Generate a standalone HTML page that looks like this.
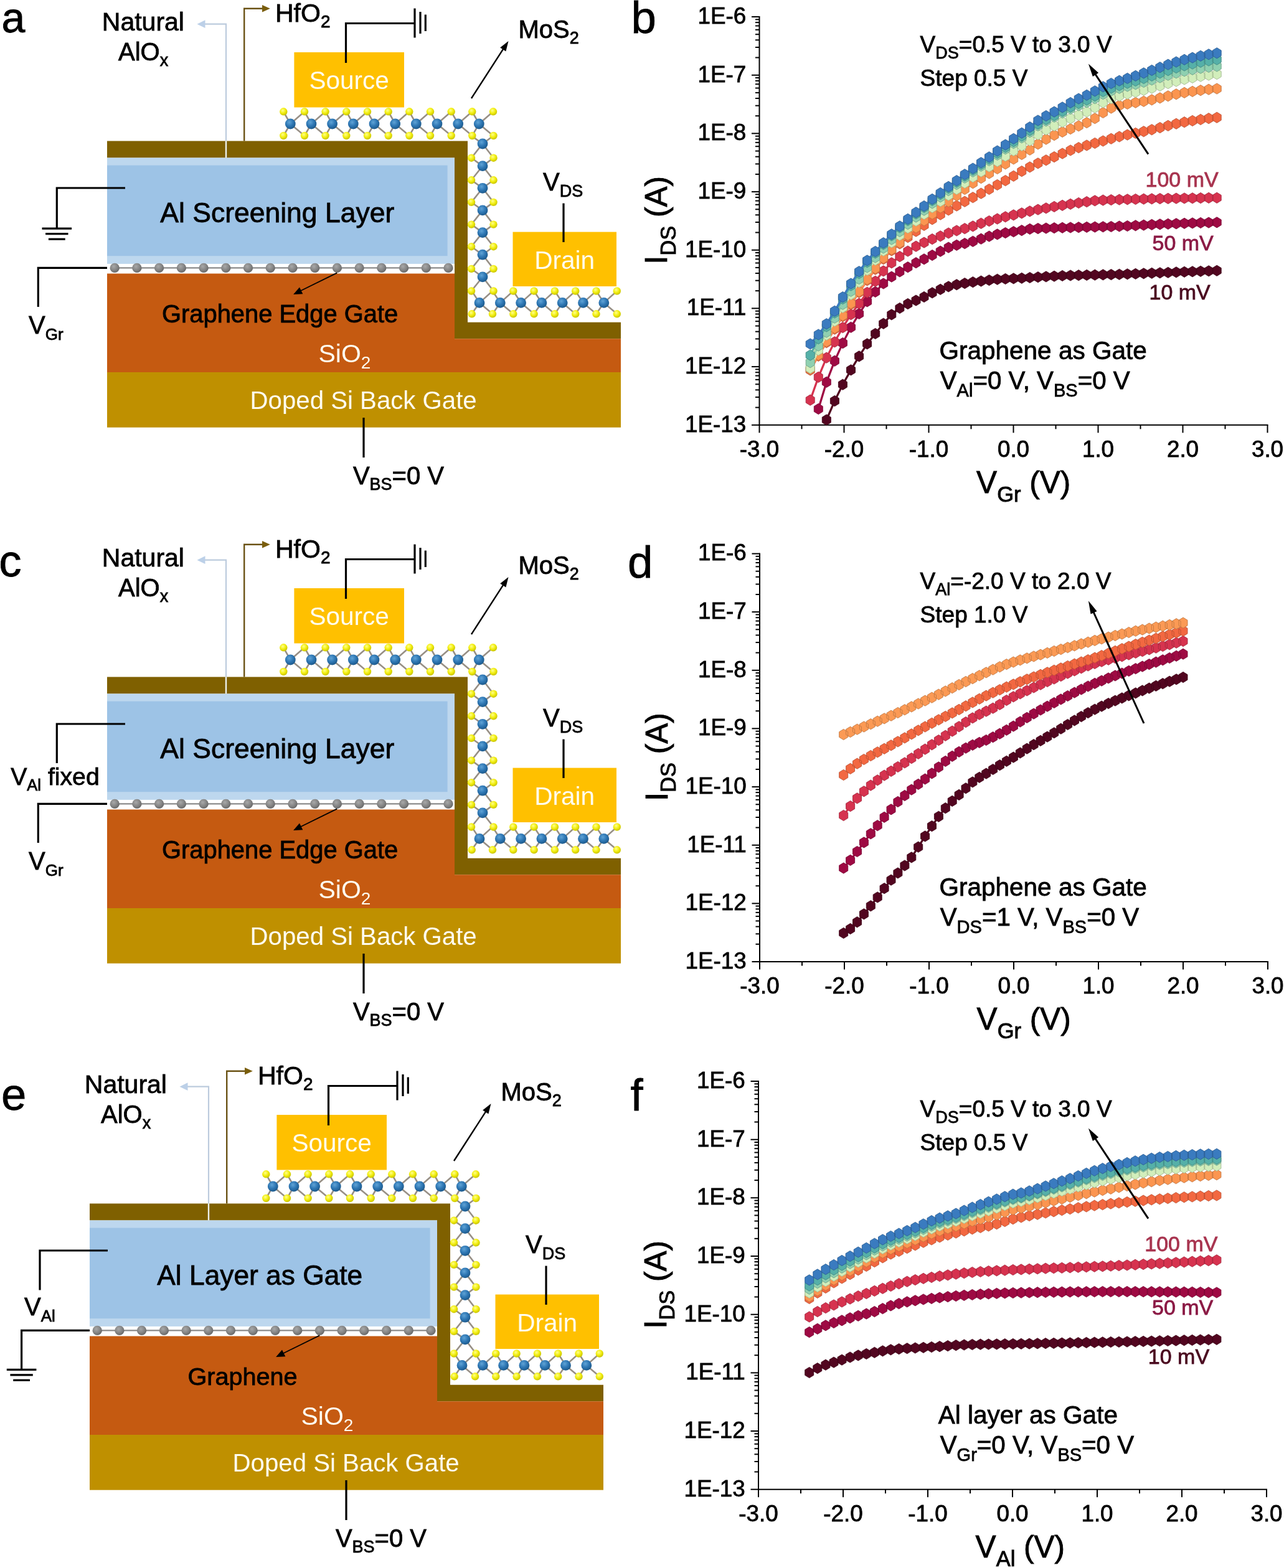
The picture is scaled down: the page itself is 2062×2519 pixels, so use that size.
<!DOCTYPE html><html><head><meta charset="utf-8"><title>Figure</title><style>html,body{margin:0;padding:0;background:#fff;width:2062px;height:2519px;overflow:hidden}svg{display:block;font-family:'Liberation Sans', Arial, sans-serif}</style></head><body><svg width="2062" height="2519" viewBox="0 0 2062 2519"><defs>
<radialGradient id="gMo" cx="0.4" cy="0.35" r="0.65"><stop offset="0" stop-color="#5fa3d6"/><stop offset="0.55" stop-color="#2e77b4"/><stop offset="1" stop-color="#1d5a8c"/></radialGradient>
<radialGradient id="gS" cx="0.4" cy="0.35" r="0.65"><stop offset="0" stop-color="#ffff8c"/><stop offset="0.55" stop-color="#f2ee10"/><stop offset="1" stop-color="#c9c400"/></radialGradient>
<radialGradient id="gC" cx="0.4" cy="0.35" r="0.65"><stop offset="0" stop-color="#a8a8a8"/><stop offset="0.6" stop-color="#858585"/><stop offset="1" stop-color="#686868"/></radialGradient>
</defs><rect width="2062" height="2519" fill="#fff"/><g transform="translate(0,0)">
<polygon points="172,226.4 751,226.4 751,517.8 997,517.8 997,544.2 730,544.2 730,253.5 172,253.5" fill="#7f6000"/>
<rect x="172" y="253.5" width="558" height="170.4" fill="#bdd7ee"/>
<rect x="172" y="265.6" width="546.6" height="145.6" fill="#9dc3e6"/>
<polygon points="172,439.6 730,439.6 730,544.2 997,544.2 997,598 172,598" fill="#c55a11"/>
<rect x="172" y="598" width="825" height="88.7" fill="#bf9000"/>
<polyline points="363,226.4 363,38.7 327,38.7" fill="none" stroke="#bccbdd" stroke-width="2.2"/>
<line x1="363" y1="226.4" x2="363" y2="253.5" stroke="#edf2ee" stroke-width="2.4"/>
<polygon points="316.5,38.7 329.5,32.3 329.5,45.1" fill="#bcd0e8"/>
<polyline points="392.2,226.4 392.2,13.8 423,13.8" fill="none" stroke="#6a5214" stroke-width="2.4"/>
<polygon points="433.8,13.8 421,8 421,19.6" fill="#7a5e0c"/>
<line x1="184" y1="430.4" x2="720" y2="430.4" stroke="#8a8a8a" stroke-width="2.2"/>
<circle cx="184.2" cy="430.4" r="7.7" fill="url(#gC)"/>
<circle cx="219.9" cy="430.4" r="7.7" fill="url(#gC)"/>
<circle cx="255.6" cy="430.4" r="7.7" fill="url(#gC)"/>
<circle cx="291.4" cy="430.4" r="7.7" fill="url(#gC)"/>
<circle cx="327.1" cy="430.4" r="7.7" fill="url(#gC)"/>
<circle cx="362.8" cy="430.4" r="7.7" fill="url(#gC)"/>
<circle cx="398.5" cy="430.4" r="7.7" fill="url(#gC)"/>
<circle cx="434.2" cy="430.4" r="7.7" fill="url(#gC)"/>
<circle cx="470.0" cy="430.4" r="7.7" fill="url(#gC)"/>
<circle cx="505.7" cy="430.4" r="7.7" fill="url(#gC)"/>
<circle cx="541.4" cy="430.4" r="7.7" fill="url(#gC)"/>
<circle cx="577.1" cy="430.4" r="7.7" fill="url(#gC)"/>
<circle cx="612.8" cy="430.4" r="7.7" fill="url(#gC)"/>
<circle cx="648.6" cy="430.4" r="7.7" fill="url(#gC)"/>
<circle cx="684.3" cy="430.4" r="7.7" fill="url(#gC)"/>
<circle cx="720.0" cy="430.4" r="7.7" fill="url(#gC)"/>
<line x1="541.3" y1="438.4" x2="481.1" y2="468.0" stroke="#000" stroke-width="1.8"/><polygon points="471.1,473.0 481.0,461.4 486.3,472.2" fill="#000"/>
<g stroke="#978f85" stroke-width="2.6">
<line x1="466.3" y1="199.0" x2="455.3" y2="179.3"/>
<line x1="466.3" y1="199.0" x2="455.3" y2="218.0"/>
<line x1="466.3" y1="199.0" x2="489.0" y2="179.3"/>
<line x1="466.3" y1="199.0" x2="489.0" y2="218.0"/>
<line x1="500.0" y1="199.0" x2="489.0" y2="179.3"/>
<line x1="500.0" y1="199.0" x2="489.0" y2="218.0"/>
<line x1="500.0" y1="199.0" x2="522.6" y2="179.3"/>
<line x1="500.0" y1="199.0" x2="522.6" y2="218.0"/>
<line x1="533.6" y1="199.0" x2="522.6" y2="179.3"/>
<line x1="533.6" y1="199.0" x2="522.6" y2="218.0"/>
<line x1="533.6" y1="199.0" x2="556.3" y2="179.3"/>
<line x1="533.6" y1="199.0" x2="556.3" y2="218.0"/>
<line x1="567.3" y1="199.0" x2="556.3" y2="179.3"/>
<line x1="567.3" y1="199.0" x2="556.3" y2="218.0"/>
<line x1="567.3" y1="199.0" x2="590.0" y2="179.3"/>
<line x1="567.3" y1="199.0" x2="590.0" y2="218.0"/>
<line x1="601.0" y1="199.0" x2="590.0" y2="179.3"/>
<line x1="601.0" y1="199.0" x2="590.0" y2="218.0"/>
<line x1="601.0" y1="199.0" x2="623.7" y2="179.3"/>
<line x1="601.0" y1="199.0" x2="623.7" y2="218.0"/>
<line x1="634.7" y1="199.0" x2="623.7" y2="179.3"/>
<line x1="634.7" y1="199.0" x2="623.7" y2="218.0"/>
<line x1="634.7" y1="199.0" x2="657.3" y2="179.3"/>
<line x1="634.7" y1="199.0" x2="657.3" y2="218.0"/>
<line x1="668.3" y1="199.0" x2="657.3" y2="179.3"/>
<line x1="668.3" y1="199.0" x2="657.3" y2="218.0"/>
<line x1="668.3" y1="199.0" x2="691.0" y2="179.3"/>
<line x1="668.3" y1="199.0" x2="691.0" y2="218.0"/>
<line x1="702.0" y1="199.0" x2="691.0" y2="179.3"/>
<line x1="702.0" y1="199.0" x2="691.0" y2="218.0"/>
<line x1="702.0" y1="199.0" x2="724.7" y2="179.3"/>
<line x1="702.0" y1="199.0" x2="724.7" y2="218.0"/>
<line x1="735.7" y1="199.0" x2="724.7" y2="179.3"/>
<line x1="735.7" y1="199.0" x2="724.7" y2="218.0"/>
<line x1="735.7" y1="199.0" x2="758.3" y2="179.3"/>
<line x1="735.7" y1="199.0" x2="758.3" y2="218.0"/>
<line x1="769.3" y1="199.0" x2="758.3" y2="179.3"/>
<line x1="769.3" y1="199.0" x2="758.3" y2="218.0"/>
<line x1="769.3" y1="199.0" x2="792.0" y2="179.3"/>
<line x1="769.3" y1="199.0" x2="792.0" y2="218.0"/>
<line x1="775.0" y1="231.0" x2="757.0" y2="218.0"/>
<line x1="775.0" y1="231.0" x2="792.5" y2="218.0"/>
<line x1="775.0" y1="231.0" x2="757.0" y2="253.7"/>
<line x1="775.0" y1="231.0" x2="792.5" y2="253.7"/>
<line x1="775.0" y1="266.6" x2="757.0" y2="253.7"/>
<line x1="775.0" y1="266.6" x2="792.5" y2="253.7"/>
<line x1="775.0" y1="266.6" x2="757.0" y2="289.3"/>
<line x1="775.0" y1="266.6" x2="792.5" y2="289.3"/>
<line x1="775.0" y1="302.3" x2="757.0" y2="289.3"/>
<line x1="775.0" y1="302.3" x2="792.5" y2="289.3"/>
<line x1="775.0" y1="302.3" x2="757.0" y2="324.9"/>
<line x1="775.0" y1="302.3" x2="792.5" y2="324.9"/>
<line x1="775.0" y1="337.9" x2="757.0" y2="324.9"/>
<line x1="775.0" y1="337.9" x2="792.5" y2="324.9"/>
<line x1="775.0" y1="337.9" x2="757.0" y2="360.6"/>
<line x1="775.0" y1="337.9" x2="792.5" y2="360.6"/>
<line x1="775.0" y1="373.6" x2="757.0" y2="360.6"/>
<line x1="775.0" y1="373.6" x2="792.5" y2="360.6"/>
<line x1="775.0" y1="373.6" x2="757.0" y2="396.2"/>
<line x1="775.0" y1="373.6" x2="792.5" y2="396.2"/>
<line x1="775.0" y1="409.2" x2="757.0" y2="396.2"/>
<line x1="775.0" y1="409.2" x2="792.5" y2="396.2"/>
<line x1="775.0" y1="409.2" x2="757.0" y2="431.9"/>
<line x1="775.0" y1="409.2" x2="792.5" y2="431.9"/>
<line x1="775.0" y1="444.9" x2="757.0" y2="431.9"/>
<line x1="775.0" y1="444.9" x2="792.5" y2="431.9"/>
<line x1="775.0" y1="444.9" x2="757.0" y2="467.5"/>
<line x1="775.0" y1="444.9" x2="792.5" y2="467.5"/>
<line x1="770.0" y1="486.4" x2="757.7" y2="467.5"/>
<line x1="770.0" y1="486.4" x2="757.7" y2="504.3"/>
<line x1="770.0" y1="486.4" x2="791.0" y2="467.5"/>
<line x1="770.0" y1="486.4" x2="791.0" y2="504.3"/>
<line x1="803.3" y1="486.4" x2="791.0" y2="467.5"/>
<line x1="803.3" y1="486.4" x2="791.0" y2="504.3"/>
<line x1="803.3" y1="486.4" x2="824.3" y2="467.5"/>
<line x1="803.3" y1="486.4" x2="824.3" y2="504.3"/>
<line x1="836.6" y1="486.4" x2="824.3" y2="467.5"/>
<line x1="836.6" y1="486.4" x2="824.3" y2="504.3"/>
<line x1="836.6" y1="486.4" x2="857.6" y2="467.5"/>
<line x1="836.6" y1="486.4" x2="857.6" y2="504.3"/>
<line x1="869.9" y1="486.4" x2="857.6" y2="467.5"/>
<line x1="869.9" y1="486.4" x2="857.6" y2="504.3"/>
<line x1="869.9" y1="486.4" x2="890.9" y2="467.5"/>
<line x1="869.9" y1="486.4" x2="890.9" y2="504.3"/>
<line x1="903.2" y1="486.4" x2="890.9" y2="467.5"/>
<line x1="903.2" y1="486.4" x2="890.9" y2="504.3"/>
<line x1="903.2" y1="486.4" x2="924.2" y2="467.5"/>
<line x1="903.2" y1="486.4" x2="924.2" y2="504.3"/>
<line x1="936.5" y1="486.4" x2="924.2" y2="467.5"/>
<line x1="936.5" y1="486.4" x2="924.2" y2="504.3"/>
<line x1="936.5" y1="486.4" x2="957.5" y2="467.5"/>
<line x1="936.5" y1="486.4" x2="957.5" y2="504.3"/>
<line x1="969.8" y1="486.4" x2="957.5" y2="467.5"/>
<line x1="969.8" y1="486.4" x2="957.5" y2="504.3"/>
<line x1="969.8" y1="486.4" x2="990.8" y2="467.5"/>
<line x1="969.8" y1="486.4" x2="990.8" y2="504.3"/>
</g>
<circle cx="455.3" cy="179.3" r="6.2" fill="url(#gS)"/>
<circle cx="489.0" cy="179.3" r="6.2" fill="url(#gS)"/>
<circle cx="522.6" cy="179.3" r="6.2" fill="url(#gS)"/>
<circle cx="556.3" cy="179.3" r="6.2" fill="url(#gS)"/>
<circle cx="590.0" cy="179.3" r="6.2" fill="url(#gS)"/>
<circle cx="623.7" cy="179.3" r="6.2" fill="url(#gS)"/>
<circle cx="657.3" cy="179.3" r="6.2" fill="url(#gS)"/>
<circle cx="691.0" cy="179.3" r="6.2" fill="url(#gS)"/>
<circle cx="724.7" cy="179.3" r="6.2" fill="url(#gS)"/>
<circle cx="758.3" cy="179.3" r="6.2" fill="url(#gS)"/>
<circle cx="792.0" cy="179.3" r="6.2" fill="url(#gS)"/>
<circle cx="455.3" cy="218.0" r="6.2" fill="url(#gS)"/>
<circle cx="489.0" cy="218.0" r="6.2" fill="url(#gS)"/>
<circle cx="522.6" cy="218.0" r="6.2" fill="url(#gS)"/>
<circle cx="556.3" cy="218.0" r="6.2" fill="url(#gS)"/>
<circle cx="590.0" cy="218.0" r="6.2" fill="url(#gS)"/>
<circle cx="623.7" cy="218.0" r="6.2" fill="url(#gS)"/>
<circle cx="657.3" cy="218.0" r="6.2" fill="url(#gS)"/>
<circle cx="691.0" cy="218.0" r="6.2" fill="url(#gS)"/>
<circle cx="724.7" cy="218.0" r="6.2" fill="url(#gS)"/>
<circle cx="758.3" cy="218.0" r="6.2" fill="url(#gS)"/>
<circle cx="792.5" cy="218.0" r="6.2" fill="url(#gS)"/>
<circle cx="757.0" cy="253.7" r="6.2" fill="url(#gS)"/>
<circle cx="792.5" cy="253.7" r="6.2" fill="url(#gS)"/>
<circle cx="757.0" cy="289.3" r="6.2" fill="url(#gS)"/>
<circle cx="792.5" cy="289.3" r="6.2" fill="url(#gS)"/>
<circle cx="757.0" cy="324.9" r="6.2" fill="url(#gS)"/>
<circle cx="792.5" cy="324.9" r="6.2" fill="url(#gS)"/>
<circle cx="757.0" cy="360.6" r="6.2" fill="url(#gS)"/>
<circle cx="792.5" cy="360.6" r="6.2" fill="url(#gS)"/>
<circle cx="757.0" cy="396.2" r="6.2" fill="url(#gS)"/>
<circle cx="792.5" cy="396.2" r="6.2" fill="url(#gS)"/>
<circle cx="757.0" cy="431.9" r="6.2" fill="url(#gS)"/>
<circle cx="792.5" cy="431.9" r="6.2" fill="url(#gS)"/>
<circle cx="757.0" cy="467.5" r="6.2" fill="url(#gS)"/>
<circle cx="792.5" cy="467.5" r="6.2" fill="url(#gS)"/>
<circle cx="757.7" cy="504.3" r="6.2" fill="url(#gS)"/>
<circle cx="791.0" cy="504.3" r="6.2" fill="url(#gS)"/>
<circle cx="824.3" cy="467.5" r="6.2" fill="url(#gS)"/>
<circle cx="824.3" cy="504.3" r="6.2" fill="url(#gS)"/>
<circle cx="857.6" cy="467.5" r="6.2" fill="url(#gS)"/>
<circle cx="857.6" cy="504.3" r="6.2" fill="url(#gS)"/>
<circle cx="890.9" cy="467.5" r="6.2" fill="url(#gS)"/>
<circle cx="890.9" cy="504.3" r="6.2" fill="url(#gS)"/>
<circle cx="924.2" cy="467.5" r="6.2" fill="url(#gS)"/>
<circle cx="924.2" cy="504.3" r="6.2" fill="url(#gS)"/>
<circle cx="957.5" cy="467.5" r="6.2" fill="url(#gS)"/>
<circle cx="957.5" cy="504.3" r="6.2" fill="url(#gS)"/>
<circle cx="990.8" cy="467.5" r="6.2" fill="url(#gS)"/>
<circle cx="990.8" cy="504.3" r="6.2" fill="url(#gS)"/>
<circle cx="466.3" cy="199.0" r="8.4" fill="url(#gMo)"/>
<circle cx="500.0" cy="199.0" r="8.4" fill="url(#gMo)"/>
<circle cx="533.6" cy="199.0" r="8.4" fill="url(#gMo)"/>
<circle cx="567.3" cy="199.0" r="8.4" fill="url(#gMo)"/>
<circle cx="601.0" cy="199.0" r="8.4" fill="url(#gMo)"/>
<circle cx="634.7" cy="199.0" r="8.4" fill="url(#gMo)"/>
<circle cx="668.3" cy="199.0" r="8.4" fill="url(#gMo)"/>
<circle cx="702.0" cy="199.0" r="8.4" fill="url(#gMo)"/>
<circle cx="735.7" cy="199.0" r="8.4" fill="url(#gMo)"/>
<circle cx="769.3" cy="199.0" r="8.4" fill="url(#gMo)"/>
<circle cx="775.0" cy="231.0" r="8.4" fill="url(#gMo)"/>
<circle cx="775.0" cy="266.6" r="8.4" fill="url(#gMo)"/>
<circle cx="775.0" cy="302.3" r="8.4" fill="url(#gMo)"/>
<circle cx="775.0" cy="337.9" r="8.4" fill="url(#gMo)"/>
<circle cx="775.0" cy="373.6" r="8.4" fill="url(#gMo)"/>
<circle cx="775.0" cy="409.2" r="8.4" fill="url(#gMo)"/>
<circle cx="775.0" cy="444.9" r="8.4" fill="url(#gMo)"/>
<circle cx="770.0" cy="486.4" r="8.4" fill="url(#gMo)"/>
<circle cx="803.3" cy="486.4" r="8.4" fill="url(#gMo)"/>
<circle cx="836.6" cy="486.4" r="8.4" fill="url(#gMo)"/>
<circle cx="869.9" cy="486.4" r="8.4" fill="url(#gMo)"/>
<circle cx="903.2" cy="486.4" r="8.4" fill="url(#gMo)"/>
<circle cx="936.5" cy="486.4" r="8.4" fill="url(#gMo)"/>
<circle cx="969.8" cy="486.4" r="8.4" fill="url(#gMo)"/>
<rect x="472.4" y="84" width="176.6" height="88.5" fill="#ffc000"/>
<rect x="823.5" y="372.6" width="166.5" height="87.4" fill="#ffc000"/>
<g stroke="#000" stroke-width="3.2" fill="none">
<polyline points="555.5,101 555.5,37.5 666,37.5"/>
<line x1="666" y1="13.5" x2="666" y2="60.5"/>
<line x1="675" y1="19" x2="675" y2="54"/>
<line x1="683.3" y1="23.5" x2="683.3" y2="50"/>
<line x1="905" y1="326.6" x2="905" y2="389"/>
<line x1="584" y1="671" x2="584" y2="735"/>
<polyline points="201,302 91.3,302 91.3,367.2"/>
<polyline points="172,430.4 61.3,430.4 61.3,493"/>
</g>
<g stroke="#000" stroke-width="3.2"><line x1="67.5" y1="367.2" x2="115.1" y2="367.2"/><line x1="73.1" y1="375.7" x2="109.5" y2="375.7"/><line x1="77.9" y1="384.2" x2="104.7" y2="384.2"/></g>
<line x1="757.0" y1="158.0" x2="809.5" y2="76.7" stroke="#000" stroke-width="2.4"/><polygon points="816.5,66.0 812.4,82.4 803.2,76.4" fill="#000"/>
<g font-family="'Liberation Sans', Arial, sans-serif">
<text x="163.8" y="49.0" font-size="41" fill="#000" stroke="#000" stroke-width="0.8" text-anchor="start">Natural</text>
<text x="190.0" y="96.5" font-size="40" fill="#000" stroke="#000" stroke-width="0.8" text-anchor="start">AlO<tspan font-size="27" dy="9">x</tspan></text>
<text x="442.0" y="34.6" font-size="41" fill="#000" stroke="#000" stroke-width="0.8" text-anchor="start">HfO<tspan font-size="28" dy="9">2</tspan></text>
<text x="832.5" y="60.5" font-size="40" fill="#000" stroke="#000" stroke-width="0.8" text-anchor="start">MoS<tspan font-size="27" dy="9">2</tspan></text>
<text x="872.0" y="306.0" font-size="40" fill="#000" stroke="#000" stroke-width="0.8" text-anchor="start">V<tspan font-size="27" dy="10">DS</tspan></text>
<text x="496.5" y="143.0" font-size="40.5" fill="#fffdf0" stroke="#fffdf0" stroke-width="0" text-anchor="start">Source</text>
<text x="858.2" y="431.8" font-size="40.6" fill="#fffdf0" stroke="#fffdf0" stroke-width="0" text-anchor="start">Drain</text>
<text x="257.3" y="357.2" font-size="44.5" fill="#000" stroke="#000" stroke-width="0.8" text-anchor="start">Al Screening Layer</text>
<text x="260.0" y="517.9" font-size="39.9" fill="#000" stroke="#000" stroke-width="0.8" text-anchor="start">Graphene Edge Gate</text>
<text x="511.5" y="582.0" font-size="41" fill="#fffdf0" stroke="#fffdf0" stroke-width="0" text-anchor="start">SiO<tspan font-size="28" dy="10">2</tspan></text>
<text x="401.6" y="656.6" font-size="40.2" fill="#fffdf0" stroke="#fffdf0" stroke-width="0" text-anchor="start">Doped Si Back Gate</text>
<text x="566.9" y="778.4" font-size="40" fill="#000" stroke="#000" stroke-width="0.8" text-anchor="start">V<tspan font-size="27" dy="9">BS</tspan><tspan dy="-9">=0 V</tspan></text>
<text x="46.0" y="536.4" font-size="40" fill="#000" stroke="#000" stroke-width="0.8" text-anchor="start">V<tspan font-size="26" dy="10">Gr</tspan></text>
</g>
</g>
<text font-family="'Liberation Sans', Arial, sans-serif" x="2.5" y="51.5" font-size="68" stroke="#000" stroke-width="0.8">a</text>
<g transform="translate(0,861)">
<polygon points="172,226.4 751,226.4 751,517.8 997,517.8 997,544.2 730,544.2 730,253.5 172,253.5" fill="#7f6000"/>
<rect x="172" y="253.5" width="558" height="170.4" fill="#bdd7ee"/>
<rect x="172" y="265.6" width="546.6" height="145.6" fill="#9dc3e6"/>
<polygon points="172,439.6 730,439.6 730,544.2 997,544.2 997,598 172,598" fill="#c55a11"/>
<rect x="172" y="598" width="825" height="88.7" fill="#bf9000"/>
<polyline points="363,226.4 363,38.7 327,38.7" fill="none" stroke="#bccbdd" stroke-width="2.2"/>
<line x1="363" y1="226.4" x2="363" y2="253.5" stroke="#edf2ee" stroke-width="2.4"/>
<polygon points="316.5,38.7 329.5,32.3 329.5,45.1" fill="#bcd0e8"/>
<polyline points="392.2,226.4 392.2,13.8 423,13.8" fill="none" stroke="#6a5214" stroke-width="2.4"/>
<polygon points="433.8,13.8 421,8 421,19.6" fill="#7a5e0c"/>
<line x1="184" y1="430.4" x2="720" y2="430.4" stroke="#8a8a8a" stroke-width="2.2"/>
<circle cx="184.2" cy="430.4" r="7.7" fill="url(#gC)"/>
<circle cx="219.9" cy="430.4" r="7.7" fill="url(#gC)"/>
<circle cx="255.6" cy="430.4" r="7.7" fill="url(#gC)"/>
<circle cx="291.4" cy="430.4" r="7.7" fill="url(#gC)"/>
<circle cx="327.1" cy="430.4" r="7.7" fill="url(#gC)"/>
<circle cx="362.8" cy="430.4" r="7.7" fill="url(#gC)"/>
<circle cx="398.5" cy="430.4" r="7.7" fill="url(#gC)"/>
<circle cx="434.2" cy="430.4" r="7.7" fill="url(#gC)"/>
<circle cx="470.0" cy="430.4" r="7.7" fill="url(#gC)"/>
<circle cx="505.7" cy="430.4" r="7.7" fill="url(#gC)"/>
<circle cx="541.4" cy="430.4" r="7.7" fill="url(#gC)"/>
<circle cx="577.1" cy="430.4" r="7.7" fill="url(#gC)"/>
<circle cx="612.8" cy="430.4" r="7.7" fill="url(#gC)"/>
<circle cx="648.6" cy="430.4" r="7.7" fill="url(#gC)"/>
<circle cx="684.3" cy="430.4" r="7.7" fill="url(#gC)"/>
<circle cx="720.0" cy="430.4" r="7.7" fill="url(#gC)"/>
<line x1="541.3" y1="438.4" x2="481.1" y2="468.0" stroke="#000" stroke-width="1.8"/><polygon points="471.1,473.0 481.0,461.4 486.3,472.2" fill="#000"/>
<g stroke="#978f85" stroke-width="2.6">
<line x1="466.3" y1="199.0" x2="455.3" y2="179.3"/>
<line x1="466.3" y1="199.0" x2="455.3" y2="218.0"/>
<line x1="466.3" y1="199.0" x2="489.0" y2="179.3"/>
<line x1="466.3" y1="199.0" x2="489.0" y2="218.0"/>
<line x1="500.0" y1="199.0" x2="489.0" y2="179.3"/>
<line x1="500.0" y1="199.0" x2="489.0" y2="218.0"/>
<line x1="500.0" y1="199.0" x2="522.6" y2="179.3"/>
<line x1="500.0" y1="199.0" x2="522.6" y2="218.0"/>
<line x1="533.6" y1="199.0" x2="522.6" y2="179.3"/>
<line x1="533.6" y1="199.0" x2="522.6" y2="218.0"/>
<line x1="533.6" y1="199.0" x2="556.3" y2="179.3"/>
<line x1="533.6" y1="199.0" x2="556.3" y2="218.0"/>
<line x1="567.3" y1="199.0" x2="556.3" y2="179.3"/>
<line x1="567.3" y1="199.0" x2="556.3" y2="218.0"/>
<line x1="567.3" y1="199.0" x2="590.0" y2="179.3"/>
<line x1="567.3" y1="199.0" x2="590.0" y2="218.0"/>
<line x1="601.0" y1="199.0" x2="590.0" y2="179.3"/>
<line x1="601.0" y1="199.0" x2="590.0" y2="218.0"/>
<line x1="601.0" y1="199.0" x2="623.7" y2="179.3"/>
<line x1="601.0" y1="199.0" x2="623.7" y2="218.0"/>
<line x1="634.7" y1="199.0" x2="623.7" y2="179.3"/>
<line x1="634.7" y1="199.0" x2="623.7" y2="218.0"/>
<line x1="634.7" y1="199.0" x2="657.3" y2="179.3"/>
<line x1="634.7" y1="199.0" x2="657.3" y2="218.0"/>
<line x1="668.3" y1="199.0" x2="657.3" y2="179.3"/>
<line x1="668.3" y1="199.0" x2="657.3" y2="218.0"/>
<line x1="668.3" y1="199.0" x2="691.0" y2="179.3"/>
<line x1="668.3" y1="199.0" x2="691.0" y2="218.0"/>
<line x1="702.0" y1="199.0" x2="691.0" y2="179.3"/>
<line x1="702.0" y1="199.0" x2="691.0" y2="218.0"/>
<line x1="702.0" y1="199.0" x2="724.7" y2="179.3"/>
<line x1="702.0" y1="199.0" x2="724.7" y2="218.0"/>
<line x1="735.7" y1="199.0" x2="724.7" y2="179.3"/>
<line x1="735.7" y1="199.0" x2="724.7" y2="218.0"/>
<line x1="735.7" y1="199.0" x2="758.3" y2="179.3"/>
<line x1="735.7" y1="199.0" x2="758.3" y2="218.0"/>
<line x1="769.3" y1="199.0" x2="758.3" y2="179.3"/>
<line x1="769.3" y1="199.0" x2="758.3" y2="218.0"/>
<line x1="769.3" y1="199.0" x2="792.0" y2="179.3"/>
<line x1="769.3" y1="199.0" x2="792.0" y2="218.0"/>
<line x1="775.0" y1="231.0" x2="757.0" y2="218.0"/>
<line x1="775.0" y1="231.0" x2="792.5" y2="218.0"/>
<line x1="775.0" y1="231.0" x2="757.0" y2="253.7"/>
<line x1="775.0" y1="231.0" x2="792.5" y2="253.7"/>
<line x1="775.0" y1="266.6" x2="757.0" y2="253.7"/>
<line x1="775.0" y1="266.6" x2="792.5" y2="253.7"/>
<line x1="775.0" y1="266.6" x2="757.0" y2="289.3"/>
<line x1="775.0" y1="266.6" x2="792.5" y2="289.3"/>
<line x1="775.0" y1="302.3" x2="757.0" y2="289.3"/>
<line x1="775.0" y1="302.3" x2="792.5" y2="289.3"/>
<line x1="775.0" y1="302.3" x2="757.0" y2="324.9"/>
<line x1="775.0" y1="302.3" x2="792.5" y2="324.9"/>
<line x1="775.0" y1="337.9" x2="757.0" y2="324.9"/>
<line x1="775.0" y1="337.9" x2="792.5" y2="324.9"/>
<line x1="775.0" y1="337.9" x2="757.0" y2="360.6"/>
<line x1="775.0" y1="337.9" x2="792.5" y2="360.6"/>
<line x1="775.0" y1="373.6" x2="757.0" y2="360.6"/>
<line x1="775.0" y1="373.6" x2="792.5" y2="360.6"/>
<line x1="775.0" y1="373.6" x2="757.0" y2="396.2"/>
<line x1="775.0" y1="373.6" x2="792.5" y2="396.2"/>
<line x1="775.0" y1="409.2" x2="757.0" y2="396.2"/>
<line x1="775.0" y1="409.2" x2="792.5" y2="396.2"/>
<line x1="775.0" y1="409.2" x2="757.0" y2="431.9"/>
<line x1="775.0" y1="409.2" x2="792.5" y2="431.9"/>
<line x1="775.0" y1="444.9" x2="757.0" y2="431.9"/>
<line x1="775.0" y1="444.9" x2="792.5" y2="431.9"/>
<line x1="775.0" y1="444.9" x2="757.0" y2="467.5"/>
<line x1="775.0" y1="444.9" x2="792.5" y2="467.5"/>
<line x1="770.0" y1="486.4" x2="757.7" y2="467.5"/>
<line x1="770.0" y1="486.4" x2="757.7" y2="504.3"/>
<line x1="770.0" y1="486.4" x2="791.0" y2="467.5"/>
<line x1="770.0" y1="486.4" x2="791.0" y2="504.3"/>
<line x1="803.3" y1="486.4" x2="791.0" y2="467.5"/>
<line x1="803.3" y1="486.4" x2="791.0" y2="504.3"/>
<line x1="803.3" y1="486.4" x2="824.3" y2="467.5"/>
<line x1="803.3" y1="486.4" x2="824.3" y2="504.3"/>
<line x1="836.6" y1="486.4" x2="824.3" y2="467.5"/>
<line x1="836.6" y1="486.4" x2="824.3" y2="504.3"/>
<line x1="836.6" y1="486.4" x2="857.6" y2="467.5"/>
<line x1="836.6" y1="486.4" x2="857.6" y2="504.3"/>
<line x1="869.9" y1="486.4" x2="857.6" y2="467.5"/>
<line x1="869.9" y1="486.4" x2="857.6" y2="504.3"/>
<line x1="869.9" y1="486.4" x2="890.9" y2="467.5"/>
<line x1="869.9" y1="486.4" x2="890.9" y2="504.3"/>
<line x1="903.2" y1="486.4" x2="890.9" y2="467.5"/>
<line x1="903.2" y1="486.4" x2="890.9" y2="504.3"/>
<line x1="903.2" y1="486.4" x2="924.2" y2="467.5"/>
<line x1="903.2" y1="486.4" x2="924.2" y2="504.3"/>
<line x1="936.5" y1="486.4" x2="924.2" y2="467.5"/>
<line x1="936.5" y1="486.4" x2="924.2" y2="504.3"/>
<line x1="936.5" y1="486.4" x2="957.5" y2="467.5"/>
<line x1="936.5" y1="486.4" x2="957.5" y2="504.3"/>
<line x1="969.8" y1="486.4" x2="957.5" y2="467.5"/>
<line x1="969.8" y1="486.4" x2="957.5" y2="504.3"/>
<line x1="969.8" y1="486.4" x2="990.8" y2="467.5"/>
<line x1="969.8" y1="486.4" x2="990.8" y2="504.3"/>
</g>
<circle cx="455.3" cy="179.3" r="6.2" fill="url(#gS)"/>
<circle cx="489.0" cy="179.3" r="6.2" fill="url(#gS)"/>
<circle cx="522.6" cy="179.3" r="6.2" fill="url(#gS)"/>
<circle cx="556.3" cy="179.3" r="6.2" fill="url(#gS)"/>
<circle cx="590.0" cy="179.3" r="6.2" fill="url(#gS)"/>
<circle cx="623.7" cy="179.3" r="6.2" fill="url(#gS)"/>
<circle cx="657.3" cy="179.3" r="6.2" fill="url(#gS)"/>
<circle cx="691.0" cy="179.3" r="6.2" fill="url(#gS)"/>
<circle cx="724.7" cy="179.3" r="6.2" fill="url(#gS)"/>
<circle cx="758.3" cy="179.3" r="6.2" fill="url(#gS)"/>
<circle cx="792.0" cy="179.3" r="6.2" fill="url(#gS)"/>
<circle cx="455.3" cy="218.0" r="6.2" fill="url(#gS)"/>
<circle cx="489.0" cy="218.0" r="6.2" fill="url(#gS)"/>
<circle cx="522.6" cy="218.0" r="6.2" fill="url(#gS)"/>
<circle cx="556.3" cy="218.0" r="6.2" fill="url(#gS)"/>
<circle cx="590.0" cy="218.0" r="6.2" fill="url(#gS)"/>
<circle cx="623.7" cy="218.0" r="6.2" fill="url(#gS)"/>
<circle cx="657.3" cy="218.0" r="6.2" fill="url(#gS)"/>
<circle cx="691.0" cy="218.0" r="6.2" fill="url(#gS)"/>
<circle cx="724.7" cy="218.0" r="6.2" fill="url(#gS)"/>
<circle cx="758.3" cy="218.0" r="6.2" fill="url(#gS)"/>
<circle cx="792.5" cy="218.0" r="6.2" fill="url(#gS)"/>
<circle cx="757.0" cy="253.7" r="6.2" fill="url(#gS)"/>
<circle cx="792.5" cy="253.7" r="6.2" fill="url(#gS)"/>
<circle cx="757.0" cy="289.3" r="6.2" fill="url(#gS)"/>
<circle cx="792.5" cy="289.3" r="6.2" fill="url(#gS)"/>
<circle cx="757.0" cy="324.9" r="6.2" fill="url(#gS)"/>
<circle cx="792.5" cy="324.9" r="6.2" fill="url(#gS)"/>
<circle cx="757.0" cy="360.6" r="6.2" fill="url(#gS)"/>
<circle cx="792.5" cy="360.6" r="6.2" fill="url(#gS)"/>
<circle cx="757.0" cy="396.2" r="6.2" fill="url(#gS)"/>
<circle cx="792.5" cy="396.2" r="6.2" fill="url(#gS)"/>
<circle cx="757.0" cy="431.9" r="6.2" fill="url(#gS)"/>
<circle cx="792.5" cy="431.9" r="6.2" fill="url(#gS)"/>
<circle cx="757.0" cy="467.5" r="6.2" fill="url(#gS)"/>
<circle cx="792.5" cy="467.5" r="6.2" fill="url(#gS)"/>
<circle cx="757.7" cy="504.3" r="6.2" fill="url(#gS)"/>
<circle cx="791.0" cy="504.3" r="6.2" fill="url(#gS)"/>
<circle cx="824.3" cy="467.5" r="6.2" fill="url(#gS)"/>
<circle cx="824.3" cy="504.3" r="6.2" fill="url(#gS)"/>
<circle cx="857.6" cy="467.5" r="6.2" fill="url(#gS)"/>
<circle cx="857.6" cy="504.3" r="6.2" fill="url(#gS)"/>
<circle cx="890.9" cy="467.5" r="6.2" fill="url(#gS)"/>
<circle cx="890.9" cy="504.3" r="6.2" fill="url(#gS)"/>
<circle cx="924.2" cy="467.5" r="6.2" fill="url(#gS)"/>
<circle cx="924.2" cy="504.3" r="6.2" fill="url(#gS)"/>
<circle cx="957.5" cy="467.5" r="6.2" fill="url(#gS)"/>
<circle cx="957.5" cy="504.3" r="6.2" fill="url(#gS)"/>
<circle cx="990.8" cy="467.5" r="6.2" fill="url(#gS)"/>
<circle cx="990.8" cy="504.3" r="6.2" fill="url(#gS)"/>
<circle cx="466.3" cy="199.0" r="8.4" fill="url(#gMo)"/>
<circle cx="500.0" cy="199.0" r="8.4" fill="url(#gMo)"/>
<circle cx="533.6" cy="199.0" r="8.4" fill="url(#gMo)"/>
<circle cx="567.3" cy="199.0" r="8.4" fill="url(#gMo)"/>
<circle cx="601.0" cy="199.0" r="8.4" fill="url(#gMo)"/>
<circle cx="634.7" cy="199.0" r="8.4" fill="url(#gMo)"/>
<circle cx="668.3" cy="199.0" r="8.4" fill="url(#gMo)"/>
<circle cx="702.0" cy="199.0" r="8.4" fill="url(#gMo)"/>
<circle cx="735.7" cy="199.0" r="8.4" fill="url(#gMo)"/>
<circle cx="769.3" cy="199.0" r="8.4" fill="url(#gMo)"/>
<circle cx="775.0" cy="231.0" r="8.4" fill="url(#gMo)"/>
<circle cx="775.0" cy="266.6" r="8.4" fill="url(#gMo)"/>
<circle cx="775.0" cy="302.3" r="8.4" fill="url(#gMo)"/>
<circle cx="775.0" cy="337.9" r="8.4" fill="url(#gMo)"/>
<circle cx="775.0" cy="373.6" r="8.4" fill="url(#gMo)"/>
<circle cx="775.0" cy="409.2" r="8.4" fill="url(#gMo)"/>
<circle cx="775.0" cy="444.9" r="8.4" fill="url(#gMo)"/>
<circle cx="770.0" cy="486.4" r="8.4" fill="url(#gMo)"/>
<circle cx="803.3" cy="486.4" r="8.4" fill="url(#gMo)"/>
<circle cx="836.6" cy="486.4" r="8.4" fill="url(#gMo)"/>
<circle cx="869.9" cy="486.4" r="8.4" fill="url(#gMo)"/>
<circle cx="903.2" cy="486.4" r="8.4" fill="url(#gMo)"/>
<circle cx="936.5" cy="486.4" r="8.4" fill="url(#gMo)"/>
<circle cx="969.8" cy="486.4" r="8.4" fill="url(#gMo)"/>
<rect x="472.4" y="84" width="176.6" height="88.5" fill="#ffc000"/>
<rect x="823.5" y="372.6" width="166.5" height="87.4" fill="#ffc000"/>
<g stroke="#000" stroke-width="3.2" fill="none">
<polyline points="555.5,101 555.5,37.5 666,37.5"/>
<line x1="666" y1="13.5" x2="666" y2="60.5"/>
<line x1="675" y1="19" x2="675" y2="54"/>
<line x1="683.3" y1="23.5" x2="683.3" y2="50"/>
<line x1="905" y1="326.6" x2="905" y2="389"/>
<line x1="584" y1="671" x2="584" y2="735"/>
<polyline points="201,302 91.3,302 91.3,365"/>
<polyline points="172,430.4 61.3,430.4 61.3,493"/>
</g>
<line x1="757.0" y1="158.0" x2="809.5" y2="76.7" stroke="#000" stroke-width="2.4"/><polygon points="816.5,66.0 812.4,82.4 803.2,76.4" fill="#000"/>
<g font-family="'Liberation Sans', Arial, sans-serif">
<text x="163.8" y="49.0" font-size="41" fill="#000" stroke="#000" stroke-width="0.8" text-anchor="start">Natural</text>
<text x="190.0" y="96.5" font-size="40" fill="#000" stroke="#000" stroke-width="0.8" text-anchor="start">AlO<tspan font-size="27" dy="9">x</tspan></text>
<text x="442.0" y="34.6" font-size="41" fill="#000" stroke="#000" stroke-width="0.8" text-anchor="start">HfO<tspan font-size="28" dy="9">2</tspan></text>
<text x="832.5" y="60.5" font-size="40" fill="#000" stroke="#000" stroke-width="0.8" text-anchor="start">MoS<tspan font-size="27" dy="9">2</tspan></text>
<text x="872.0" y="306.0" font-size="40" fill="#000" stroke="#000" stroke-width="0.8" text-anchor="start">V<tspan font-size="27" dy="10">DS</tspan></text>
<text x="496.5" y="143.0" font-size="40.5" fill="#fffdf0" stroke="#fffdf0" stroke-width="0" text-anchor="start">Source</text>
<text x="858.2" y="431.8" font-size="40.6" fill="#fffdf0" stroke="#fffdf0" stroke-width="0" text-anchor="start">Drain</text>
<text x="257.3" y="357.2" font-size="44.5" fill="#000" stroke="#000" stroke-width="0.8" text-anchor="start">Al Screening Layer</text>
<text x="260.0" y="517.9" font-size="39.9" fill="#000" stroke="#000" stroke-width="0.8" text-anchor="start">Graphene Edge Gate</text>
<text x="511.5" y="582.0" font-size="41" fill="#fffdf0" stroke="#fffdf0" stroke-width="0" text-anchor="start">SiO<tspan font-size="28" dy="10">2</tspan></text>
<text x="401.6" y="656.6" font-size="40.2" fill="#fffdf0" stroke="#fffdf0" stroke-width="0" text-anchor="start">Doped Si Back Gate</text>
<text x="566.9" y="778.4" font-size="40" fill="#000" stroke="#000" stroke-width="0.8" text-anchor="start">V<tspan font-size="27" dy="9">BS</tspan><tspan dy="-9">=0 V</tspan></text>
<text x="46.0" y="536.4" font-size="40" fill="#000" stroke="#000" stroke-width="0.8" text-anchor="start">V<tspan font-size="26" dy="10">Gr</tspan></text>
<text x="17.2" y="399.5" font-size="39.2" fill="#000" stroke="#000" stroke-width="0.8" text-anchor="start">V<tspan font-size="25.5" dy="9">Al</tspan><tspan dy="-9"> fixed</tspan></text>
</g>
</g>
<text font-family="'Liberation Sans', Arial, sans-serif" x="-1.7" y="926.2" font-size="72.5" stroke="#000" stroke-width="0.8">c</text>
<g transform="translate(-28,1707)">
<polygon points="172,226.4 751,226.4 751,517.8 997,517.8 997,544.2 730,544.2 730,253.5 172,253.5" fill="#7f6000"/>
<rect x="172" y="253.5" width="558" height="170.4" fill="#bdd7ee"/>
<rect x="172" y="265.6" width="546.6" height="145.6" fill="#9dc3e6"/>
<polygon points="172,439.6 730,439.6 730,544.2 997,544.2 997,598 172,598" fill="#c55a11"/>
<rect x="172" y="598" width="825" height="88.7" fill="#bf9000"/>
<polyline points="363,226.4 363,38.7 327,38.7" fill="none" stroke="#bccbdd" stroke-width="2.2"/>
<line x1="363" y1="226.4" x2="363" y2="253.5" stroke="#edf2ee" stroke-width="2.4"/>
<polygon points="316.5,38.7 329.5,32.3 329.5,45.1" fill="#bcd0e8"/>
<polyline points="392.2,226.4 392.2,13.8 423,13.8" fill="none" stroke="#6a5214" stroke-width="2.4"/>
<polygon points="433.8,13.8 421,8 421,19.6" fill="#7a5e0c"/>
<line x1="184" y1="430.4" x2="720" y2="430.4" stroke="#8a8a8a" stroke-width="2.2"/>
<circle cx="184.2" cy="430.4" r="7.7" fill="url(#gC)"/>
<circle cx="219.9" cy="430.4" r="7.7" fill="url(#gC)"/>
<circle cx="255.6" cy="430.4" r="7.7" fill="url(#gC)"/>
<circle cx="291.4" cy="430.4" r="7.7" fill="url(#gC)"/>
<circle cx="327.1" cy="430.4" r="7.7" fill="url(#gC)"/>
<circle cx="362.8" cy="430.4" r="7.7" fill="url(#gC)"/>
<circle cx="398.5" cy="430.4" r="7.7" fill="url(#gC)"/>
<circle cx="434.2" cy="430.4" r="7.7" fill="url(#gC)"/>
<circle cx="470.0" cy="430.4" r="7.7" fill="url(#gC)"/>
<circle cx="505.7" cy="430.4" r="7.7" fill="url(#gC)"/>
<circle cx="541.4" cy="430.4" r="7.7" fill="url(#gC)"/>
<circle cx="577.1" cy="430.4" r="7.7" fill="url(#gC)"/>
<circle cx="612.8" cy="430.4" r="7.7" fill="url(#gC)"/>
<circle cx="648.6" cy="430.4" r="7.7" fill="url(#gC)"/>
<circle cx="684.3" cy="430.4" r="7.7" fill="url(#gC)"/>
<circle cx="720.0" cy="430.4" r="7.7" fill="url(#gC)"/>
<line x1="541.3" y1="438.4" x2="481.1" y2="468.0" stroke="#000" stroke-width="1.8"/><polygon points="471.1,473.0 481.0,461.4 486.3,472.2" fill="#000"/>
<g stroke="#978f85" stroke-width="2.6">
<line x1="466.3" y1="199.0" x2="455.3" y2="179.3"/>
<line x1="466.3" y1="199.0" x2="455.3" y2="218.0"/>
<line x1="466.3" y1="199.0" x2="489.0" y2="179.3"/>
<line x1="466.3" y1="199.0" x2="489.0" y2="218.0"/>
<line x1="500.0" y1="199.0" x2="489.0" y2="179.3"/>
<line x1="500.0" y1="199.0" x2="489.0" y2="218.0"/>
<line x1="500.0" y1="199.0" x2="522.6" y2="179.3"/>
<line x1="500.0" y1="199.0" x2="522.6" y2="218.0"/>
<line x1="533.6" y1="199.0" x2="522.6" y2="179.3"/>
<line x1="533.6" y1="199.0" x2="522.6" y2="218.0"/>
<line x1="533.6" y1="199.0" x2="556.3" y2="179.3"/>
<line x1="533.6" y1="199.0" x2="556.3" y2="218.0"/>
<line x1="567.3" y1="199.0" x2="556.3" y2="179.3"/>
<line x1="567.3" y1="199.0" x2="556.3" y2="218.0"/>
<line x1="567.3" y1="199.0" x2="590.0" y2="179.3"/>
<line x1="567.3" y1="199.0" x2="590.0" y2="218.0"/>
<line x1="601.0" y1="199.0" x2="590.0" y2="179.3"/>
<line x1="601.0" y1="199.0" x2="590.0" y2="218.0"/>
<line x1="601.0" y1="199.0" x2="623.7" y2="179.3"/>
<line x1="601.0" y1="199.0" x2="623.7" y2="218.0"/>
<line x1="634.7" y1="199.0" x2="623.7" y2="179.3"/>
<line x1="634.7" y1="199.0" x2="623.7" y2="218.0"/>
<line x1="634.7" y1="199.0" x2="657.3" y2="179.3"/>
<line x1="634.7" y1="199.0" x2="657.3" y2="218.0"/>
<line x1="668.3" y1="199.0" x2="657.3" y2="179.3"/>
<line x1="668.3" y1="199.0" x2="657.3" y2="218.0"/>
<line x1="668.3" y1="199.0" x2="691.0" y2="179.3"/>
<line x1="668.3" y1="199.0" x2="691.0" y2="218.0"/>
<line x1="702.0" y1="199.0" x2="691.0" y2="179.3"/>
<line x1="702.0" y1="199.0" x2="691.0" y2="218.0"/>
<line x1="702.0" y1="199.0" x2="724.7" y2="179.3"/>
<line x1="702.0" y1="199.0" x2="724.7" y2="218.0"/>
<line x1="735.7" y1="199.0" x2="724.7" y2="179.3"/>
<line x1="735.7" y1="199.0" x2="724.7" y2="218.0"/>
<line x1="735.7" y1="199.0" x2="758.3" y2="179.3"/>
<line x1="735.7" y1="199.0" x2="758.3" y2="218.0"/>
<line x1="769.3" y1="199.0" x2="758.3" y2="179.3"/>
<line x1="769.3" y1="199.0" x2="758.3" y2="218.0"/>
<line x1="769.3" y1="199.0" x2="792.0" y2="179.3"/>
<line x1="769.3" y1="199.0" x2="792.0" y2="218.0"/>
<line x1="775.0" y1="231.0" x2="757.0" y2="218.0"/>
<line x1="775.0" y1="231.0" x2="792.5" y2="218.0"/>
<line x1="775.0" y1="231.0" x2="757.0" y2="253.7"/>
<line x1="775.0" y1="231.0" x2="792.5" y2="253.7"/>
<line x1="775.0" y1="266.6" x2="757.0" y2="253.7"/>
<line x1="775.0" y1="266.6" x2="792.5" y2="253.7"/>
<line x1="775.0" y1="266.6" x2="757.0" y2="289.3"/>
<line x1="775.0" y1="266.6" x2="792.5" y2="289.3"/>
<line x1="775.0" y1="302.3" x2="757.0" y2="289.3"/>
<line x1="775.0" y1="302.3" x2="792.5" y2="289.3"/>
<line x1="775.0" y1="302.3" x2="757.0" y2="324.9"/>
<line x1="775.0" y1="302.3" x2="792.5" y2="324.9"/>
<line x1="775.0" y1="337.9" x2="757.0" y2="324.9"/>
<line x1="775.0" y1="337.9" x2="792.5" y2="324.9"/>
<line x1="775.0" y1="337.9" x2="757.0" y2="360.6"/>
<line x1="775.0" y1="337.9" x2="792.5" y2="360.6"/>
<line x1="775.0" y1="373.6" x2="757.0" y2="360.6"/>
<line x1="775.0" y1="373.6" x2="792.5" y2="360.6"/>
<line x1="775.0" y1="373.6" x2="757.0" y2="396.2"/>
<line x1="775.0" y1="373.6" x2="792.5" y2="396.2"/>
<line x1="775.0" y1="409.2" x2="757.0" y2="396.2"/>
<line x1="775.0" y1="409.2" x2="792.5" y2="396.2"/>
<line x1="775.0" y1="409.2" x2="757.0" y2="431.9"/>
<line x1="775.0" y1="409.2" x2="792.5" y2="431.9"/>
<line x1="775.0" y1="444.9" x2="757.0" y2="431.9"/>
<line x1="775.0" y1="444.9" x2="792.5" y2="431.9"/>
<line x1="775.0" y1="444.9" x2="757.0" y2="467.5"/>
<line x1="775.0" y1="444.9" x2="792.5" y2="467.5"/>
<line x1="770.0" y1="486.4" x2="757.7" y2="467.5"/>
<line x1="770.0" y1="486.4" x2="757.7" y2="504.3"/>
<line x1="770.0" y1="486.4" x2="791.0" y2="467.5"/>
<line x1="770.0" y1="486.4" x2="791.0" y2="504.3"/>
<line x1="803.3" y1="486.4" x2="791.0" y2="467.5"/>
<line x1="803.3" y1="486.4" x2="791.0" y2="504.3"/>
<line x1="803.3" y1="486.4" x2="824.3" y2="467.5"/>
<line x1="803.3" y1="486.4" x2="824.3" y2="504.3"/>
<line x1="836.6" y1="486.4" x2="824.3" y2="467.5"/>
<line x1="836.6" y1="486.4" x2="824.3" y2="504.3"/>
<line x1="836.6" y1="486.4" x2="857.6" y2="467.5"/>
<line x1="836.6" y1="486.4" x2="857.6" y2="504.3"/>
<line x1="869.9" y1="486.4" x2="857.6" y2="467.5"/>
<line x1="869.9" y1="486.4" x2="857.6" y2="504.3"/>
<line x1="869.9" y1="486.4" x2="890.9" y2="467.5"/>
<line x1="869.9" y1="486.4" x2="890.9" y2="504.3"/>
<line x1="903.2" y1="486.4" x2="890.9" y2="467.5"/>
<line x1="903.2" y1="486.4" x2="890.9" y2="504.3"/>
<line x1="903.2" y1="486.4" x2="924.2" y2="467.5"/>
<line x1="903.2" y1="486.4" x2="924.2" y2="504.3"/>
<line x1="936.5" y1="486.4" x2="924.2" y2="467.5"/>
<line x1="936.5" y1="486.4" x2="924.2" y2="504.3"/>
<line x1="936.5" y1="486.4" x2="957.5" y2="467.5"/>
<line x1="936.5" y1="486.4" x2="957.5" y2="504.3"/>
<line x1="969.8" y1="486.4" x2="957.5" y2="467.5"/>
<line x1="969.8" y1="486.4" x2="957.5" y2="504.3"/>
<line x1="969.8" y1="486.4" x2="990.8" y2="467.5"/>
<line x1="969.8" y1="486.4" x2="990.8" y2="504.3"/>
</g>
<circle cx="455.3" cy="179.3" r="6.2" fill="url(#gS)"/>
<circle cx="489.0" cy="179.3" r="6.2" fill="url(#gS)"/>
<circle cx="522.6" cy="179.3" r="6.2" fill="url(#gS)"/>
<circle cx="556.3" cy="179.3" r="6.2" fill="url(#gS)"/>
<circle cx="590.0" cy="179.3" r="6.2" fill="url(#gS)"/>
<circle cx="623.7" cy="179.3" r="6.2" fill="url(#gS)"/>
<circle cx="657.3" cy="179.3" r="6.2" fill="url(#gS)"/>
<circle cx="691.0" cy="179.3" r="6.2" fill="url(#gS)"/>
<circle cx="724.7" cy="179.3" r="6.2" fill="url(#gS)"/>
<circle cx="758.3" cy="179.3" r="6.2" fill="url(#gS)"/>
<circle cx="792.0" cy="179.3" r="6.2" fill="url(#gS)"/>
<circle cx="455.3" cy="218.0" r="6.2" fill="url(#gS)"/>
<circle cx="489.0" cy="218.0" r="6.2" fill="url(#gS)"/>
<circle cx="522.6" cy="218.0" r="6.2" fill="url(#gS)"/>
<circle cx="556.3" cy="218.0" r="6.2" fill="url(#gS)"/>
<circle cx="590.0" cy="218.0" r="6.2" fill="url(#gS)"/>
<circle cx="623.7" cy="218.0" r="6.2" fill="url(#gS)"/>
<circle cx="657.3" cy="218.0" r="6.2" fill="url(#gS)"/>
<circle cx="691.0" cy="218.0" r="6.2" fill="url(#gS)"/>
<circle cx="724.7" cy="218.0" r="6.2" fill="url(#gS)"/>
<circle cx="758.3" cy="218.0" r="6.2" fill="url(#gS)"/>
<circle cx="792.5" cy="218.0" r="6.2" fill="url(#gS)"/>
<circle cx="757.0" cy="253.7" r="6.2" fill="url(#gS)"/>
<circle cx="792.5" cy="253.7" r="6.2" fill="url(#gS)"/>
<circle cx="757.0" cy="289.3" r="6.2" fill="url(#gS)"/>
<circle cx="792.5" cy="289.3" r="6.2" fill="url(#gS)"/>
<circle cx="757.0" cy="324.9" r="6.2" fill="url(#gS)"/>
<circle cx="792.5" cy="324.9" r="6.2" fill="url(#gS)"/>
<circle cx="757.0" cy="360.6" r="6.2" fill="url(#gS)"/>
<circle cx="792.5" cy="360.6" r="6.2" fill="url(#gS)"/>
<circle cx="757.0" cy="396.2" r="6.2" fill="url(#gS)"/>
<circle cx="792.5" cy="396.2" r="6.2" fill="url(#gS)"/>
<circle cx="757.0" cy="431.9" r="6.2" fill="url(#gS)"/>
<circle cx="792.5" cy="431.9" r="6.2" fill="url(#gS)"/>
<circle cx="757.0" cy="467.5" r="6.2" fill="url(#gS)"/>
<circle cx="792.5" cy="467.5" r="6.2" fill="url(#gS)"/>
<circle cx="757.7" cy="504.3" r="6.2" fill="url(#gS)"/>
<circle cx="791.0" cy="504.3" r="6.2" fill="url(#gS)"/>
<circle cx="824.3" cy="467.5" r="6.2" fill="url(#gS)"/>
<circle cx="824.3" cy="504.3" r="6.2" fill="url(#gS)"/>
<circle cx="857.6" cy="467.5" r="6.2" fill="url(#gS)"/>
<circle cx="857.6" cy="504.3" r="6.2" fill="url(#gS)"/>
<circle cx="890.9" cy="467.5" r="6.2" fill="url(#gS)"/>
<circle cx="890.9" cy="504.3" r="6.2" fill="url(#gS)"/>
<circle cx="924.2" cy="467.5" r="6.2" fill="url(#gS)"/>
<circle cx="924.2" cy="504.3" r="6.2" fill="url(#gS)"/>
<circle cx="957.5" cy="467.5" r="6.2" fill="url(#gS)"/>
<circle cx="957.5" cy="504.3" r="6.2" fill="url(#gS)"/>
<circle cx="990.8" cy="467.5" r="6.2" fill="url(#gS)"/>
<circle cx="990.8" cy="504.3" r="6.2" fill="url(#gS)"/>
<circle cx="466.3" cy="199.0" r="8.4" fill="url(#gMo)"/>
<circle cx="500.0" cy="199.0" r="8.4" fill="url(#gMo)"/>
<circle cx="533.6" cy="199.0" r="8.4" fill="url(#gMo)"/>
<circle cx="567.3" cy="199.0" r="8.4" fill="url(#gMo)"/>
<circle cx="601.0" cy="199.0" r="8.4" fill="url(#gMo)"/>
<circle cx="634.7" cy="199.0" r="8.4" fill="url(#gMo)"/>
<circle cx="668.3" cy="199.0" r="8.4" fill="url(#gMo)"/>
<circle cx="702.0" cy="199.0" r="8.4" fill="url(#gMo)"/>
<circle cx="735.7" cy="199.0" r="8.4" fill="url(#gMo)"/>
<circle cx="769.3" cy="199.0" r="8.4" fill="url(#gMo)"/>
<circle cx="775.0" cy="231.0" r="8.4" fill="url(#gMo)"/>
<circle cx="775.0" cy="266.6" r="8.4" fill="url(#gMo)"/>
<circle cx="775.0" cy="302.3" r="8.4" fill="url(#gMo)"/>
<circle cx="775.0" cy="337.9" r="8.4" fill="url(#gMo)"/>
<circle cx="775.0" cy="373.6" r="8.4" fill="url(#gMo)"/>
<circle cx="775.0" cy="409.2" r="8.4" fill="url(#gMo)"/>
<circle cx="775.0" cy="444.9" r="8.4" fill="url(#gMo)"/>
<circle cx="770.0" cy="486.4" r="8.4" fill="url(#gMo)"/>
<circle cx="803.3" cy="486.4" r="8.4" fill="url(#gMo)"/>
<circle cx="836.6" cy="486.4" r="8.4" fill="url(#gMo)"/>
<circle cx="869.9" cy="486.4" r="8.4" fill="url(#gMo)"/>
<circle cx="903.2" cy="486.4" r="8.4" fill="url(#gMo)"/>
<circle cx="936.5" cy="486.4" r="8.4" fill="url(#gMo)"/>
<circle cx="969.8" cy="486.4" r="8.4" fill="url(#gMo)"/>
<rect x="472.4" y="84" width="176.6" height="88.5" fill="#ffc000"/>
<rect x="823.5" y="372.6" width="166.5" height="87.4" fill="#ffc000"/>
<g stroke="#000" stroke-width="3.2" fill="none">
<polyline points="555.5,101 555.5,37.5 666,37.5"/>
<line x1="666" y1="13.5" x2="666" y2="60.5"/>
<line x1="675" y1="19" x2="675" y2="54"/>
<line x1="683.3" y1="23.5" x2="683.3" y2="50"/>
<line x1="905" y1="326.6" x2="905" y2="389"/>
<line x1="584" y1="671" x2="584" y2="735"/>
<polyline points="201,302 92,302 92,365.5"/>
<polyline points="172,430.4 62.6,430.4 62.6,493.3"/>
</g>
<g stroke="#000" stroke-width="3.2"><line x1="38.8" y1="493.3" x2="86.4" y2="493.3"/><line x1="44.4" y1="501.8" x2="80.8" y2="501.8"/><line x1="49.2" y1="510.3" x2="76.0" y2="510.3"/></g>
<line x1="757.0" y1="158.0" x2="809.5" y2="76.7" stroke="#000" stroke-width="2.4"/><polygon points="816.5,66.0 812.4,82.4 803.2,76.4" fill="#000"/>
<g font-family="'Liberation Sans', Arial, sans-serif">
<text x="163.8" y="49.0" font-size="41" fill="#000" stroke="#000" stroke-width="0.8" text-anchor="start">Natural</text>
<text x="190.0" y="96.5" font-size="40" fill="#000" stroke="#000" stroke-width="0.8" text-anchor="start">AlO<tspan font-size="27" dy="9">x</tspan></text>
<text x="442.0" y="34.6" font-size="41" fill="#000" stroke="#000" stroke-width="0.8" text-anchor="start">HfO<tspan font-size="28" dy="9">2</tspan></text>
<text x="832.5" y="60.5" font-size="40" fill="#000" stroke="#000" stroke-width="0.8" text-anchor="start">MoS<tspan font-size="27" dy="9">2</tspan></text>
<text x="872.0" y="306.0" font-size="40" fill="#000" stroke="#000" stroke-width="0.8" text-anchor="start">V<tspan font-size="27" dy="10">DS</tspan></text>
<text x="496.5" y="143.0" font-size="40.5" fill="#fffdf0" stroke="#fffdf0" stroke-width="0" text-anchor="start">Source</text>
<text x="858.2" y="431.8" font-size="40.6" fill="#fffdf0" stroke="#fffdf0" stroke-width="0" text-anchor="start">Drain</text>
<text x="280.3" y="357.3" font-size="44.3" fill="#000" stroke="#000" stroke-width="0.8" text-anchor="start">Al Layer as Gate</text>
<text x="329.5" y="517.7" font-size="39.6" fill="#000" stroke="#000" stroke-width="0.8" text-anchor="start">Graphene</text>
<text x="511.5" y="582.0" font-size="41" fill="#fffdf0" stroke="#fffdf0" stroke-width="0" text-anchor="start">SiO<tspan font-size="28" dy="10">2</tspan></text>
<text x="401.6" y="656.6" font-size="40.2" fill="#fffdf0" stroke="#fffdf0" stroke-width="0" text-anchor="start">Doped Si Back Gate</text>
<text x="566.9" y="778.4" font-size="40" fill="#000" stroke="#000" stroke-width="0.8" text-anchor="start">V<tspan font-size="27" dy="9">BS</tspan><tspan dy="-9">=0 V</tspan></text>
<text x="67.0" y="405.5" font-size="40" fill="#000" stroke="#000" stroke-width="0.8" text-anchor="start">V<tspan font-size="26" dy="10">Al</tspan></text>
</g>
</g>
<text font-family="'Liberation Sans', Arial, sans-serif" x="1.9" y="1782.9" font-size="72.5" stroke="#000" stroke-width="0.8">e</text>
<g stroke="#000" stroke-width="2" fill="none">
<line x1="1219.5" y1="26.0" x2="1219.5" y2="683.8"/>
<line x1="1218.5" y1="682.8" x2="2036.5" y2="682.8"/>
<line x1="1207.0" y1="27.0" x2="1219.5" y2="27.0"/>
<line x1="1213.0" y1="92.5" x2="1219.5" y2="92.5"/>
<line x1="1213.0" y1="76.0" x2="1219.5" y2="76.0"/>
<line x1="1213.0" y1="64.3" x2="1219.5" y2="64.3"/>
<line x1="1213.0" y1="55.2" x2="1219.5" y2="55.2"/>
<line x1="1213.0" y1="47.8" x2="1219.5" y2="47.8"/>
<line x1="1213.0" y1="41.5" x2="1219.5" y2="41.5"/>
<line x1="1213.0" y1="36.1" x2="1219.5" y2="36.1"/>
<line x1="1213.0" y1="31.3" x2="1219.5" y2="31.3"/>
<line x1="1207.0" y1="120.7" x2="1219.5" y2="120.7"/>
<line x1="1213.0" y1="186.2" x2="1219.5" y2="186.2"/>
<line x1="1213.0" y1="169.7" x2="1219.5" y2="169.7"/>
<line x1="1213.0" y1="158.0" x2="1219.5" y2="158.0"/>
<line x1="1213.0" y1="148.9" x2="1219.5" y2="148.9"/>
<line x1="1213.0" y1="141.5" x2="1219.5" y2="141.5"/>
<line x1="1213.0" y1="135.2" x2="1219.5" y2="135.2"/>
<line x1="1213.0" y1="129.8" x2="1219.5" y2="129.8"/>
<line x1="1213.0" y1="125.0" x2="1219.5" y2="125.0"/>
<line x1="1207.0" y1="214.4" x2="1219.5" y2="214.4"/>
<line x1="1213.0" y1="279.9" x2="1219.5" y2="279.9"/>
<line x1="1213.0" y1="263.4" x2="1219.5" y2="263.4"/>
<line x1="1213.0" y1="251.7" x2="1219.5" y2="251.7"/>
<line x1="1213.0" y1="242.6" x2="1219.5" y2="242.6"/>
<line x1="1213.0" y1="235.2" x2="1219.5" y2="235.2"/>
<line x1="1213.0" y1="228.9" x2="1219.5" y2="228.9"/>
<line x1="1213.0" y1="223.5" x2="1219.5" y2="223.5"/>
<line x1="1213.0" y1="218.7" x2="1219.5" y2="218.7"/>
<line x1="1207.0" y1="308.1" x2="1219.5" y2="308.1"/>
<line x1="1213.0" y1="373.5" x2="1219.5" y2="373.5"/>
<line x1="1213.0" y1="357.0" x2="1219.5" y2="357.0"/>
<line x1="1213.0" y1="345.3" x2="1219.5" y2="345.3"/>
<line x1="1213.0" y1="336.3" x2="1219.5" y2="336.3"/>
<line x1="1213.0" y1="328.8" x2="1219.5" y2="328.8"/>
<line x1="1213.0" y1="322.6" x2="1219.5" y2="322.6"/>
<line x1="1213.0" y1="317.1" x2="1219.5" y2="317.1"/>
<line x1="1213.0" y1="312.3" x2="1219.5" y2="312.3"/>
<line x1="1207.0" y1="401.7" x2="1219.5" y2="401.7"/>
<line x1="1213.0" y1="467.2" x2="1219.5" y2="467.2"/>
<line x1="1213.0" y1="450.7" x2="1219.5" y2="450.7"/>
<line x1="1213.0" y1="439.0" x2="1219.5" y2="439.0"/>
<line x1="1213.0" y1="429.9" x2="1219.5" y2="429.9"/>
<line x1="1213.0" y1="422.5" x2="1219.5" y2="422.5"/>
<line x1="1213.0" y1="416.3" x2="1219.5" y2="416.3"/>
<line x1="1213.0" y1="410.8" x2="1219.5" y2="410.8"/>
<line x1="1213.0" y1="406.0" x2="1219.5" y2="406.0"/>
<line x1="1207.0" y1="495.4" x2="1219.5" y2="495.4"/>
<line x1="1213.0" y1="560.9" x2="1219.5" y2="560.9"/>
<line x1="1213.0" y1="544.4" x2="1219.5" y2="544.4"/>
<line x1="1213.0" y1="532.7" x2="1219.5" y2="532.7"/>
<line x1="1213.0" y1="523.6" x2="1219.5" y2="523.6"/>
<line x1="1213.0" y1="516.2" x2="1219.5" y2="516.2"/>
<line x1="1213.0" y1="509.9" x2="1219.5" y2="509.9"/>
<line x1="1213.0" y1="504.5" x2="1219.5" y2="504.5"/>
<line x1="1213.0" y1="499.7" x2="1219.5" y2="499.7"/>
<line x1="1207.0" y1="589.1" x2="1219.5" y2="589.1"/>
<line x1="1213.0" y1="654.6" x2="1219.5" y2="654.6"/>
<line x1="1213.0" y1="638.1" x2="1219.5" y2="638.1"/>
<line x1="1213.0" y1="626.4" x2="1219.5" y2="626.4"/>
<line x1="1213.0" y1="617.3" x2="1219.5" y2="617.3"/>
<line x1="1213.0" y1="609.9" x2="1219.5" y2="609.9"/>
<line x1="1213.0" y1="603.6" x2="1219.5" y2="603.6"/>
<line x1="1213.0" y1="598.2" x2="1219.5" y2="598.2"/>
<line x1="1213.0" y1="593.4" x2="1219.5" y2="593.4"/>
<line x1="1207.0" y1="682.8" x2="1219.5" y2="682.8"/>
<line x1="1219.5" y1="682.8" x2="1219.5" y2="695.3"/>
<line x1="1287.5" y1="682.8" x2="1287.5" y2="689.3"/>
<line x1="1355.5" y1="682.8" x2="1355.5" y2="695.3"/>
<line x1="1423.5" y1="682.8" x2="1423.5" y2="689.3"/>
<line x1="1491.5" y1="682.8" x2="1491.5" y2="695.3"/>
<line x1="1559.5" y1="682.8" x2="1559.5" y2="689.3"/>
<line x1="1627.5" y1="682.8" x2="1627.5" y2="695.3"/>
<line x1="1695.5" y1="682.8" x2="1695.5" y2="689.3"/>
<line x1="1763.5" y1="682.8" x2="1763.5" y2="695.3"/>
<line x1="1831.5" y1="682.8" x2="1831.5" y2="689.3"/>
<line x1="1899.5" y1="682.8" x2="1899.5" y2="695.3"/>
<line x1="1967.5" y1="682.8" x2="1967.5" y2="689.3"/>
<line x1="2035.5" y1="682.8" x2="2035.5" y2="695.3"/>
</g>
<g font-family="'Liberation Sans', Arial, sans-serif" font-size="36.8" fill="#000" stroke="#000" stroke-width="0.8">
<text x="1198.3" y="37.9" text-anchor="end">1E-6</text>
<text x="1198.3" y="131.6" text-anchor="end">1E-7</text>
<text x="1198.3" y="225.3" text-anchor="end">1E-8</text>
<text x="1198.3" y="319.0" text-anchor="end">1E-9</text>
<text x="1198.3" y="412.6" text-anchor="end">1E-10</text>
<text x="1198.3" y="506.3" text-anchor="end">1E-11</text>
<text x="1198.3" y="600.0" text-anchor="end">1E-12</text>
<text x="1198.3" y="693.7" text-anchor="end">1E-13</text>
<text x="1219.5" y="734.0" text-anchor="middle">-3.0</text>
<text x="1355.5" y="734.0" text-anchor="middle">-2.0</text>
<text x="1491.5" y="734.0" text-anchor="middle">-1.0</text>
<text x="1627.5" y="734.0" text-anchor="middle">0.0</text>
<text x="1763.5" y="734.0" text-anchor="middle">1.0</text>
<text x="1899.5" y="734.0" text-anchor="middle">2.0</text>
<text x="2035.5" y="734.0" text-anchor="middle">3.0</text>
</g>
<text font-family="'Liberation Sans', Arial, sans-serif" font-size="49.5" stroke="#000" stroke-width="0.9" x="1568.1" y="792.2">V<tspan font-size="34.5" dy="13.8">Gr</tspan><tspan dy="-13.8"> (V)</tspan></text>
<text font-family="'Liberation Sans', Arial, sans-serif" font-size="49.5" stroke="#000" stroke-width="0.9" transform="translate(1071.0,424.5) rotate(-90)" x="0" y="0">I<tspan font-size="34.5" dy="13.8">DS</tspan><tspan dy="-13.8"> (A)</tspan></text>
<polyline points="1327.3,674.5 1340.4,644.1 1353.4,617.8 1366.5,594.4 1379.6,572.4 1392.6,552.4 1405.7,536.0 1418.7,519.8 1431.8,505.4 1444.9,495.0 1457.9,488.1 1471.0,482.6 1484.0,477.0 1497.1,470.4 1510.2,464.9 1523.2,460.4 1536.3,457.3 1549.3,455.1 1562.4,453.2 1575.5,451.6 1588.5,450.1 1601.6,448.8 1614.6,448.0 1627.7,447.4 1640.8,446.8 1653.8,446.0 1666.9,445.2 1679.9,444.4 1693.0,443.7 1706.1,443.0 1719.1,442.5 1732.2,442.2 1745.2,441.9 1758.3,441.7 1771.4,441.4 1784.4,441.1 1797.5,440.8 1810.5,440.3 1823.6,439.9 1836.7,439.3 1849.7,438.8 1862.8,438.3 1875.8,437.8 1888.9,437.3 1902.0,436.8 1915.0,436.3 1928.1,435.8 1941.1,435.3 1954.2,434.8" fill="none" stroke="#520620" stroke-width="3.3"/><path d="M1327.3,665.9l7.0,4.3v8.6l-7.0,4.3l-7.0,-4.3v-8.6zM1340.4,635.5l7.0,4.3v8.6l-7.0,4.3l-7.0,-4.3v-8.6zM1353.4,609.2l7.0,4.3v8.6l-7.0,4.3l-7.0,-4.3v-8.6zM1366.5,585.8l7.0,4.3v8.6l-7.0,4.3l-7.0,-4.3v-8.6zM1379.6,563.8l7.0,4.3v8.6l-7.0,4.3l-7.0,-4.3v-8.6zM1392.6,543.8l7.0,4.3v8.6l-7.0,4.3l-7.0,-4.3v-8.6zM1405.7,527.4l7.0,4.3v8.6l-7.0,4.3l-7.0,-4.3v-8.6zM1418.7,511.2l7.0,4.3v8.6l-7.0,4.3l-7.0,-4.3v-8.6zM1431.8,496.8l7.0,4.3v8.6l-7.0,4.3l-7.0,-4.3v-8.6zM1444.9,486.4l7.0,4.3v8.6l-7.0,4.3l-7.0,-4.3v-8.6zM1457.9,479.5l7.0,4.3v8.6l-7.0,4.3l-7.0,-4.3v-8.6zM1471.0,474.0l7.0,4.3v8.6l-7.0,4.3l-7.0,-4.3v-8.6zM1484.0,468.4l7.0,4.3v8.6l-7.0,4.3l-7.0,-4.3v-8.6zM1497.1,461.8l7.0,4.3v8.6l-7.0,4.3l-7.0,-4.3v-8.6zM1510.2,456.3l7.0,4.3v8.6l-7.0,4.3l-7.0,-4.3v-8.6zM1523.2,451.8l7.0,4.3v8.6l-7.0,4.3l-7.0,-4.3v-8.6zM1536.3,448.7l7.0,4.3v8.6l-7.0,4.3l-7.0,-4.3v-8.6zM1549.3,446.5l7.0,4.3v8.6l-7.0,4.3l-7.0,-4.3v-8.6zM1562.4,444.6l7.0,4.3v8.6l-7.0,4.3l-7.0,-4.3v-8.6zM1575.5,443.0l7.0,4.3v8.6l-7.0,4.3l-7.0,-4.3v-8.6zM1588.5,441.5l7.0,4.3v8.6l-7.0,4.3l-7.0,-4.3v-8.6zM1601.6,440.2l7.0,4.3v8.6l-7.0,4.3l-7.0,-4.3v-8.6zM1614.6,439.4l7.0,4.3v8.6l-7.0,4.3l-7.0,-4.3v-8.6zM1627.7,438.8l7.0,4.3v8.6l-7.0,4.3l-7.0,-4.3v-8.6zM1640.8,438.2l7.0,4.3v8.6l-7.0,4.3l-7.0,-4.3v-8.6zM1653.8,437.4l7.0,4.3v8.6l-7.0,4.3l-7.0,-4.3v-8.6zM1666.9,436.6l7.0,4.3v8.6l-7.0,4.3l-7.0,-4.3v-8.6zM1679.9,435.8l7.0,4.3v8.6l-7.0,4.3l-7.0,-4.3v-8.6zM1693.0,435.1l7.0,4.3v8.6l-7.0,4.3l-7.0,-4.3v-8.6zM1706.1,434.4l7.0,4.3v8.6l-7.0,4.3l-7.0,-4.3v-8.6zM1719.1,433.9l7.0,4.3v8.6l-7.0,4.3l-7.0,-4.3v-8.6zM1732.2,433.6l7.0,4.3v8.6l-7.0,4.3l-7.0,-4.3v-8.6zM1745.2,433.3l7.0,4.3v8.6l-7.0,4.3l-7.0,-4.3v-8.6zM1758.3,433.1l7.0,4.3v8.6l-7.0,4.3l-7.0,-4.3v-8.6zM1771.4,432.8l7.0,4.3v8.6l-7.0,4.3l-7.0,-4.3v-8.6zM1784.4,432.5l7.0,4.3v8.6l-7.0,4.3l-7.0,-4.3v-8.6zM1797.5,432.2l7.0,4.3v8.6l-7.0,4.3l-7.0,-4.3v-8.6zM1810.5,431.7l7.0,4.3v8.6l-7.0,4.3l-7.0,-4.3v-8.6zM1823.6,431.3l7.0,4.3v8.6l-7.0,4.3l-7.0,-4.3v-8.6zM1836.7,430.7l7.0,4.3v8.6l-7.0,4.3l-7.0,-4.3v-8.6zM1849.7,430.2l7.0,4.3v8.6l-7.0,4.3l-7.0,-4.3v-8.6zM1862.8,429.7l7.0,4.3v8.6l-7.0,4.3l-7.0,-4.3v-8.6zM1875.8,429.2l7.0,4.3v8.6l-7.0,4.3l-7.0,-4.3v-8.6zM1888.9,428.7l7.0,4.3v8.6l-7.0,4.3l-7.0,-4.3v-8.6zM1902.0,428.2l7.0,4.3v8.6l-7.0,4.3l-7.0,-4.3v-8.6zM1915.0,427.7l7.0,4.3v8.6l-7.0,4.3l-7.0,-4.3v-8.6zM1928.1,427.2l7.0,4.3v8.6l-7.0,4.3l-7.0,-4.3v-8.6zM1941.1,426.7l7.0,4.3v8.6l-7.0,4.3l-7.0,-4.3v-8.6zM1954.2,426.2l7.0,4.3v8.6l-7.0,4.3l-7.0,-4.3v-8.6z" fill="#520620" stroke="#3f0418" stroke-width="0.9"/>
<polyline points="1314.3,657.0 1327.3,613.9 1340.4,579.8 1353.4,551.1 1366.5,525.8 1379.6,504.0 1392.6,484.4 1405.7,468.9 1418.7,455.5 1431.8,444.6 1444.9,436.4 1457.9,429.2 1471.0,422.2 1484.0,416.3 1497.1,410.0 1510.2,403.7 1523.2,397.6 1536.3,393.8 1549.3,391.1 1562.4,387.8 1575.5,383.7 1588.5,379.6 1601.6,376.4 1614.6,374.1 1627.7,372.2 1640.8,370.1 1653.8,367.9 1666.9,367.1 1679.9,366.6 1693.0,366.2 1706.1,365.8 1719.1,365.5 1732.2,365.2 1745.2,364.9 1758.3,364.6 1771.4,364.3 1784.4,364.0 1797.5,363.5 1810.5,363.0 1823.6,362.3 1836.7,361.6 1849.7,360.9 1862.8,360.3 1875.8,359.8 1888.9,359.3 1902.0,358.8 1915.0,358.4 1928.1,358.0 1941.1,357.6 1954.2,357.3" fill="none" stroke="#9e0a43" stroke-width="3.3"/><path d="M1314.3,648.4l7.0,4.3v8.6l-7.0,4.3l-7.0,-4.3v-8.6zM1327.3,605.3l7.0,4.3v8.6l-7.0,4.3l-7.0,-4.3v-8.6zM1340.4,571.2l7.0,4.3v8.6l-7.0,4.3l-7.0,-4.3v-8.6zM1353.4,542.5l7.0,4.3v8.6l-7.0,4.3l-7.0,-4.3v-8.6zM1366.5,517.2l7.0,4.3v8.6l-7.0,4.3l-7.0,-4.3v-8.6zM1379.6,495.4l7.0,4.3v8.6l-7.0,4.3l-7.0,-4.3v-8.6zM1392.6,475.8l7.0,4.3v8.6l-7.0,4.3l-7.0,-4.3v-8.6zM1405.7,460.3l7.0,4.3v8.6l-7.0,4.3l-7.0,-4.3v-8.6zM1418.7,446.9l7.0,4.3v8.6l-7.0,4.3l-7.0,-4.3v-8.6zM1431.8,436.0l7.0,4.3v8.6l-7.0,4.3l-7.0,-4.3v-8.6zM1444.9,427.8l7.0,4.3v8.6l-7.0,4.3l-7.0,-4.3v-8.6zM1457.9,420.6l7.0,4.3v8.6l-7.0,4.3l-7.0,-4.3v-8.6zM1471.0,413.6l7.0,4.3v8.6l-7.0,4.3l-7.0,-4.3v-8.6zM1484.0,407.7l7.0,4.3v8.6l-7.0,4.3l-7.0,-4.3v-8.6zM1497.1,401.4l7.0,4.3v8.6l-7.0,4.3l-7.0,-4.3v-8.6zM1510.2,395.1l7.0,4.3v8.6l-7.0,4.3l-7.0,-4.3v-8.6zM1523.2,389.0l7.0,4.3v8.6l-7.0,4.3l-7.0,-4.3v-8.6zM1536.3,385.2l7.0,4.3v8.6l-7.0,4.3l-7.0,-4.3v-8.6zM1549.3,382.5l7.0,4.3v8.6l-7.0,4.3l-7.0,-4.3v-8.6zM1562.4,379.2l7.0,4.3v8.6l-7.0,4.3l-7.0,-4.3v-8.6zM1575.5,375.1l7.0,4.3v8.6l-7.0,4.3l-7.0,-4.3v-8.6zM1588.5,371.0l7.0,4.3v8.6l-7.0,4.3l-7.0,-4.3v-8.6zM1601.6,367.8l7.0,4.3v8.6l-7.0,4.3l-7.0,-4.3v-8.6zM1614.6,365.5l7.0,4.3v8.6l-7.0,4.3l-7.0,-4.3v-8.6zM1627.7,363.6l7.0,4.3v8.6l-7.0,4.3l-7.0,-4.3v-8.6zM1640.8,361.5l7.0,4.3v8.6l-7.0,4.3l-7.0,-4.3v-8.6zM1653.8,359.3l7.0,4.3v8.6l-7.0,4.3l-7.0,-4.3v-8.6zM1666.9,358.5l7.0,4.3v8.6l-7.0,4.3l-7.0,-4.3v-8.6zM1679.9,358.0l7.0,4.3v8.6l-7.0,4.3l-7.0,-4.3v-8.6zM1693.0,357.6l7.0,4.3v8.6l-7.0,4.3l-7.0,-4.3v-8.6zM1706.1,357.2l7.0,4.3v8.6l-7.0,4.3l-7.0,-4.3v-8.6zM1719.1,356.9l7.0,4.3v8.6l-7.0,4.3l-7.0,-4.3v-8.6zM1732.2,356.6l7.0,4.3v8.6l-7.0,4.3l-7.0,-4.3v-8.6zM1745.2,356.3l7.0,4.3v8.6l-7.0,4.3l-7.0,-4.3v-8.6zM1758.3,356.0l7.0,4.3v8.6l-7.0,4.3l-7.0,-4.3v-8.6zM1771.4,355.7l7.0,4.3v8.6l-7.0,4.3l-7.0,-4.3v-8.6zM1784.4,355.4l7.0,4.3v8.6l-7.0,4.3l-7.0,-4.3v-8.6zM1797.5,354.9l7.0,4.3v8.6l-7.0,4.3l-7.0,-4.3v-8.6zM1810.5,354.4l7.0,4.3v8.6l-7.0,4.3l-7.0,-4.3v-8.6zM1823.6,353.7l7.0,4.3v8.6l-7.0,4.3l-7.0,-4.3v-8.6zM1836.7,353.0l7.0,4.3v8.6l-7.0,4.3l-7.0,-4.3v-8.6zM1849.7,352.3l7.0,4.3v8.6l-7.0,4.3l-7.0,-4.3v-8.6zM1862.8,351.7l7.0,4.3v8.6l-7.0,4.3l-7.0,-4.3v-8.6zM1875.8,351.2l7.0,4.3v8.6l-7.0,4.3l-7.0,-4.3v-8.6zM1888.9,350.7l7.0,4.3v8.6l-7.0,4.3l-7.0,-4.3v-8.6zM1902.0,350.2l7.0,4.3v8.6l-7.0,4.3l-7.0,-4.3v-8.6zM1915.0,349.8l7.0,4.3v8.6l-7.0,4.3l-7.0,-4.3v-8.6zM1928.1,349.4l7.0,4.3v8.6l-7.0,4.3l-7.0,-4.3v-8.6zM1941.1,349.0l7.0,4.3v8.6l-7.0,4.3l-7.0,-4.3v-8.6zM1954.2,348.7l7.0,4.3v8.6l-7.0,4.3l-7.0,-4.3v-8.6z" fill="#9e0a43" stroke="#7b0734" stroke-width="0.9"/>
<polyline points="1301.2,642.7 1314.3,605.9 1327.3,574.7 1340.4,549.3 1353.4,526.1 1366.5,505.2 1379.6,487.7 1392.6,469.8 1405.7,451.9 1418.7,435.4 1431.8,422.3 1444.9,412.1 1457.9,403.5 1471.0,395.7 1484.0,389.6 1497.1,384.1 1510.2,379.3 1523.2,374.5 1536.3,370.5 1549.3,367.2 1562.4,363.4 1575.5,358.8 1588.5,355.1 1601.6,351.6 1614.6,348.3 1627.7,345.4 1640.8,342.4 1653.8,339.4 1666.9,336.7 1679.9,334.4 1693.0,332.0 1706.1,329.9 1719.1,327.9 1732.2,326.0 1745.2,324.2 1758.3,322.4 1771.4,321.6 1784.4,321.1 1797.5,320.7 1810.5,320.3 1823.6,320.0 1836.7,319.7 1849.7,319.4 1862.8,319.1 1875.8,318.9 1888.9,318.7 1902.0,318.5 1915.0,318.3 1928.1,318.1 1941.1,317.9 1954.2,317.8" fill="none" stroke="#d6334f" stroke-width="3.3"/><path d="M1301.2,634.1l7.0,4.3v8.6l-7.0,4.3l-7.0,-4.3v-8.6zM1314.3,597.3l7.0,4.3v8.6l-7.0,4.3l-7.0,-4.3v-8.6zM1327.3,566.1l7.0,4.3v8.6l-7.0,4.3l-7.0,-4.3v-8.6zM1340.4,540.7l7.0,4.3v8.6l-7.0,4.3l-7.0,-4.3v-8.6zM1353.4,517.5l7.0,4.3v8.6l-7.0,4.3l-7.0,-4.3v-8.6zM1366.5,496.6l7.0,4.3v8.6l-7.0,4.3l-7.0,-4.3v-8.6zM1379.6,479.1l7.0,4.3v8.6l-7.0,4.3l-7.0,-4.3v-8.6zM1392.6,461.2l7.0,4.3v8.6l-7.0,4.3l-7.0,-4.3v-8.6zM1405.7,443.3l7.0,4.3v8.6l-7.0,4.3l-7.0,-4.3v-8.6zM1418.7,426.8l7.0,4.3v8.6l-7.0,4.3l-7.0,-4.3v-8.6zM1431.8,413.7l7.0,4.3v8.6l-7.0,4.3l-7.0,-4.3v-8.6zM1444.9,403.5l7.0,4.3v8.6l-7.0,4.3l-7.0,-4.3v-8.6zM1457.9,394.9l7.0,4.3v8.6l-7.0,4.3l-7.0,-4.3v-8.6zM1471.0,387.1l7.0,4.3v8.6l-7.0,4.3l-7.0,-4.3v-8.6zM1484.0,381.0l7.0,4.3v8.6l-7.0,4.3l-7.0,-4.3v-8.6zM1497.1,375.5l7.0,4.3v8.6l-7.0,4.3l-7.0,-4.3v-8.6zM1510.2,370.7l7.0,4.3v8.6l-7.0,4.3l-7.0,-4.3v-8.6zM1523.2,365.9l7.0,4.3v8.6l-7.0,4.3l-7.0,-4.3v-8.6zM1536.3,361.9l7.0,4.3v8.6l-7.0,4.3l-7.0,-4.3v-8.6zM1549.3,358.6l7.0,4.3v8.6l-7.0,4.3l-7.0,-4.3v-8.6zM1562.4,354.8l7.0,4.3v8.6l-7.0,4.3l-7.0,-4.3v-8.6zM1575.5,350.2l7.0,4.3v8.6l-7.0,4.3l-7.0,-4.3v-8.6zM1588.5,346.5l7.0,4.3v8.6l-7.0,4.3l-7.0,-4.3v-8.6zM1601.6,343.0l7.0,4.3v8.6l-7.0,4.3l-7.0,-4.3v-8.6zM1614.6,339.7l7.0,4.3v8.6l-7.0,4.3l-7.0,-4.3v-8.6zM1627.7,336.8l7.0,4.3v8.6l-7.0,4.3l-7.0,-4.3v-8.6zM1640.8,333.8l7.0,4.3v8.6l-7.0,4.3l-7.0,-4.3v-8.6zM1653.8,330.8l7.0,4.3v8.6l-7.0,4.3l-7.0,-4.3v-8.6zM1666.9,328.1l7.0,4.3v8.6l-7.0,4.3l-7.0,-4.3v-8.6zM1679.9,325.8l7.0,4.3v8.6l-7.0,4.3l-7.0,-4.3v-8.6zM1693.0,323.4l7.0,4.3v8.6l-7.0,4.3l-7.0,-4.3v-8.6zM1706.1,321.3l7.0,4.3v8.6l-7.0,4.3l-7.0,-4.3v-8.6zM1719.1,319.3l7.0,4.3v8.6l-7.0,4.3l-7.0,-4.3v-8.6zM1732.2,317.4l7.0,4.3v8.6l-7.0,4.3l-7.0,-4.3v-8.6zM1745.2,315.6l7.0,4.3v8.6l-7.0,4.3l-7.0,-4.3v-8.6zM1758.3,313.8l7.0,4.3v8.6l-7.0,4.3l-7.0,-4.3v-8.6zM1771.4,313.0l7.0,4.3v8.6l-7.0,4.3l-7.0,-4.3v-8.6zM1784.4,312.5l7.0,4.3v8.6l-7.0,4.3l-7.0,-4.3v-8.6zM1797.5,312.1l7.0,4.3v8.6l-7.0,4.3l-7.0,-4.3v-8.6zM1810.5,311.7l7.0,4.3v8.6l-7.0,4.3l-7.0,-4.3v-8.6zM1823.6,311.4l7.0,4.3v8.6l-7.0,4.3l-7.0,-4.3v-8.6zM1836.7,311.1l7.0,4.3v8.6l-7.0,4.3l-7.0,-4.3v-8.6zM1849.7,310.8l7.0,4.3v8.6l-7.0,4.3l-7.0,-4.3v-8.6zM1862.8,310.5l7.0,4.3v8.6l-7.0,4.3l-7.0,-4.3v-8.6zM1875.8,310.3l7.0,4.3v8.6l-7.0,4.3l-7.0,-4.3v-8.6zM1888.9,310.1l7.0,4.3v8.6l-7.0,4.3l-7.0,-4.3v-8.6zM1902.0,309.9l7.0,4.3v8.6l-7.0,4.3l-7.0,-4.3v-8.6zM1915.0,309.7l7.0,4.3v8.6l-7.0,4.3l-7.0,-4.3v-8.6zM1928.1,309.5l7.0,4.3v8.6l-7.0,4.3l-7.0,-4.3v-8.6zM1941.1,309.3l7.0,4.3v8.6l-7.0,4.3l-7.0,-4.3v-8.6zM1954.2,309.2l7.0,4.3v8.6l-7.0,4.3l-7.0,-4.3v-8.6z" fill="#d6334f" stroke="#a6273d" stroke-width="0.9"/>
<polyline points="1301.2,594.5 1314.3,571.8 1327.3,550.2 1340.4,528.6 1353.4,508.4 1366.5,489.0 1379.6,469.8 1392.6,450.3 1405.7,432.6 1418.7,416.1 1431.8,402.4 1444.9,391.5 1457.9,381.1 1471.0,371.6 1484.0,361.9 1497.1,352.3 1510.2,344.7 1523.2,337.4 1536.3,330.6 1549.3,323.8 1562.4,317.2 1575.5,310.7 1588.5,304.0 1601.6,297.0 1614.6,290.1 1627.7,282.9 1640.8,275.1 1653.8,268.4 1666.9,262.3 1679.9,257.3 1693.0,252.1 1706.1,246.6 1719.1,241.5 1732.2,237.2 1745.2,233.5 1758.3,230.0 1771.4,226.5 1784.4,222.8 1797.5,219.5 1810.5,216.6 1823.6,213.9 1836.7,211.2 1849.7,208.3 1862.8,205.1 1875.8,201.9 1888.9,198.8 1902.0,196.2 1915.0,194.0 1928.1,192.0 1941.1,190.2 1954.2,188.8" fill="none" stroke="#f26841" stroke-width="3.3"/><path d="M1301.2,585.9l7.0,4.3v8.6l-7.0,4.3l-7.0,-4.3v-8.6zM1314.3,563.2l7.0,4.3v8.6l-7.0,4.3l-7.0,-4.3v-8.6zM1327.3,541.6l7.0,4.3v8.6l-7.0,4.3l-7.0,-4.3v-8.6zM1340.4,520.0l7.0,4.3v8.6l-7.0,4.3l-7.0,-4.3v-8.6zM1353.4,499.8l7.0,4.3v8.6l-7.0,4.3l-7.0,-4.3v-8.6zM1366.5,480.4l7.0,4.3v8.6l-7.0,4.3l-7.0,-4.3v-8.6zM1379.6,461.2l7.0,4.3v8.6l-7.0,4.3l-7.0,-4.3v-8.6zM1392.6,441.7l7.0,4.3v8.6l-7.0,4.3l-7.0,-4.3v-8.6zM1405.7,424.0l7.0,4.3v8.6l-7.0,4.3l-7.0,-4.3v-8.6zM1418.7,407.5l7.0,4.3v8.6l-7.0,4.3l-7.0,-4.3v-8.6zM1431.8,393.8l7.0,4.3v8.6l-7.0,4.3l-7.0,-4.3v-8.6zM1444.9,382.9l7.0,4.3v8.6l-7.0,4.3l-7.0,-4.3v-8.6zM1457.9,372.5l7.0,4.3v8.6l-7.0,4.3l-7.0,-4.3v-8.6zM1471.0,363.0l7.0,4.3v8.6l-7.0,4.3l-7.0,-4.3v-8.6zM1484.0,353.3l7.0,4.3v8.6l-7.0,4.3l-7.0,-4.3v-8.6zM1497.1,343.7l7.0,4.3v8.6l-7.0,4.3l-7.0,-4.3v-8.6zM1510.2,336.1l7.0,4.3v8.6l-7.0,4.3l-7.0,-4.3v-8.6zM1523.2,328.8l7.0,4.3v8.6l-7.0,4.3l-7.0,-4.3v-8.6zM1536.3,322.0l7.0,4.3v8.6l-7.0,4.3l-7.0,-4.3v-8.6zM1549.3,315.2l7.0,4.3v8.6l-7.0,4.3l-7.0,-4.3v-8.6zM1562.4,308.6l7.0,4.3v8.6l-7.0,4.3l-7.0,-4.3v-8.6zM1575.5,302.1l7.0,4.3v8.6l-7.0,4.3l-7.0,-4.3v-8.6zM1588.5,295.4l7.0,4.3v8.6l-7.0,4.3l-7.0,-4.3v-8.6zM1601.6,288.4l7.0,4.3v8.6l-7.0,4.3l-7.0,-4.3v-8.6zM1614.6,281.5l7.0,4.3v8.6l-7.0,4.3l-7.0,-4.3v-8.6zM1627.7,274.2l7.0,4.3v8.6l-7.0,4.3l-7.0,-4.3v-8.6zM1640.8,266.5l7.0,4.3v8.6l-7.0,4.3l-7.0,-4.3v-8.6zM1653.8,259.8l7.0,4.3v8.6l-7.0,4.3l-7.0,-4.3v-8.6zM1666.9,253.7l7.0,4.3v8.6l-7.0,4.3l-7.0,-4.3v-8.6zM1679.9,248.7l7.0,4.3v8.6l-7.0,4.3l-7.0,-4.3v-8.6zM1693.0,243.5l7.0,4.3v8.6l-7.0,4.3l-7.0,-4.3v-8.6zM1706.1,238.0l7.0,4.3v8.6l-7.0,4.3l-7.0,-4.3v-8.6zM1719.1,232.9l7.0,4.3v8.6l-7.0,4.3l-7.0,-4.3v-8.6zM1732.2,228.6l7.0,4.3v8.6l-7.0,4.3l-7.0,-4.3v-8.6zM1745.2,224.9l7.0,4.3v8.6l-7.0,4.3l-7.0,-4.3v-8.6zM1758.3,221.4l7.0,4.3v8.6l-7.0,4.3l-7.0,-4.3v-8.6zM1771.4,217.9l7.0,4.3v8.6l-7.0,4.3l-7.0,-4.3v-8.6zM1784.4,214.2l7.0,4.3v8.6l-7.0,4.3l-7.0,-4.3v-8.6zM1797.5,210.9l7.0,4.3v8.6l-7.0,4.3l-7.0,-4.3v-8.6zM1810.5,208.0l7.0,4.3v8.6l-7.0,4.3l-7.0,-4.3v-8.6zM1823.6,205.3l7.0,4.3v8.6l-7.0,4.3l-7.0,-4.3v-8.6zM1836.7,202.6l7.0,4.3v8.6l-7.0,4.3l-7.0,-4.3v-8.6zM1849.7,199.7l7.0,4.3v8.6l-7.0,4.3l-7.0,-4.3v-8.6zM1862.8,196.5l7.0,4.3v8.6l-7.0,4.3l-7.0,-4.3v-8.6zM1875.8,193.3l7.0,4.3v8.6l-7.0,4.3l-7.0,-4.3v-8.6zM1888.9,190.2l7.0,4.3v8.6l-7.0,4.3l-7.0,-4.3v-8.6zM1902.0,187.6l7.0,4.3v8.6l-7.0,4.3l-7.0,-4.3v-8.6zM1915.0,185.4l7.0,4.3v8.6l-7.0,4.3l-7.0,-4.3v-8.6zM1928.1,183.4l7.0,4.3v8.6l-7.0,4.3l-7.0,-4.3v-8.6zM1941.1,181.6l7.0,4.3v8.6l-7.0,4.3l-7.0,-4.3v-8.6zM1954.2,180.2l7.0,4.3v8.6l-7.0,4.3l-7.0,-4.3v-8.6z" fill="#f26841" stroke="#bc5132" stroke-width="0.9"/>
<polyline points="1301.2,593.0 1314.3,570.3 1327.3,548.7 1340.4,527.1 1353.4,506.9 1366.5,487.5 1379.6,468.3 1392.6,448.8 1405.7,431.1 1418.7,414.6 1431.8,400.9 1444.9,389.9 1457.9,377.7 1471.0,365.6 1484.0,354.3 1497.1,343.6 1510.2,333.6 1523.2,324.0 1536.3,314.3 1549.3,304.0 1562.4,294.2 1575.5,286.1 1588.5,278.5 1601.6,271.0 1614.6,263.3 1627.7,255.4 1640.8,248.0 1653.8,240.7 1666.9,231.4 1679.9,223.6 1693.0,217.1 1706.1,211.9 1719.1,207.1 1732.2,202.3 1745.2,197.1 1758.3,190.2 1771.4,181.0 1784.4,173.6 1797.5,169.5 1810.5,166.9 1823.6,164.8 1836.7,162.8 1849.7,160.4 1862.8,157.4 1875.8,154.3 1888.9,151.3 1902.0,148.9 1915.0,146.9 1928.1,145.1 1941.1,143.7 1954.2,142.5" fill="none" stroke="#fb9550" stroke-width="3.3"/><path d="M1301.2,584.4l7.0,4.3v8.6l-7.0,4.3l-7.0,-4.3v-8.6zM1314.3,561.7l7.0,4.3v8.6l-7.0,4.3l-7.0,-4.3v-8.6zM1327.3,540.1l7.0,4.3v8.6l-7.0,4.3l-7.0,-4.3v-8.6zM1340.4,518.5l7.0,4.3v8.6l-7.0,4.3l-7.0,-4.3v-8.6zM1353.4,498.3l7.0,4.3v8.6l-7.0,4.3l-7.0,-4.3v-8.6zM1366.5,478.9l7.0,4.3v8.6l-7.0,4.3l-7.0,-4.3v-8.6zM1379.6,459.7l7.0,4.3v8.6l-7.0,4.3l-7.0,-4.3v-8.6zM1392.6,440.2l7.0,4.3v8.6l-7.0,4.3l-7.0,-4.3v-8.6zM1405.7,422.5l7.0,4.3v8.6l-7.0,4.3l-7.0,-4.3v-8.6zM1418.7,406.0l7.0,4.3v8.6l-7.0,4.3l-7.0,-4.3v-8.6zM1431.8,392.3l7.0,4.3v8.6l-7.0,4.3l-7.0,-4.3v-8.6zM1444.9,381.3l7.0,4.3v8.6l-7.0,4.3l-7.0,-4.3v-8.6zM1457.9,369.1l7.0,4.3v8.6l-7.0,4.3l-7.0,-4.3v-8.6zM1471.0,357.0l7.0,4.3v8.6l-7.0,4.3l-7.0,-4.3v-8.6zM1484.0,345.7l7.0,4.3v8.6l-7.0,4.3l-7.0,-4.3v-8.6zM1497.1,335.0l7.0,4.3v8.6l-7.0,4.3l-7.0,-4.3v-8.6zM1510.2,325.0l7.0,4.3v8.6l-7.0,4.3l-7.0,-4.3v-8.6zM1523.2,315.4l7.0,4.3v8.6l-7.0,4.3l-7.0,-4.3v-8.6zM1536.3,305.7l7.0,4.3v8.6l-7.0,4.3l-7.0,-4.3v-8.6zM1549.3,295.4l7.0,4.3v8.6l-7.0,4.3l-7.0,-4.3v-8.6zM1562.4,285.6l7.0,4.3v8.6l-7.0,4.3l-7.0,-4.3v-8.6zM1575.5,277.5l7.0,4.3v8.6l-7.0,4.3l-7.0,-4.3v-8.6zM1588.5,269.9l7.0,4.3v8.6l-7.0,4.3l-7.0,-4.3v-8.6zM1601.6,262.4l7.0,4.3v8.6l-7.0,4.3l-7.0,-4.3v-8.6zM1614.6,254.7l7.0,4.3v8.6l-7.0,4.3l-7.0,-4.3v-8.6zM1627.7,246.8l7.0,4.3v8.6l-7.0,4.3l-7.0,-4.3v-8.6zM1640.8,239.4l7.0,4.3v8.6l-7.0,4.3l-7.0,-4.3v-8.6zM1653.8,232.1l7.0,4.3v8.6l-7.0,4.3l-7.0,-4.3v-8.6zM1666.9,222.8l7.0,4.3v8.6l-7.0,4.3l-7.0,-4.3v-8.6zM1679.9,215.0l7.0,4.3v8.6l-7.0,4.3l-7.0,-4.3v-8.6zM1693.0,208.5l7.0,4.3v8.6l-7.0,4.3l-7.0,-4.3v-8.6zM1706.1,203.3l7.0,4.3v8.6l-7.0,4.3l-7.0,-4.3v-8.6zM1719.1,198.5l7.0,4.3v8.6l-7.0,4.3l-7.0,-4.3v-8.6zM1732.2,193.7l7.0,4.3v8.6l-7.0,4.3l-7.0,-4.3v-8.6zM1745.2,188.5l7.0,4.3v8.6l-7.0,4.3l-7.0,-4.3v-8.6zM1758.3,181.6l7.0,4.3v8.6l-7.0,4.3l-7.0,-4.3v-8.6zM1771.4,172.4l7.0,4.3v8.6l-7.0,4.3l-7.0,-4.3v-8.6zM1784.4,165.0l7.0,4.3v8.6l-7.0,4.3l-7.0,-4.3v-8.6zM1797.5,160.9l7.0,4.3v8.6l-7.0,4.3l-7.0,-4.3v-8.6zM1810.5,158.3l7.0,4.3v8.6l-7.0,4.3l-7.0,-4.3v-8.6zM1823.6,156.2l7.0,4.3v8.6l-7.0,4.3l-7.0,-4.3v-8.6zM1836.7,154.2l7.0,4.3v8.6l-7.0,4.3l-7.0,-4.3v-8.6zM1849.7,151.8l7.0,4.3v8.6l-7.0,4.3l-7.0,-4.3v-8.6zM1862.8,148.8l7.0,4.3v8.6l-7.0,4.3l-7.0,-4.3v-8.6zM1875.8,145.7l7.0,4.3v8.6l-7.0,4.3l-7.0,-4.3v-8.6zM1888.9,142.7l7.0,4.3v8.6l-7.0,4.3l-7.0,-4.3v-8.6zM1902.0,140.3l7.0,4.3v8.6l-7.0,4.3l-7.0,-4.3v-8.6zM1915.0,138.3l7.0,4.3v8.6l-7.0,4.3l-7.0,-4.3v-8.6zM1928.1,136.5l7.0,4.3v8.6l-7.0,4.3l-7.0,-4.3v-8.6zM1941.1,135.1l7.0,4.3v8.6l-7.0,4.3l-7.0,-4.3v-8.6zM1954.2,133.9l7.0,4.3v8.6l-7.0,4.3l-7.0,-4.3v-8.6z" fill="#fb9550" stroke="#c3743e" stroke-width="0.9"/>
<polyline points="1301.2,591.4 1314.3,562.4 1327.3,538.1 1340.4,515.8 1353.4,494.0 1366.5,473.1 1379.6,453.2 1392.6,433.9 1405.7,417.7 1418.7,402.8 1431.8,389.4 1444.9,377.8 1457.9,366.2 1471.0,354.8 1484.0,344.0 1497.1,333.2 1510.2,323.4 1523.2,313.6 1536.3,304.0 1549.3,293.9 1562.4,284.3 1575.5,275.7 1588.5,267.6 1601.6,259.2 1614.6,250.6 1627.7,242.0 1640.8,234.0 1653.8,225.8 1666.9,216.0 1679.9,208.4 1693.0,202.0 1706.1,196.0 1719.1,190.3 1732.2,184.9 1745.2,179.6 1758.3,172.9 1771.4,164.6 1784.4,158.2 1797.5,154.0 1810.5,150.8 1823.6,147.9 1836.7,144.8 1849.7,141.5 1862.8,137.8 1875.8,134.0 1888.9,130.5 1902.0,127.4 1915.0,124.9 1928.1,122.6 1941.1,120.6 1954.2,119.0" fill="none" stroke="#d2eebb" stroke-width="3.3"/><path d="M1301.2,582.8l7.0,4.3v8.6l-7.0,4.3l-7.0,-4.3v-8.6zM1314.3,553.8l7.0,4.3v8.6l-7.0,4.3l-7.0,-4.3v-8.6zM1327.3,529.5l7.0,4.3v8.6l-7.0,4.3l-7.0,-4.3v-8.6zM1340.4,507.2l7.0,4.3v8.6l-7.0,4.3l-7.0,-4.3v-8.6zM1353.4,485.4l7.0,4.3v8.6l-7.0,4.3l-7.0,-4.3v-8.6zM1366.5,464.5l7.0,4.3v8.6l-7.0,4.3l-7.0,-4.3v-8.6zM1379.6,444.6l7.0,4.3v8.6l-7.0,4.3l-7.0,-4.3v-8.6zM1392.6,425.3l7.0,4.3v8.6l-7.0,4.3l-7.0,-4.3v-8.6zM1405.7,409.1l7.0,4.3v8.6l-7.0,4.3l-7.0,-4.3v-8.6zM1418.7,394.2l7.0,4.3v8.6l-7.0,4.3l-7.0,-4.3v-8.6zM1431.8,380.8l7.0,4.3v8.6l-7.0,4.3l-7.0,-4.3v-8.6zM1444.9,369.2l7.0,4.3v8.6l-7.0,4.3l-7.0,-4.3v-8.6zM1457.9,357.6l7.0,4.3v8.6l-7.0,4.3l-7.0,-4.3v-8.6zM1471.0,346.2l7.0,4.3v8.6l-7.0,4.3l-7.0,-4.3v-8.6zM1484.0,335.4l7.0,4.3v8.6l-7.0,4.3l-7.0,-4.3v-8.6zM1497.1,324.6l7.0,4.3v8.6l-7.0,4.3l-7.0,-4.3v-8.6zM1510.2,314.8l7.0,4.3v8.6l-7.0,4.3l-7.0,-4.3v-8.6zM1523.2,305.0l7.0,4.3v8.6l-7.0,4.3l-7.0,-4.3v-8.6zM1536.3,295.4l7.0,4.3v8.6l-7.0,4.3l-7.0,-4.3v-8.6zM1549.3,285.3l7.0,4.3v8.6l-7.0,4.3l-7.0,-4.3v-8.6zM1562.4,275.7l7.0,4.3v8.6l-7.0,4.3l-7.0,-4.3v-8.6zM1575.5,267.1l7.0,4.3v8.6l-7.0,4.3l-7.0,-4.3v-8.6zM1588.5,259.0l7.0,4.3v8.6l-7.0,4.3l-7.0,-4.3v-8.6zM1601.6,250.6l7.0,4.3v8.6l-7.0,4.3l-7.0,-4.3v-8.6zM1614.6,242.0l7.0,4.3v8.6l-7.0,4.3l-7.0,-4.3v-8.6zM1627.7,233.4l7.0,4.3v8.6l-7.0,4.3l-7.0,-4.3v-8.6zM1640.8,225.4l7.0,4.3v8.6l-7.0,4.3l-7.0,-4.3v-8.6zM1653.8,217.2l7.0,4.3v8.6l-7.0,4.3l-7.0,-4.3v-8.6zM1666.9,207.4l7.0,4.3v8.6l-7.0,4.3l-7.0,-4.3v-8.6zM1679.9,199.8l7.0,4.3v8.6l-7.0,4.3l-7.0,-4.3v-8.6zM1693.0,193.4l7.0,4.3v8.6l-7.0,4.3l-7.0,-4.3v-8.6zM1706.1,187.4l7.0,4.3v8.6l-7.0,4.3l-7.0,-4.3v-8.6zM1719.1,181.7l7.0,4.3v8.6l-7.0,4.3l-7.0,-4.3v-8.6zM1732.2,176.3l7.0,4.3v8.6l-7.0,4.3l-7.0,-4.3v-8.6zM1745.2,171.0l7.0,4.3v8.6l-7.0,4.3l-7.0,-4.3v-8.6zM1758.3,164.3l7.0,4.3v8.6l-7.0,4.3l-7.0,-4.3v-8.6zM1771.4,156.0l7.0,4.3v8.6l-7.0,4.3l-7.0,-4.3v-8.6zM1784.4,149.6l7.0,4.3v8.6l-7.0,4.3l-7.0,-4.3v-8.6zM1797.5,145.4l7.0,4.3v8.6l-7.0,4.3l-7.0,-4.3v-8.6zM1810.5,142.2l7.0,4.3v8.6l-7.0,4.3l-7.0,-4.3v-8.6zM1823.6,139.3l7.0,4.3v8.6l-7.0,4.3l-7.0,-4.3v-8.6zM1836.7,136.2l7.0,4.3v8.6l-7.0,4.3l-7.0,-4.3v-8.6zM1849.7,132.9l7.0,4.3v8.6l-7.0,4.3l-7.0,-4.3v-8.6zM1862.8,129.2l7.0,4.3v8.6l-7.0,4.3l-7.0,-4.3v-8.6zM1875.8,125.4l7.0,4.3v8.6l-7.0,4.3l-7.0,-4.3v-8.6zM1888.9,121.9l7.0,4.3v8.6l-7.0,4.3l-7.0,-4.3v-8.6zM1902.0,118.8l7.0,4.3v8.6l-7.0,4.3l-7.0,-4.3v-8.6zM1915.0,116.3l7.0,4.3v8.6l-7.0,4.3l-7.0,-4.3v-8.6zM1928.1,114.0l7.0,4.3v8.6l-7.0,4.3l-7.0,-4.3v-8.6zM1941.1,112.0l7.0,4.3v8.6l-7.0,4.3l-7.0,-4.3v-8.6zM1954.2,110.4l7.0,4.3v8.6l-7.0,4.3l-7.0,-4.3v-8.6z" fill="#d2eebb" stroke="#a3b991" stroke-width="0.9"/>
<polyline points="1301.2,582.2 1314.3,555.5 1327.3,533.7 1340.4,510.7 1353.4,488.8 1366.5,467.8 1379.6,448.1 1392.6,429.4 1405.7,413.5 1418.7,398.5 1431.8,384.5 1444.9,371.9 1457.9,360.0 1471.0,348.6 1484.0,337.7 1497.1,326.5 1510.2,316.3 1523.2,306.0 1536.3,296.0 1549.3,285.7 1562.4,275.8 1575.5,266.7 1588.5,258.0 1601.6,248.8 1614.6,239.3 1627.7,230.1 1640.8,221.3 1653.8,212.2 1666.9,201.9 1679.9,194.4 1693.0,187.8 1706.1,181.3 1719.1,175.0 1732.2,169.5 1745.2,164.4 1758.3,158.2 1771.4,151.1 1784.4,145.7 1797.5,141.8 1810.5,138.5 1823.6,135.3 1836.7,131.9 1849.7,128.3 1862.8,124.5 1875.8,120.7 1888.9,117.2 1902.0,114.2 1915.0,111.8 1928.1,109.6 1941.1,107.8 1954.2,106.4" fill="none" stroke="#8fd0b0" stroke-width="3.3"/><path d="M1301.2,573.6l7.0,4.3v8.6l-7.0,4.3l-7.0,-4.3v-8.6zM1314.3,546.9l7.0,4.3v8.6l-7.0,4.3l-7.0,-4.3v-8.6zM1327.3,525.1l7.0,4.3v8.6l-7.0,4.3l-7.0,-4.3v-8.6zM1340.4,502.1l7.0,4.3v8.6l-7.0,4.3l-7.0,-4.3v-8.6zM1353.4,480.2l7.0,4.3v8.6l-7.0,4.3l-7.0,-4.3v-8.6zM1366.5,459.2l7.0,4.3v8.6l-7.0,4.3l-7.0,-4.3v-8.6zM1379.6,439.5l7.0,4.3v8.6l-7.0,4.3l-7.0,-4.3v-8.6zM1392.6,420.8l7.0,4.3v8.6l-7.0,4.3l-7.0,-4.3v-8.6zM1405.7,404.9l7.0,4.3v8.6l-7.0,4.3l-7.0,-4.3v-8.6zM1418.7,389.9l7.0,4.3v8.6l-7.0,4.3l-7.0,-4.3v-8.6zM1431.8,375.9l7.0,4.3v8.6l-7.0,4.3l-7.0,-4.3v-8.6zM1444.9,363.3l7.0,4.3v8.6l-7.0,4.3l-7.0,-4.3v-8.6zM1457.9,351.4l7.0,4.3v8.6l-7.0,4.3l-7.0,-4.3v-8.6zM1471.0,340.0l7.0,4.3v8.6l-7.0,4.3l-7.0,-4.3v-8.6zM1484.0,329.1l7.0,4.3v8.6l-7.0,4.3l-7.0,-4.3v-8.6zM1497.1,317.9l7.0,4.3v8.6l-7.0,4.3l-7.0,-4.3v-8.6zM1510.2,307.7l7.0,4.3v8.6l-7.0,4.3l-7.0,-4.3v-8.6zM1523.2,297.4l7.0,4.3v8.6l-7.0,4.3l-7.0,-4.3v-8.6zM1536.3,287.4l7.0,4.3v8.6l-7.0,4.3l-7.0,-4.3v-8.6zM1549.3,277.1l7.0,4.3v8.6l-7.0,4.3l-7.0,-4.3v-8.6zM1562.4,267.2l7.0,4.3v8.6l-7.0,4.3l-7.0,-4.3v-8.6zM1575.5,258.1l7.0,4.3v8.6l-7.0,4.3l-7.0,-4.3v-8.6zM1588.5,249.4l7.0,4.3v8.6l-7.0,4.3l-7.0,-4.3v-8.6zM1601.6,240.2l7.0,4.3v8.6l-7.0,4.3l-7.0,-4.3v-8.6zM1614.6,230.7l7.0,4.3v8.6l-7.0,4.3l-7.0,-4.3v-8.6zM1627.7,221.5l7.0,4.3v8.6l-7.0,4.3l-7.0,-4.3v-8.6zM1640.8,212.7l7.0,4.3v8.6l-7.0,4.3l-7.0,-4.3v-8.6zM1653.8,203.6l7.0,4.3v8.6l-7.0,4.3l-7.0,-4.3v-8.6zM1666.9,193.3l7.0,4.3v8.6l-7.0,4.3l-7.0,-4.3v-8.6zM1679.9,185.8l7.0,4.3v8.6l-7.0,4.3l-7.0,-4.3v-8.6zM1693.0,179.2l7.0,4.3v8.6l-7.0,4.3l-7.0,-4.3v-8.6zM1706.1,172.7l7.0,4.3v8.6l-7.0,4.3l-7.0,-4.3v-8.6zM1719.1,166.4l7.0,4.3v8.6l-7.0,4.3l-7.0,-4.3v-8.6zM1732.2,160.9l7.0,4.3v8.6l-7.0,4.3l-7.0,-4.3v-8.6zM1745.2,155.8l7.0,4.3v8.6l-7.0,4.3l-7.0,-4.3v-8.6zM1758.3,149.6l7.0,4.3v8.6l-7.0,4.3l-7.0,-4.3v-8.6zM1771.4,142.5l7.0,4.3v8.6l-7.0,4.3l-7.0,-4.3v-8.6zM1784.4,137.1l7.0,4.3v8.6l-7.0,4.3l-7.0,-4.3v-8.6zM1797.5,133.2l7.0,4.3v8.6l-7.0,4.3l-7.0,-4.3v-8.6zM1810.5,129.9l7.0,4.3v8.6l-7.0,4.3l-7.0,-4.3v-8.6zM1823.6,126.7l7.0,4.3v8.6l-7.0,4.3l-7.0,-4.3v-8.6zM1836.7,123.3l7.0,4.3v8.6l-7.0,4.3l-7.0,-4.3v-8.6zM1849.7,119.7l7.0,4.3v8.6l-7.0,4.3l-7.0,-4.3v-8.6zM1862.8,115.9l7.0,4.3v8.6l-7.0,4.3l-7.0,-4.3v-8.6zM1875.8,112.1l7.0,4.3v8.6l-7.0,4.3l-7.0,-4.3v-8.6zM1888.9,108.6l7.0,4.3v8.6l-7.0,4.3l-7.0,-4.3v-8.6zM1902.0,105.6l7.0,4.3v8.6l-7.0,4.3l-7.0,-4.3v-8.6zM1915.0,103.2l7.0,4.3v8.6l-7.0,4.3l-7.0,-4.3v-8.6zM1928.1,101.0l7.0,4.3v8.6l-7.0,4.3l-7.0,-4.3v-8.6zM1941.1,99.2l7.0,4.3v8.6l-7.0,4.3l-7.0,-4.3v-8.6zM1954.2,97.8l7.0,4.3v8.6l-7.0,4.3l-7.0,-4.3v-8.6z" fill="#8fd0b0" stroke="#6fa289" stroke-width="0.9"/>
<polyline points="1301.2,570.6 1314.3,544.1 1327.3,524.5 1340.4,502.5 1353.4,480.1 1366.5,458.6 1379.6,439.2 1392.6,421.1 1405.7,406.4 1418.7,392.3 1431.8,378.3 1444.9,365.5 1457.9,354.0 1471.0,343.3 1484.0,333.0 1497.1,322.0 1510.2,312.1 1523.2,302.1 1536.3,292.5 1549.3,282.6 1562.4,272.9 1575.5,263.9 1588.5,255.2 1601.6,245.9 1614.6,236.4 1627.7,227.2 1640.8,218.4 1653.8,209.3 1666.9,199.1 1679.9,191.8 1693.0,185.4 1706.1,178.7 1719.1,172.0 1732.2,166.0 1745.2,160.5 1758.3,154.1 1771.4,147.0 1784.4,141.5 1797.5,137.3 1810.5,133.6 1823.6,129.9 1836.7,125.9 1849.7,121.8 1862.8,117.3 1875.8,113.1 1888.9,109.0 1902.0,105.5 1915.0,102.5 1928.1,99.8 1941.1,97.5 1954.2,95.6" fill="none" stroke="#55b0a8" stroke-width="3.3"/><path d="M1301.2,562.0l7.0,4.3v8.6l-7.0,4.3l-7.0,-4.3v-8.6zM1314.3,535.5l7.0,4.3v8.6l-7.0,4.3l-7.0,-4.3v-8.6zM1327.3,515.9l7.0,4.3v8.6l-7.0,4.3l-7.0,-4.3v-8.6zM1340.4,493.9l7.0,4.3v8.6l-7.0,4.3l-7.0,-4.3v-8.6zM1353.4,471.5l7.0,4.3v8.6l-7.0,4.3l-7.0,-4.3v-8.6zM1366.5,450.0l7.0,4.3v8.6l-7.0,4.3l-7.0,-4.3v-8.6zM1379.6,430.6l7.0,4.3v8.6l-7.0,4.3l-7.0,-4.3v-8.6zM1392.6,412.5l7.0,4.3v8.6l-7.0,4.3l-7.0,-4.3v-8.6zM1405.7,397.8l7.0,4.3v8.6l-7.0,4.3l-7.0,-4.3v-8.6zM1418.7,383.7l7.0,4.3v8.6l-7.0,4.3l-7.0,-4.3v-8.6zM1431.8,369.7l7.0,4.3v8.6l-7.0,4.3l-7.0,-4.3v-8.6zM1444.9,356.9l7.0,4.3v8.6l-7.0,4.3l-7.0,-4.3v-8.6zM1457.9,345.4l7.0,4.3v8.6l-7.0,4.3l-7.0,-4.3v-8.6zM1471.0,334.7l7.0,4.3v8.6l-7.0,4.3l-7.0,-4.3v-8.6zM1484.0,324.4l7.0,4.3v8.6l-7.0,4.3l-7.0,-4.3v-8.6zM1497.1,313.4l7.0,4.3v8.6l-7.0,4.3l-7.0,-4.3v-8.6zM1510.2,303.5l7.0,4.3v8.6l-7.0,4.3l-7.0,-4.3v-8.6zM1523.2,293.5l7.0,4.3v8.6l-7.0,4.3l-7.0,-4.3v-8.6zM1536.3,283.9l7.0,4.3v8.6l-7.0,4.3l-7.0,-4.3v-8.6zM1549.3,274.0l7.0,4.3v8.6l-7.0,4.3l-7.0,-4.3v-8.6zM1562.4,264.3l7.0,4.3v8.6l-7.0,4.3l-7.0,-4.3v-8.6zM1575.5,255.3l7.0,4.3v8.6l-7.0,4.3l-7.0,-4.3v-8.6zM1588.5,246.6l7.0,4.3v8.6l-7.0,4.3l-7.0,-4.3v-8.6zM1601.6,237.3l7.0,4.3v8.6l-7.0,4.3l-7.0,-4.3v-8.6zM1614.6,227.8l7.0,4.3v8.6l-7.0,4.3l-7.0,-4.3v-8.6zM1627.7,218.6l7.0,4.3v8.6l-7.0,4.3l-7.0,-4.3v-8.6zM1640.8,209.8l7.0,4.3v8.6l-7.0,4.3l-7.0,-4.3v-8.6zM1653.8,200.7l7.0,4.3v8.6l-7.0,4.3l-7.0,-4.3v-8.6zM1666.9,190.5l7.0,4.3v8.6l-7.0,4.3l-7.0,-4.3v-8.6zM1679.9,183.2l7.0,4.3v8.6l-7.0,4.3l-7.0,-4.3v-8.6zM1693.0,176.8l7.0,4.3v8.6l-7.0,4.3l-7.0,-4.3v-8.6zM1706.1,170.1l7.0,4.3v8.6l-7.0,4.3l-7.0,-4.3v-8.6zM1719.1,163.4l7.0,4.3v8.6l-7.0,4.3l-7.0,-4.3v-8.6zM1732.2,157.4l7.0,4.3v8.6l-7.0,4.3l-7.0,-4.3v-8.6zM1745.2,151.9l7.0,4.3v8.6l-7.0,4.3l-7.0,-4.3v-8.6zM1758.3,145.5l7.0,4.3v8.6l-7.0,4.3l-7.0,-4.3v-8.6zM1771.4,138.4l7.0,4.3v8.6l-7.0,4.3l-7.0,-4.3v-8.6zM1784.4,132.9l7.0,4.3v8.6l-7.0,4.3l-7.0,-4.3v-8.6zM1797.5,128.7l7.0,4.3v8.6l-7.0,4.3l-7.0,-4.3v-8.6zM1810.5,125.0l7.0,4.3v8.6l-7.0,4.3l-7.0,-4.3v-8.6zM1823.6,121.3l7.0,4.3v8.6l-7.0,4.3l-7.0,-4.3v-8.6zM1836.7,117.3l7.0,4.3v8.6l-7.0,4.3l-7.0,-4.3v-8.6zM1849.7,113.2l7.0,4.3v8.6l-7.0,4.3l-7.0,-4.3v-8.6zM1862.8,108.7l7.0,4.3v8.6l-7.0,4.3l-7.0,-4.3v-8.6zM1875.8,104.5l7.0,4.3v8.6l-7.0,4.3l-7.0,-4.3v-8.6zM1888.9,100.4l7.0,4.3v8.6l-7.0,4.3l-7.0,-4.3v-8.6zM1902.0,96.9l7.0,4.3v8.6l-7.0,4.3l-7.0,-4.3v-8.6zM1915.0,93.9l7.0,4.3v8.6l-7.0,4.3l-7.0,-4.3v-8.6zM1928.1,91.2l7.0,4.3v8.6l-7.0,4.3l-7.0,-4.3v-8.6zM1941.1,88.9l7.0,4.3v8.6l-7.0,4.3l-7.0,-4.3v-8.6zM1954.2,87.0l7.0,4.3v8.6l-7.0,4.3l-7.0,-4.3v-8.6z" fill="#55b0a8" stroke="#428983" stroke-width="0.9"/>
<polyline points="1301.2,552.5 1314.3,537.5 1327.3,520.3 1340.4,499.8 1353.4,477.2 1366.5,455.6 1379.6,436.2 1392.6,418.4 1405.7,404.0 1418.7,390.2 1431.8,376.3 1444.9,363.4 1457.9,351.9 1471.0,341.2 1484.0,331.0 1497.1,319.9 1510.2,310.0 1523.2,299.9 1536.3,290.2 1549.3,280.2 1562.4,270.6 1575.5,261.3 1588.5,252.3 1601.6,242.5 1614.6,232.6 1627.7,222.9 1640.8,213.7 1653.8,204.2 1666.9,193.5 1679.9,186.1 1693.0,179.6 1706.1,172.4 1719.1,165.0 1732.2,158.6 1745.2,152.8 1758.3,146.3 1771.4,139.3 1784.4,134.0 1797.5,129.7 1810.5,125.9 1823.6,121.8 1836.7,117.4 1849.7,112.9 1862.8,108.2 1875.8,103.7 1888.9,99.5 1902.0,95.8 1915.0,92.6 1928.1,89.8 1941.1,87.3 1954.2,85.3" fill="none" stroke="#3a7bbf" stroke-width="3.3"/><path d="M1301.2,543.9l7.0,4.3v8.6l-7.0,4.3l-7.0,-4.3v-8.6zM1314.3,528.9l7.0,4.3v8.6l-7.0,4.3l-7.0,-4.3v-8.6zM1327.3,511.7l7.0,4.3v8.6l-7.0,4.3l-7.0,-4.3v-8.6zM1340.4,491.2l7.0,4.3v8.6l-7.0,4.3l-7.0,-4.3v-8.6zM1353.4,468.6l7.0,4.3v8.6l-7.0,4.3l-7.0,-4.3v-8.6zM1366.5,447.0l7.0,4.3v8.6l-7.0,4.3l-7.0,-4.3v-8.6zM1379.6,427.6l7.0,4.3v8.6l-7.0,4.3l-7.0,-4.3v-8.6zM1392.6,409.8l7.0,4.3v8.6l-7.0,4.3l-7.0,-4.3v-8.6zM1405.7,395.4l7.0,4.3v8.6l-7.0,4.3l-7.0,-4.3v-8.6zM1418.7,381.6l7.0,4.3v8.6l-7.0,4.3l-7.0,-4.3v-8.6zM1431.8,367.7l7.0,4.3v8.6l-7.0,4.3l-7.0,-4.3v-8.6zM1444.9,354.8l7.0,4.3v8.6l-7.0,4.3l-7.0,-4.3v-8.6zM1457.9,343.3l7.0,4.3v8.6l-7.0,4.3l-7.0,-4.3v-8.6zM1471.0,332.6l7.0,4.3v8.6l-7.0,4.3l-7.0,-4.3v-8.6zM1484.0,322.4l7.0,4.3v8.6l-7.0,4.3l-7.0,-4.3v-8.6zM1497.1,311.3l7.0,4.3v8.6l-7.0,4.3l-7.0,-4.3v-8.6zM1510.2,301.4l7.0,4.3v8.6l-7.0,4.3l-7.0,-4.3v-8.6zM1523.2,291.3l7.0,4.3v8.6l-7.0,4.3l-7.0,-4.3v-8.6zM1536.3,281.6l7.0,4.3v8.6l-7.0,4.3l-7.0,-4.3v-8.6zM1549.3,271.6l7.0,4.3v8.6l-7.0,4.3l-7.0,-4.3v-8.6zM1562.4,262.0l7.0,4.3v8.6l-7.0,4.3l-7.0,-4.3v-8.6zM1575.5,252.7l7.0,4.3v8.6l-7.0,4.3l-7.0,-4.3v-8.6zM1588.5,243.7l7.0,4.3v8.6l-7.0,4.3l-7.0,-4.3v-8.6zM1601.6,233.9l7.0,4.3v8.6l-7.0,4.3l-7.0,-4.3v-8.6zM1614.6,224.0l7.0,4.3v8.6l-7.0,4.3l-7.0,-4.3v-8.6zM1627.7,214.3l7.0,4.3v8.6l-7.0,4.3l-7.0,-4.3v-8.6zM1640.8,205.1l7.0,4.3v8.6l-7.0,4.3l-7.0,-4.3v-8.6zM1653.8,195.6l7.0,4.3v8.6l-7.0,4.3l-7.0,-4.3v-8.6zM1666.9,184.9l7.0,4.3v8.6l-7.0,4.3l-7.0,-4.3v-8.6zM1679.9,177.5l7.0,4.3v8.6l-7.0,4.3l-7.0,-4.3v-8.6zM1693.0,171.0l7.0,4.3v8.6l-7.0,4.3l-7.0,-4.3v-8.6zM1706.1,163.8l7.0,4.3v8.6l-7.0,4.3l-7.0,-4.3v-8.6zM1719.1,156.4l7.0,4.3v8.6l-7.0,4.3l-7.0,-4.3v-8.6zM1732.2,150.0l7.0,4.3v8.6l-7.0,4.3l-7.0,-4.3v-8.6zM1745.2,144.2l7.0,4.3v8.6l-7.0,4.3l-7.0,-4.3v-8.6zM1758.3,137.7l7.0,4.3v8.6l-7.0,4.3l-7.0,-4.3v-8.6zM1771.4,130.7l7.0,4.3v8.6l-7.0,4.3l-7.0,-4.3v-8.6zM1784.4,125.4l7.0,4.3v8.6l-7.0,4.3l-7.0,-4.3v-8.6zM1797.5,121.1l7.0,4.3v8.6l-7.0,4.3l-7.0,-4.3v-8.6zM1810.5,117.3l7.0,4.3v8.6l-7.0,4.3l-7.0,-4.3v-8.6zM1823.6,113.2l7.0,4.3v8.6l-7.0,4.3l-7.0,-4.3v-8.6zM1836.7,108.8l7.0,4.3v8.6l-7.0,4.3l-7.0,-4.3v-8.6zM1849.7,104.3l7.0,4.3v8.6l-7.0,4.3l-7.0,-4.3v-8.6zM1862.8,99.6l7.0,4.3v8.6l-7.0,4.3l-7.0,-4.3v-8.6zM1875.8,95.1l7.0,4.3v8.6l-7.0,4.3l-7.0,-4.3v-8.6zM1888.9,90.9l7.0,4.3v8.6l-7.0,4.3l-7.0,-4.3v-8.6zM1902.0,87.2l7.0,4.3v8.6l-7.0,4.3l-7.0,-4.3v-8.6zM1915.0,84.0l7.0,4.3v8.6l-7.0,4.3l-7.0,-4.3v-8.6zM1928.1,81.2l7.0,4.3v8.6l-7.0,4.3l-7.0,-4.3v-8.6zM1941.1,78.7l7.0,4.3v8.6l-7.0,4.3l-7.0,-4.3v-8.6zM1954.2,76.7l7.0,4.3v8.6l-7.0,4.3l-7.0,-4.3v-8.6z" fill="#3a7bbf" stroke="#2d5f94" stroke-width="0.9"/>
<g stroke="#000" stroke-width="2" fill="none">
<line x1="1220.0" y1="888.5" x2="1220.0" y2="1546.0"/>
<line x1="1219.0" y1="1545.0" x2="2037.0" y2="1545.0"/>
<line x1="1207.5" y1="889.5" x2="1220.0" y2="889.5"/>
<line x1="1213.5" y1="955.0" x2="1220.0" y2="955.0"/>
<line x1="1213.5" y1="938.5" x2="1220.0" y2="938.5"/>
<line x1="1213.5" y1="926.8" x2="1220.0" y2="926.8"/>
<line x1="1213.5" y1="917.7" x2="1220.0" y2="917.7"/>
<line x1="1213.5" y1="910.3" x2="1220.0" y2="910.3"/>
<line x1="1213.5" y1="904.0" x2="1220.0" y2="904.0"/>
<line x1="1213.5" y1="898.6" x2="1220.0" y2="898.6"/>
<line x1="1213.5" y1="893.8" x2="1220.0" y2="893.8"/>
<line x1="1207.5" y1="983.1" x2="1220.0" y2="983.1"/>
<line x1="1213.5" y1="1048.6" x2="1220.0" y2="1048.6"/>
<line x1="1213.5" y1="1032.1" x2="1220.0" y2="1032.1"/>
<line x1="1213.5" y1="1020.4" x2="1220.0" y2="1020.4"/>
<line x1="1213.5" y1="1011.3" x2="1220.0" y2="1011.3"/>
<line x1="1213.5" y1="1003.9" x2="1220.0" y2="1003.9"/>
<line x1="1213.5" y1="997.6" x2="1220.0" y2="997.6"/>
<line x1="1213.5" y1="992.2" x2="1220.0" y2="992.2"/>
<line x1="1213.5" y1="987.4" x2="1220.0" y2="987.4"/>
<line x1="1207.5" y1="1076.8" x2="1220.0" y2="1076.8"/>
<line x1="1213.5" y1="1142.2" x2="1220.0" y2="1142.2"/>
<line x1="1213.5" y1="1125.7" x2="1220.0" y2="1125.7"/>
<line x1="1213.5" y1="1114.0" x2="1220.0" y2="1114.0"/>
<line x1="1213.5" y1="1105.0" x2="1220.0" y2="1105.0"/>
<line x1="1213.5" y1="1097.6" x2="1220.0" y2="1097.6"/>
<line x1="1213.5" y1="1091.3" x2="1220.0" y2="1091.3"/>
<line x1="1213.5" y1="1085.9" x2="1220.0" y2="1085.9"/>
<line x1="1213.5" y1="1081.1" x2="1220.0" y2="1081.1"/>
<line x1="1207.5" y1="1170.4" x2="1220.0" y2="1170.4"/>
<line x1="1213.5" y1="1235.9" x2="1220.0" y2="1235.9"/>
<line x1="1213.5" y1="1219.4" x2="1220.0" y2="1219.4"/>
<line x1="1213.5" y1="1207.7" x2="1220.0" y2="1207.7"/>
<line x1="1213.5" y1="1198.6" x2="1220.0" y2="1198.6"/>
<line x1="1213.5" y1="1191.2" x2="1220.0" y2="1191.2"/>
<line x1="1213.5" y1="1184.9" x2="1220.0" y2="1184.9"/>
<line x1="1213.5" y1="1179.5" x2="1220.0" y2="1179.5"/>
<line x1="1213.5" y1="1174.7" x2="1220.0" y2="1174.7"/>
<line x1="1207.5" y1="1264.1" x2="1220.0" y2="1264.1"/>
<line x1="1213.5" y1="1329.5" x2="1220.0" y2="1329.5"/>
<line x1="1213.5" y1="1313.0" x2="1220.0" y2="1313.0"/>
<line x1="1213.5" y1="1301.3" x2="1220.0" y2="1301.3"/>
<line x1="1213.5" y1="1292.3" x2="1220.0" y2="1292.3"/>
<line x1="1213.5" y1="1284.8" x2="1220.0" y2="1284.8"/>
<line x1="1213.5" y1="1278.6" x2="1220.0" y2="1278.6"/>
<line x1="1213.5" y1="1273.1" x2="1220.0" y2="1273.1"/>
<line x1="1213.5" y1="1268.4" x2="1220.0" y2="1268.4"/>
<line x1="1207.5" y1="1357.7" x2="1220.0" y2="1357.7"/>
<line x1="1213.5" y1="1423.2" x2="1220.0" y2="1423.2"/>
<line x1="1213.5" y1="1406.7" x2="1220.0" y2="1406.7"/>
<line x1="1213.5" y1="1395.0" x2="1220.0" y2="1395.0"/>
<line x1="1213.5" y1="1385.9" x2="1220.0" y2="1385.9"/>
<line x1="1213.5" y1="1378.5" x2="1220.0" y2="1378.5"/>
<line x1="1213.5" y1="1372.2" x2="1220.0" y2="1372.2"/>
<line x1="1213.5" y1="1366.8" x2="1220.0" y2="1366.8"/>
<line x1="1213.5" y1="1362.0" x2="1220.0" y2="1362.0"/>
<line x1="1207.5" y1="1451.4" x2="1220.0" y2="1451.4"/>
<line x1="1213.5" y1="1516.8" x2="1220.0" y2="1516.8"/>
<line x1="1213.5" y1="1500.3" x2="1220.0" y2="1500.3"/>
<line x1="1213.5" y1="1488.6" x2="1220.0" y2="1488.6"/>
<line x1="1213.5" y1="1479.5" x2="1220.0" y2="1479.5"/>
<line x1="1213.5" y1="1472.1" x2="1220.0" y2="1472.1"/>
<line x1="1213.5" y1="1465.9" x2="1220.0" y2="1465.9"/>
<line x1="1213.5" y1="1460.4" x2="1220.0" y2="1460.4"/>
<line x1="1213.5" y1="1455.6" x2="1220.0" y2="1455.6"/>
<line x1="1207.5" y1="1545.0" x2="1220.0" y2="1545.0"/>
<line x1="1220.0" y1="1545.0" x2="1220.0" y2="1557.5"/>
<line x1="1288.0" y1="1545.0" x2="1288.0" y2="1551.5"/>
<line x1="1356.0" y1="1545.0" x2="1356.0" y2="1557.5"/>
<line x1="1424.0" y1="1545.0" x2="1424.0" y2="1551.5"/>
<line x1="1492.0" y1="1545.0" x2="1492.0" y2="1557.5"/>
<line x1="1560.0" y1="1545.0" x2="1560.0" y2="1551.5"/>
<line x1="1628.0" y1="1545.0" x2="1628.0" y2="1557.5"/>
<line x1="1696.0" y1="1545.0" x2="1696.0" y2="1551.5"/>
<line x1="1764.0" y1="1545.0" x2="1764.0" y2="1557.5"/>
<line x1="1832.0" y1="1545.0" x2="1832.0" y2="1551.5"/>
<line x1="1900.0" y1="1545.0" x2="1900.0" y2="1557.5"/>
<line x1="1968.0" y1="1545.0" x2="1968.0" y2="1551.5"/>
<line x1="2036.0" y1="1545.0" x2="2036.0" y2="1557.5"/>
</g>
<g font-family="'Liberation Sans', Arial, sans-serif" font-size="36.8" fill="#000" stroke="#000" stroke-width="0.8">
<text x="1198.8" y="900.4" text-anchor="end">1E-6</text>
<text x="1198.8" y="994.0" text-anchor="end">1E-7</text>
<text x="1198.8" y="1087.7" text-anchor="end">1E-8</text>
<text x="1198.8" y="1181.3" text-anchor="end">1E-9</text>
<text x="1198.8" y="1275.0" text-anchor="end">1E-10</text>
<text x="1198.8" y="1368.6" text-anchor="end">1E-11</text>
<text x="1198.8" y="1462.3" text-anchor="end">1E-12</text>
<text x="1198.8" y="1555.9" text-anchor="end">1E-13</text>
<text x="1220.0" y="1596.2" text-anchor="middle">-3.0</text>
<text x="1356.0" y="1596.2" text-anchor="middle">-2.0</text>
<text x="1492.0" y="1596.2" text-anchor="middle">-1.0</text>
<text x="1628.0" y="1596.2" text-anchor="middle">0.0</text>
<text x="1764.0" y="1596.2" text-anchor="middle">1.0</text>
<text x="1900.0" y="1596.2" text-anchor="middle">2.0</text>
<text x="2036.0" y="1596.2" text-anchor="middle">3.0</text>
</g>
<text font-family="'Liberation Sans', Arial, sans-serif" font-size="49.5" stroke="#000" stroke-width="0.9" x="1568.6" y="1654.4">V<tspan font-size="34.5" dy="13.8">Gr</tspan><tspan dy="-13.8"> (V)</tspan></text>
<text font-family="'Liberation Sans', Arial, sans-serif" font-size="49.5" stroke="#000" stroke-width="0.9" transform="translate(1071.5,1286.7) rotate(-90)" x="0" y="0">I<tspan font-size="34.5" dy="13.8">DS</tspan><tspan dy="-13.8"> (A)</tspan></text>
<polyline points="1354.7,1499.0 1365.6,1492.1 1376.5,1481.3 1387.4,1468.4 1398.3,1455.3 1409.2,1441.5 1420.1,1427.2 1431.0,1413.7 1441.9,1402.5 1452.9,1390.5 1463.8,1377.4 1474.7,1360.7 1485.6,1343.4 1496.5,1327.1 1507.4,1311.8 1518.3,1298.2 1529.2,1286.9 1540.1,1276.9 1551.0,1266.3 1561.9,1256.4 1572.8,1248.9 1583.7,1242.7 1594.6,1236.0 1605.5,1229.1 1616.4,1222.8 1627.4,1216.6 1638.3,1209.5 1649.2,1202.7 1660.1,1196.2 1671.0,1189.9 1681.9,1183.6 1692.8,1177.3 1703.7,1170.7 1714.6,1164.0 1725.5,1157.4 1736.4,1151.1 1747.3,1145.1 1758.2,1139.6 1769.1,1134.6 1780.0,1130.0 1790.9,1125.6 1801.8,1121.4 1812.8,1117.3 1823.7,1113.4 1834.6,1109.4 1845.5,1105.6 1856.4,1101.8 1867.3,1098.2 1878.2,1094.7 1889.1,1091.3 1900.0,1088.0" fill="none" stroke="#520620" stroke-width="3.3"/><path d="M1354.7,1490.4l7.0,4.3v8.6l-7.0,4.3l-7.0,-4.3v-8.6zM1365.6,1483.5l7.0,4.3v8.6l-7.0,4.3l-7.0,-4.3v-8.6zM1376.5,1472.7l7.0,4.3v8.6l-7.0,4.3l-7.0,-4.3v-8.6zM1387.4,1459.8l7.0,4.3v8.6l-7.0,4.3l-7.0,-4.3v-8.6zM1398.3,1446.7l7.0,4.3v8.6l-7.0,4.3l-7.0,-4.3v-8.6zM1409.2,1432.9l7.0,4.3v8.6l-7.0,4.3l-7.0,-4.3v-8.6zM1420.1,1418.6l7.0,4.3v8.6l-7.0,4.3l-7.0,-4.3v-8.6zM1431.0,1405.1l7.0,4.3v8.6l-7.0,4.3l-7.0,-4.3v-8.6zM1441.9,1393.9l7.0,4.3v8.6l-7.0,4.3l-7.0,-4.3v-8.6zM1452.9,1381.9l7.0,4.3v8.6l-7.0,4.3l-7.0,-4.3v-8.6zM1463.8,1368.8l7.0,4.3v8.6l-7.0,4.3l-7.0,-4.3v-8.6zM1474.7,1352.1l7.0,4.3v8.6l-7.0,4.3l-7.0,-4.3v-8.6zM1485.6,1334.8l7.0,4.3v8.6l-7.0,4.3l-7.0,-4.3v-8.6zM1496.5,1318.5l7.0,4.3v8.6l-7.0,4.3l-7.0,-4.3v-8.6zM1507.4,1303.2l7.0,4.3v8.6l-7.0,4.3l-7.0,-4.3v-8.6zM1518.3,1289.6l7.0,4.3v8.6l-7.0,4.3l-7.0,-4.3v-8.6zM1529.2,1278.3l7.0,4.3v8.6l-7.0,4.3l-7.0,-4.3v-8.6zM1540.1,1268.3l7.0,4.3v8.6l-7.0,4.3l-7.0,-4.3v-8.6zM1551.0,1257.7l7.0,4.3v8.6l-7.0,4.3l-7.0,-4.3v-8.6zM1561.9,1247.8l7.0,4.3v8.6l-7.0,4.3l-7.0,-4.3v-8.6zM1572.8,1240.3l7.0,4.3v8.6l-7.0,4.3l-7.0,-4.3v-8.6zM1583.7,1234.1l7.0,4.3v8.6l-7.0,4.3l-7.0,-4.3v-8.6zM1594.6,1227.4l7.0,4.3v8.6l-7.0,4.3l-7.0,-4.3v-8.6zM1605.5,1220.5l7.0,4.3v8.6l-7.0,4.3l-7.0,-4.3v-8.6zM1616.4,1214.2l7.0,4.3v8.6l-7.0,4.3l-7.0,-4.3v-8.6zM1627.4,1208.0l7.0,4.3v8.6l-7.0,4.3l-7.0,-4.3v-8.6zM1638.3,1200.9l7.0,4.3v8.6l-7.0,4.3l-7.0,-4.3v-8.6zM1649.2,1194.1l7.0,4.3v8.6l-7.0,4.3l-7.0,-4.3v-8.6zM1660.1,1187.6l7.0,4.3v8.6l-7.0,4.3l-7.0,-4.3v-8.6zM1671.0,1181.3l7.0,4.3v8.6l-7.0,4.3l-7.0,-4.3v-8.6zM1681.9,1175.0l7.0,4.3v8.6l-7.0,4.3l-7.0,-4.3v-8.6zM1692.8,1168.7l7.0,4.3v8.6l-7.0,4.3l-7.0,-4.3v-8.6zM1703.7,1162.1l7.0,4.3v8.6l-7.0,4.3l-7.0,-4.3v-8.6zM1714.6,1155.4l7.0,4.3v8.6l-7.0,4.3l-7.0,-4.3v-8.6zM1725.5,1148.8l7.0,4.3v8.6l-7.0,4.3l-7.0,-4.3v-8.6zM1736.4,1142.5l7.0,4.3v8.6l-7.0,4.3l-7.0,-4.3v-8.6zM1747.3,1136.5l7.0,4.3v8.6l-7.0,4.3l-7.0,-4.3v-8.6zM1758.2,1131.0l7.0,4.3v8.6l-7.0,4.3l-7.0,-4.3v-8.6zM1769.1,1126.0l7.0,4.3v8.6l-7.0,4.3l-7.0,-4.3v-8.6zM1780.0,1121.4l7.0,4.3v8.6l-7.0,4.3l-7.0,-4.3v-8.6zM1790.9,1117.0l7.0,4.3v8.6l-7.0,4.3l-7.0,-4.3v-8.6zM1801.8,1112.8l7.0,4.3v8.6l-7.0,4.3l-7.0,-4.3v-8.6zM1812.8,1108.7l7.0,4.3v8.6l-7.0,4.3l-7.0,-4.3v-8.6zM1823.7,1104.8l7.0,4.3v8.6l-7.0,4.3l-7.0,-4.3v-8.6zM1834.6,1100.8l7.0,4.3v8.6l-7.0,4.3l-7.0,-4.3v-8.6zM1845.5,1097.0l7.0,4.3v8.6l-7.0,4.3l-7.0,-4.3v-8.6zM1856.4,1093.2l7.0,4.3v8.6l-7.0,4.3l-7.0,-4.3v-8.6zM1867.3,1089.6l7.0,4.3v8.6l-7.0,4.3l-7.0,-4.3v-8.6zM1878.2,1086.1l7.0,4.3v8.6l-7.0,4.3l-7.0,-4.3v-8.6zM1889.1,1082.7l7.0,4.3v8.6l-7.0,4.3l-7.0,-4.3v-8.6zM1900.0,1079.4l7.0,4.3v8.6l-7.0,4.3l-7.0,-4.3v-8.6z" fill="#520620" stroke="#3f0418" stroke-width="0.9"/>
<polyline points="1354.7,1394.6 1365.6,1381.9 1376.5,1368.0 1387.4,1353.4 1398.3,1339.3 1409.2,1326.2 1420.1,1312.8 1431.0,1300.3 1441.9,1288.0 1452.9,1278.0 1463.8,1268.6 1474.7,1259.9 1485.6,1251.5 1496.5,1242.4 1507.4,1232.4 1518.3,1222.9 1529.2,1214.8 1540.1,1207.8 1551.0,1201.7 1561.9,1196.8 1572.8,1192.9 1583.7,1189.0 1594.6,1184.2 1605.5,1178.7 1616.4,1172.8 1627.4,1166.6 1638.3,1159.5 1649.2,1152.9 1660.1,1146.6 1671.0,1140.5 1681.9,1134.7 1692.8,1129.0 1703.7,1123.4 1714.6,1118.0 1725.5,1112.6 1736.4,1107.5 1747.3,1102.5 1758.2,1097.9 1769.1,1093.6 1780.0,1089.4 1790.9,1085.4 1801.8,1081.6 1812.8,1077.9 1823.7,1074.2 1834.6,1070.6 1845.5,1067.1 1856.4,1063.7 1867.3,1060.3 1878.2,1057.0 1889.1,1053.8 1900.0,1050.7" fill="none" stroke="#9e0a43" stroke-width="3.3"/><path d="M1354.7,1386.0l7.0,4.3v8.6l-7.0,4.3l-7.0,-4.3v-8.6zM1365.6,1373.3l7.0,4.3v8.6l-7.0,4.3l-7.0,-4.3v-8.6zM1376.5,1359.4l7.0,4.3v8.6l-7.0,4.3l-7.0,-4.3v-8.6zM1387.4,1344.8l7.0,4.3v8.6l-7.0,4.3l-7.0,-4.3v-8.6zM1398.3,1330.7l7.0,4.3v8.6l-7.0,4.3l-7.0,-4.3v-8.6zM1409.2,1317.6l7.0,4.3v8.6l-7.0,4.3l-7.0,-4.3v-8.6zM1420.1,1304.2l7.0,4.3v8.6l-7.0,4.3l-7.0,-4.3v-8.6zM1431.0,1291.7l7.0,4.3v8.6l-7.0,4.3l-7.0,-4.3v-8.6zM1441.9,1279.4l7.0,4.3v8.6l-7.0,4.3l-7.0,-4.3v-8.6zM1452.9,1269.4l7.0,4.3v8.6l-7.0,4.3l-7.0,-4.3v-8.6zM1463.8,1260.0l7.0,4.3v8.6l-7.0,4.3l-7.0,-4.3v-8.6zM1474.7,1251.3l7.0,4.3v8.6l-7.0,4.3l-7.0,-4.3v-8.6zM1485.6,1242.9l7.0,4.3v8.6l-7.0,4.3l-7.0,-4.3v-8.6zM1496.5,1233.8l7.0,4.3v8.6l-7.0,4.3l-7.0,-4.3v-8.6zM1507.4,1223.8l7.0,4.3v8.6l-7.0,4.3l-7.0,-4.3v-8.6zM1518.3,1214.3l7.0,4.3v8.6l-7.0,4.3l-7.0,-4.3v-8.6zM1529.2,1206.2l7.0,4.3v8.6l-7.0,4.3l-7.0,-4.3v-8.6zM1540.1,1199.2l7.0,4.3v8.6l-7.0,4.3l-7.0,-4.3v-8.6zM1551.0,1193.1l7.0,4.3v8.6l-7.0,4.3l-7.0,-4.3v-8.6zM1561.9,1188.2l7.0,4.3v8.6l-7.0,4.3l-7.0,-4.3v-8.6zM1572.8,1184.3l7.0,4.3v8.6l-7.0,4.3l-7.0,-4.3v-8.6zM1583.7,1180.4l7.0,4.3v8.6l-7.0,4.3l-7.0,-4.3v-8.6zM1594.6,1175.6l7.0,4.3v8.6l-7.0,4.3l-7.0,-4.3v-8.6zM1605.5,1170.1l7.0,4.3v8.6l-7.0,4.3l-7.0,-4.3v-8.6zM1616.4,1164.2l7.0,4.3v8.6l-7.0,4.3l-7.0,-4.3v-8.6zM1627.4,1158.0l7.0,4.3v8.6l-7.0,4.3l-7.0,-4.3v-8.6zM1638.3,1150.9l7.0,4.3v8.6l-7.0,4.3l-7.0,-4.3v-8.6zM1649.2,1144.3l7.0,4.3v8.6l-7.0,4.3l-7.0,-4.3v-8.6zM1660.1,1138.0l7.0,4.3v8.6l-7.0,4.3l-7.0,-4.3v-8.6zM1671.0,1131.9l7.0,4.3v8.6l-7.0,4.3l-7.0,-4.3v-8.6zM1681.9,1126.1l7.0,4.3v8.6l-7.0,4.3l-7.0,-4.3v-8.6zM1692.8,1120.4l7.0,4.3v8.6l-7.0,4.3l-7.0,-4.3v-8.6zM1703.7,1114.8l7.0,4.3v8.6l-7.0,4.3l-7.0,-4.3v-8.6zM1714.6,1109.4l7.0,4.3v8.6l-7.0,4.3l-7.0,-4.3v-8.6zM1725.5,1104.0l7.0,4.3v8.6l-7.0,4.3l-7.0,-4.3v-8.6zM1736.4,1098.9l7.0,4.3v8.6l-7.0,4.3l-7.0,-4.3v-8.6zM1747.3,1093.9l7.0,4.3v8.6l-7.0,4.3l-7.0,-4.3v-8.6zM1758.2,1089.3l7.0,4.3v8.6l-7.0,4.3l-7.0,-4.3v-8.6zM1769.1,1085.0l7.0,4.3v8.6l-7.0,4.3l-7.0,-4.3v-8.6zM1780.0,1080.8l7.0,4.3v8.6l-7.0,4.3l-7.0,-4.3v-8.6zM1790.9,1076.8l7.0,4.3v8.6l-7.0,4.3l-7.0,-4.3v-8.6zM1801.8,1073.0l7.0,4.3v8.6l-7.0,4.3l-7.0,-4.3v-8.6zM1812.8,1069.3l7.0,4.3v8.6l-7.0,4.3l-7.0,-4.3v-8.6zM1823.7,1065.6l7.0,4.3v8.6l-7.0,4.3l-7.0,-4.3v-8.6zM1834.6,1062.0l7.0,4.3v8.6l-7.0,4.3l-7.0,-4.3v-8.6zM1845.5,1058.5l7.0,4.3v8.6l-7.0,4.3l-7.0,-4.3v-8.6zM1856.4,1055.1l7.0,4.3v8.6l-7.0,4.3l-7.0,-4.3v-8.6zM1867.3,1051.7l7.0,4.3v8.6l-7.0,4.3l-7.0,-4.3v-8.6zM1878.2,1048.4l7.0,4.3v8.6l-7.0,4.3l-7.0,-4.3v-8.6zM1889.1,1045.2l7.0,4.3v8.6l-7.0,4.3l-7.0,-4.3v-8.6zM1900.0,1042.1l7.0,4.3v8.6l-7.0,4.3l-7.0,-4.3v-8.6z" fill="#9e0a43" stroke="#7b0734" stroke-width="0.9"/>
<polyline points="1354.7,1310.0 1365.6,1295.1 1376.5,1282.4 1387.4,1271.3 1398.3,1261.6 1409.2,1253.3 1420.1,1245.6 1431.0,1238.9 1441.9,1232.0 1452.9,1225.4 1463.8,1218.1 1474.7,1210.8 1485.6,1203.6 1496.5,1196.3 1507.4,1189.1 1518.3,1181.8 1529.2,1174.6 1540.1,1167.3 1551.0,1160.1 1561.9,1153.4 1572.8,1147.7 1583.7,1142.6 1594.6,1137.7 1605.5,1131.8 1616.4,1125.0 1627.4,1119.3 1638.3,1114.3 1649.2,1109.4 1660.1,1104.5 1671.0,1099.7 1681.9,1095.0 1692.8,1090.5 1703.7,1086.0 1714.6,1081.6 1725.5,1077.4 1736.4,1073.3 1747.3,1069.5 1758.2,1065.9 1769.1,1062.7 1780.0,1059.8 1790.9,1057.0 1801.8,1054.3 1812.8,1051.6 1823.7,1048.9 1834.6,1046.2 1845.5,1043.4 1856.4,1040.7 1867.3,1038.0 1878.2,1035.3 1889.1,1032.7 1900.0,1030.0" fill="none" stroke="#d6334f" stroke-width="3.3"/><path d="M1354.7,1301.4l7.0,4.3v8.6l-7.0,4.3l-7.0,-4.3v-8.6zM1365.6,1286.5l7.0,4.3v8.6l-7.0,4.3l-7.0,-4.3v-8.6zM1376.5,1273.8l7.0,4.3v8.6l-7.0,4.3l-7.0,-4.3v-8.6zM1387.4,1262.7l7.0,4.3v8.6l-7.0,4.3l-7.0,-4.3v-8.6zM1398.3,1253.0l7.0,4.3v8.6l-7.0,4.3l-7.0,-4.3v-8.6zM1409.2,1244.7l7.0,4.3v8.6l-7.0,4.3l-7.0,-4.3v-8.6zM1420.1,1237.0l7.0,4.3v8.6l-7.0,4.3l-7.0,-4.3v-8.6zM1431.0,1230.3l7.0,4.3v8.6l-7.0,4.3l-7.0,-4.3v-8.6zM1441.9,1223.4l7.0,4.3v8.6l-7.0,4.3l-7.0,-4.3v-8.6zM1452.9,1216.8l7.0,4.3v8.6l-7.0,4.3l-7.0,-4.3v-8.6zM1463.8,1209.5l7.0,4.3v8.6l-7.0,4.3l-7.0,-4.3v-8.6zM1474.7,1202.2l7.0,4.3v8.6l-7.0,4.3l-7.0,-4.3v-8.6zM1485.6,1195.0l7.0,4.3v8.6l-7.0,4.3l-7.0,-4.3v-8.6zM1496.5,1187.7l7.0,4.3v8.6l-7.0,4.3l-7.0,-4.3v-8.6zM1507.4,1180.5l7.0,4.3v8.6l-7.0,4.3l-7.0,-4.3v-8.6zM1518.3,1173.2l7.0,4.3v8.6l-7.0,4.3l-7.0,-4.3v-8.6zM1529.2,1166.0l7.0,4.3v8.6l-7.0,4.3l-7.0,-4.3v-8.6zM1540.1,1158.7l7.0,4.3v8.6l-7.0,4.3l-7.0,-4.3v-8.6zM1551.0,1151.5l7.0,4.3v8.6l-7.0,4.3l-7.0,-4.3v-8.6zM1561.9,1144.8l7.0,4.3v8.6l-7.0,4.3l-7.0,-4.3v-8.6zM1572.8,1139.1l7.0,4.3v8.6l-7.0,4.3l-7.0,-4.3v-8.6zM1583.7,1134.0l7.0,4.3v8.6l-7.0,4.3l-7.0,-4.3v-8.6zM1594.6,1129.1l7.0,4.3v8.6l-7.0,4.3l-7.0,-4.3v-8.6zM1605.5,1123.2l7.0,4.3v8.6l-7.0,4.3l-7.0,-4.3v-8.6zM1616.4,1116.4l7.0,4.3v8.6l-7.0,4.3l-7.0,-4.3v-8.6zM1627.4,1110.7l7.0,4.3v8.6l-7.0,4.3l-7.0,-4.3v-8.6zM1638.3,1105.7l7.0,4.3v8.6l-7.0,4.3l-7.0,-4.3v-8.6zM1649.2,1100.8l7.0,4.3v8.6l-7.0,4.3l-7.0,-4.3v-8.6zM1660.1,1095.9l7.0,4.3v8.6l-7.0,4.3l-7.0,-4.3v-8.6zM1671.0,1091.1l7.0,4.3v8.6l-7.0,4.3l-7.0,-4.3v-8.6zM1681.9,1086.4l7.0,4.3v8.6l-7.0,4.3l-7.0,-4.3v-8.6zM1692.8,1081.9l7.0,4.3v8.6l-7.0,4.3l-7.0,-4.3v-8.6zM1703.7,1077.4l7.0,4.3v8.6l-7.0,4.3l-7.0,-4.3v-8.6zM1714.6,1073.0l7.0,4.3v8.6l-7.0,4.3l-7.0,-4.3v-8.6zM1725.5,1068.8l7.0,4.3v8.6l-7.0,4.3l-7.0,-4.3v-8.6zM1736.4,1064.7l7.0,4.3v8.6l-7.0,4.3l-7.0,-4.3v-8.6zM1747.3,1060.9l7.0,4.3v8.6l-7.0,4.3l-7.0,-4.3v-8.6zM1758.2,1057.3l7.0,4.3v8.6l-7.0,4.3l-7.0,-4.3v-8.6zM1769.1,1054.1l7.0,4.3v8.6l-7.0,4.3l-7.0,-4.3v-8.6zM1780.0,1051.2l7.0,4.3v8.6l-7.0,4.3l-7.0,-4.3v-8.6zM1790.9,1048.4l7.0,4.3v8.6l-7.0,4.3l-7.0,-4.3v-8.6zM1801.8,1045.7l7.0,4.3v8.6l-7.0,4.3l-7.0,-4.3v-8.6zM1812.8,1043.0l7.0,4.3v8.6l-7.0,4.3l-7.0,-4.3v-8.6zM1823.7,1040.3l7.0,4.3v8.6l-7.0,4.3l-7.0,-4.3v-8.6zM1834.6,1037.6l7.0,4.3v8.6l-7.0,4.3l-7.0,-4.3v-8.6zM1845.5,1034.8l7.0,4.3v8.6l-7.0,4.3l-7.0,-4.3v-8.6zM1856.4,1032.1l7.0,4.3v8.6l-7.0,4.3l-7.0,-4.3v-8.6zM1867.3,1029.4l7.0,4.3v8.6l-7.0,4.3l-7.0,-4.3v-8.6zM1878.2,1026.7l7.0,4.3v8.6l-7.0,4.3l-7.0,-4.3v-8.6zM1889.1,1024.1l7.0,4.3v8.6l-7.0,4.3l-7.0,-4.3v-8.6zM1900.0,1021.4l7.0,4.3v8.6l-7.0,4.3l-7.0,-4.3v-8.6z" fill="#d6334f" stroke="#a6273d" stroke-width="0.9"/>
<polyline points="1354.7,1245.0 1365.6,1234.9 1376.5,1226.7 1387.4,1220.0 1398.3,1214.0 1409.2,1208.3 1420.1,1202.8 1431.0,1197.3 1441.9,1191.4 1452.9,1185.4 1463.8,1179.3 1474.7,1173.3 1485.6,1167.5 1496.5,1161.8 1507.4,1156.3 1518.3,1150.9 1529.2,1145.4 1540.1,1139.9 1551.0,1134.2 1561.9,1128.4 1572.8,1122.8 1583.7,1117.6 1594.6,1112.7 1605.5,1108.1 1616.4,1103.7 1627.4,1099.4 1638.3,1095.3 1649.2,1091.3 1660.1,1087.5 1671.0,1083.9 1681.9,1080.3 1692.8,1076.8 1703.7,1073.4 1714.6,1070.0 1725.5,1066.7 1736.4,1063.5 1747.3,1060.1 1758.2,1056.7 1769.1,1053.2 1780.0,1049.6 1790.9,1045.9 1801.8,1042.2 1812.8,1038.6 1823.7,1035.1 1834.6,1031.8 1845.5,1028.6 1856.4,1025.5 1867.3,1022.4 1878.2,1019.4 1889.1,1016.4 1900.0,1013.6" fill="none" stroke="#f26841" stroke-width="3.3"/><path d="M1354.7,1236.4l7.0,4.3v8.6l-7.0,4.3l-7.0,-4.3v-8.6zM1365.6,1226.3l7.0,4.3v8.6l-7.0,4.3l-7.0,-4.3v-8.6zM1376.5,1218.1l7.0,4.3v8.6l-7.0,4.3l-7.0,-4.3v-8.6zM1387.4,1211.4l7.0,4.3v8.6l-7.0,4.3l-7.0,-4.3v-8.6zM1398.3,1205.4l7.0,4.3v8.6l-7.0,4.3l-7.0,-4.3v-8.6zM1409.2,1199.7l7.0,4.3v8.6l-7.0,4.3l-7.0,-4.3v-8.6zM1420.1,1194.2l7.0,4.3v8.6l-7.0,4.3l-7.0,-4.3v-8.6zM1431.0,1188.7l7.0,4.3v8.6l-7.0,4.3l-7.0,-4.3v-8.6zM1441.9,1182.8l7.0,4.3v8.6l-7.0,4.3l-7.0,-4.3v-8.6zM1452.9,1176.8l7.0,4.3v8.6l-7.0,4.3l-7.0,-4.3v-8.6zM1463.8,1170.7l7.0,4.3v8.6l-7.0,4.3l-7.0,-4.3v-8.6zM1474.7,1164.7l7.0,4.3v8.6l-7.0,4.3l-7.0,-4.3v-8.6zM1485.6,1158.9l7.0,4.3v8.6l-7.0,4.3l-7.0,-4.3v-8.6zM1496.5,1153.2l7.0,4.3v8.6l-7.0,4.3l-7.0,-4.3v-8.6zM1507.4,1147.7l7.0,4.3v8.6l-7.0,4.3l-7.0,-4.3v-8.6zM1518.3,1142.3l7.0,4.3v8.6l-7.0,4.3l-7.0,-4.3v-8.6zM1529.2,1136.8l7.0,4.3v8.6l-7.0,4.3l-7.0,-4.3v-8.6zM1540.1,1131.3l7.0,4.3v8.6l-7.0,4.3l-7.0,-4.3v-8.6zM1551.0,1125.6l7.0,4.3v8.6l-7.0,4.3l-7.0,-4.3v-8.6zM1561.9,1119.8l7.0,4.3v8.6l-7.0,4.3l-7.0,-4.3v-8.6zM1572.8,1114.2l7.0,4.3v8.6l-7.0,4.3l-7.0,-4.3v-8.6zM1583.7,1109.0l7.0,4.3v8.6l-7.0,4.3l-7.0,-4.3v-8.6zM1594.6,1104.1l7.0,4.3v8.6l-7.0,4.3l-7.0,-4.3v-8.6zM1605.5,1099.5l7.0,4.3v8.6l-7.0,4.3l-7.0,-4.3v-8.6zM1616.4,1095.1l7.0,4.3v8.6l-7.0,4.3l-7.0,-4.3v-8.6zM1627.4,1090.8l7.0,4.3v8.6l-7.0,4.3l-7.0,-4.3v-8.6zM1638.3,1086.7l7.0,4.3v8.6l-7.0,4.3l-7.0,-4.3v-8.6zM1649.2,1082.7l7.0,4.3v8.6l-7.0,4.3l-7.0,-4.3v-8.6zM1660.1,1078.9l7.0,4.3v8.6l-7.0,4.3l-7.0,-4.3v-8.6zM1671.0,1075.3l7.0,4.3v8.6l-7.0,4.3l-7.0,-4.3v-8.6zM1681.9,1071.7l7.0,4.3v8.6l-7.0,4.3l-7.0,-4.3v-8.6zM1692.8,1068.2l7.0,4.3v8.6l-7.0,4.3l-7.0,-4.3v-8.6zM1703.7,1064.8l7.0,4.3v8.6l-7.0,4.3l-7.0,-4.3v-8.6zM1714.6,1061.4l7.0,4.3v8.6l-7.0,4.3l-7.0,-4.3v-8.6zM1725.5,1058.1l7.0,4.3v8.6l-7.0,4.3l-7.0,-4.3v-8.6zM1736.4,1054.9l7.0,4.3v8.6l-7.0,4.3l-7.0,-4.3v-8.6zM1747.3,1051.5l7.0,4.3v8.6l-7.0,4.3l-7.0,-4.3v-8.6zM1758.2,1048.1l7.0,4.3v8.6l-7.0,4.3l-7.0,-4.3v-8.6zM1769.1,1044.6l7.0,4.3v8.6l-7.0,4.3l-7.0,-4.3v-8.6zM1780.0,1041.0l7.0,4.3v8.6l-7.0,4.3l-7.0,-4.3v-8.6zM1790.9,1037.3l7.0,4.3v8.6l-7.0,4.3l-7.0,-4.3v-8.6zM1801.8,1033.6l7.0,4.3v8.6l-7.0,4.3l-7.0,-4.3v-8.6zM1812.8,1030.0l7.0,4.3v8.6l-7.0,4.3l-7.0,-4.3v-8.6zM1823.7,1026.5l7.0,4.3v8.6l-7.0,4.3l-7.0,-4.3v-8.6zM1834.6,1023.2l7.0,4.3v8.6l-7.0,4.3l-7.0,-4.3v-8.6zM1845.5,1020.0l7.0,4.3v8.6l-7.0,4.3l-7.0,-4.3v-8.6zM1856.4,1016.9l7.0,4.3v8.6l-7.0,4.3l-7.0,-4.3v-8.6zM1867.3,1013.8l7.0,4.3v8.6l-7.0,4.3l-7.0,-4.3v-8.6zM1878.2,1010.8l7.0,4.3v8.6l-7.0,4.3l-7.0,-4.3v-8.6zM1889.1,1007.8l7.0,4.3v8.6l-7.0,4.3l-7.0,-4.3v-8.6zM1900.0,1005.0l7.0,4.3v8.6l-7.0,4.3l-7.0,-4.3v-8.6z" fill="#f26841" stroke="#bc5132" stroke-width="0.9"/>
<polyline points="1354.7,1180.0 1365.6,1175.9 1376.5,1171.7 1387.4,1167.5 1398.3,1163.2 1409.2,1158.7 1420.1,1154.3 1431.0,1149.7 1441.9,1145.0 1452.9,1140.2 1463.8,1135.4 1474.7,1130.5 1485.6,1125.6 1496.5,1120.7 1507.4,1115.6 1518.3,1110.4 1529.2,1105.2 1540.1,1100.0 1551.0,1095.0 1561.9,1090.1 1572.8,1085.3 1583.7,1080.4 1594.6,1075.7 1605.5,1071.3 1616.4,1067.2 1627.4,1063.6 1638.3,1060.4 1649.2,1057.4 1660.1,1054.5 1671.0,1051.7 1681.9,1048.9 1692.8,1046.0 1703.7,1043.1 1714.6,1040.2 1725.5,1037.3 1736.4,1034.4 1747.3,1031.7 1758.2,1028.9 1769.1,1026.3 1780.0,1023.6 1790.9,1021.0 1801.8,1018.5 1812.8,1016.0 1823.7,1013.7 1834.6,1011.6 1845.5,1009.5 1856.4,1007.6 1867.3,1005.7 1878.2,1003.9 1889.1,1002.2 1900.0,1000.6" fill="none" stroke="#fb9a55" stroke-width="3.3"/><path d="M1354.7,1171.4l7.0,4.3v8.6l-7.0,4.3l-7.0,-4.3v-8.6zM1365.6,1167.3l7.0,4.3v8.6l-7.0,4.3l-7.0,-4.3v-8.6zM1376.5,1163.1l7.0,4.3v8.6l-7.0,4.3l-7.0,-4.3v-8.6zM1387.4,1158.9l7.0,4.3v8.6l-7.0,4.3l-7.0,-4.3v-8.6zM1398.3,1154.6l7.0,4.3v8.6l-7.0,4.3l-7.0,-4.3v-8.6zM1409.2,1150.1l7.0,4.3v8.6l-7.0,4.3l-7.0,-4.3v-8.6zM1420.1,1145.7l7.0,4.3v8.6l-7.0,4.3l-7.0,-4.3v-8.6zM1431.0,1141.1l7.0,4.3v8.6l-7.0,4.3l-7.0,-4.3v-8.6zM1441.9,1136.4l7.0,4.3v8.6l-7.0,4.3l-7.0,-4.3v-8.6zM1452.9,1131.6l7.0,4.3v8.6l-7.0,4.3l-7.0,-4.3v-8.6zM1463.8,1126.8l7.0,4.3v8.6l-7.0,4.3l-7.0,-4.3v-8.6zM1474.7,1121.9l7.0,4.3v8.6l-7.0,4.3l-7.0,-4.3v-8.6zM1485.6,1117.0l7.0,4.3v8.6l-7.0,4.3l-7.0,-4.3v-8.6zM1496.5,1112.1l7.0,4.3v8.6l-7.0,4.3l-7.0,-4.3v-8.6zM1507.4,1107.0l7.0,4.3v8.6l-7.0,4.3l-7.0,-4.3v-8.6zM1518.3,1101.8l7.0,4.3v8.6l-7.0,4.3l-7.0,-4.3v-8.6zM1529.2,1096.6l7.0,4.3v8.6l-7.0,4.3l-7.0,-4.3v-8.6zM1540.1,1091.4l7.0,4.3v8.6l-7.0,4.3l-7.0,-4.3v-8.6zM1551.0,1086.4l7.0,4.3v8.6l-7.0,4.3l-7.0,-4.3v-8.6zM1561.9,1081.5l7.0,4.3v8.6l-7.0,4.3l-7.0,-4.3v-8.6zM1572.8,1076.7l7.0,4.3v8.6l-7.0,4.3l-7.0,-4.3v-8.6zM1583.7,1071.8l7.0,4.3v8.6l-7.0,4.3l-7.0,-4.3v-8.6zM1594.6,1067.1l7.0,4.3v8.6l-7.0,4.3l-7.0,-4.3v-8.6zM1605.5,1062.7l7.0,4.3v8.6l-7.0,4.3l-7.0,-4.3v-8.6zM1616.4,1058.6l7.0,4.3v8.6l-7.0,4.3l-7.0,-4.3v-8.6zM1627.4,1055.0l7.0,4.3v8.6l-7.0,4.3l-7.0,-4.3v-8.6zM1638.3,1051.8l7.0,4.3v8.6l-7.0,4.3l-7.0,-4.3v-8.6zM1649.2,1048.8l7.0,4.3v8.6l-7.0,4.3l-7.0,-4.3v-8.6zM1660.1,1045.9l7.0,4.3v8.6l-7.0,4.3l-7.0,-4.3v-8.6zM1671.0,1043.1l7.0,4.3v8.6l-7.0,4.3l-7.0,-4.3v-8.6zM1681.9,1040.3l7.0,4.3v8.6l-7.0,4.3l-7.0,-4.3v-8.6zM1692.8,1037.4l7.0,4.3v8.6l-7.0,4.3l-7.0,-4.3v-8.6zM1703.7,1034.5l7.0,4.3v8.6l-7.0,4.3l-7.0,-4.3v-8.6zM1714.6,1031.6l7.0,4.3v8.6l-7.0,4.3l-7.0,-4.3v-8.6zM1725.5,1028.7l7.0,4.3v8.6l-7.0,4.3l-7.0,-4.3v-8.6zM1736.4,1025.8l7.0,4.3v8.6l-7.0,4.3l-7.0,-4.3v-8.6zM1747.3,1023.1l7.0,4.3v8.6l-7.0,4.3l-7.0,-4.3v-8.6zM1758.2,1020.3l7.0,4.3v8.6l-7.0,4.3l-7.0,-4.3v-8.6zM1769.1,1017.7l7.0,4.3v8.6l-7.0,4.3l-7.0,-4.3v-8.6zM1780.0,1015.0l7.0,4.3v8.6l-7.0,4.3l-7.0,-4.3v-8.6zM1790.9,1012.4l7.0,4.3v8.6l-7.0,4.3l-7.0,-4.3v-8.6zM1801.8,1009.9l7.0,4.3v8.6l-7.0,4.3l-7.0,-4.3v-8.6zM1812.8,1007.4l7.0,4.3v8.6l-7.0,4.3l-7.0,-4.3v-8.6zM1823.7,1005.1l7.0,4.3v8.6l-7.0,4.3l-7.0,-4.3v-8.6zM1834.6,1003.0l7.0,4.3v8.6l-7.0,4.3l-7.0,-4.3v-8.6zM1845.5,1000.9l7.0,4.3v8.6l-7.0,4.3l-7.0,-4.3v-8.6zM1856.4,999.0l7.0,4.3v8.6l-7.0,4.3l-7.0,-4.3v-8.6zM1867.3,997.1l7.0,4.3v8.6l-7.0,4.3l-7.0,-4.3v-8.6zM1878.2,995.3l7.0,4.3v8.6l-7.0,4.3l-7.0,-4.3v-8.6zM1889.1,993.6l7.0,4.3v8.6l-7.0,4.3l-7.0,-4.3v-8.6zM1900.0,992.0l7.0,4.3v8.6l-7.0,4.3l-7.0,-4.3v-8.6z" fill="#fb9a55" stroke="#c37842" stroke-width="0.9"/>
<g stroke="#000" stroke-width="2" fill="none">
<line x1="1218.0" y1="1736.0" x2="1218.0" y2="2393.7"/>
<line x1="1217.0" y1="2392.7" x2="2035.0" y2="2392.7"/>
<line x1="1205.5" y1="1737.0" x2="1218.0" y2="1737.0"/>
<line x1="1211.5" y1="1802.5" x2="1218.0" y2="1802.5"/>
<line x1="1211.5" y1="1786.0" x2="1218.0" y2="1786.0"/>
<line x1="1211.5" y1="1774.3" x2="1218.0" y2="1774.3"/>
<line x1="1211.5" y1="1765.2" x2="1218.0" y2="1765.2"/>
<line x1="1211.5" y1="1757.8" x2="1218.0" y2="1757.8"/>
<line x1="1211.5" y1="1751.5" x2="1218.0" y2="1751.5"/>
<line x1="1211.5" y1="1746.1" x2="1218.0" y2="1746.1"/>
<line x1="1211.5" y1="1741.3" x2="1218.0" y2="1741.3"/>
<line x1="1205.5" y1="1830.7" x2="1218.0" y2="1830.7"/>
<line x1="1211.5" y1="1896.1" x2="1218.0" y2="1896.1"/>
<line x1="1211.5" y1="1879.7" x2="1218.0" y2="1879.7"/>
<line x1="1211.5" y1="1867.9" x2="1218.0" y2="1867.9"/>
<line x1="1211.5" y1="1858.9" x2="1218.0" y2="1858.9"/>
<line x1="1211.5" y1="1851.5" x2="1218.0" y2="1851.5"/>
<line x1="1211.5" y1="1845.2" x2="1218.0" y2="1845.2"/>
<line x1="1211.5" y1="1839.7" x2="1218.0" y2="1839.7"/>
<line x1="1211.5" y1="1835.0" x2="1218.0" y2="1835.0"/>
<line x1="1205.5" y1="1924.3" x2="1218.0" y2="1924.3"/>
<line x1="1211.5" y1="1989.8" x2="1218.0" y2="1989.8"/>
<line x1="1211.5" y1="1973.3" x2="1218.0" y2="1973.3"/>
<line x1="1211.5" y1="1961.6" x2="1218.0" y2="1961.6"/>
<line x1="1211.5" y1="1952.5" x2="1218.0" y2="1952.5"/>
<line x1="1211.5" y1="1945.1" x2="1218.0" y2="1945.1"/>
<line x1="1211.5" y1="1938.9" x2="1218.0" y2="1938.9"/>
<line x1="1211.5" y1="1933.4" x2="1218.0" y2="1933.4"/>
<line x1="1211.5" y1="1928.6" x2="1218.0" y2="1928.6"/>
<line x1="1205.5" y1="2018.0" x2="1218.0" y2="2018.0"/>
<line x1="1211.5" y1="2083.5" x2="1218.0" y2="2083.5"/>
<line x1="1211.5" y1="2067.0" x2="1218.0" y2="2067.0"/>
<line x1="1211.5" y1="2055.3" x2="1218.0" y2="2055.3"/>
<line x1="1211.5" y1="2046.2" x2="1218.0" y2="2046.2"/>
<line x1="1211.5" y1="2038.8" x2="1218.0" y2="2038.8"/>
<line x1="1211.5" y1="2032.5" x2="1218.0" y2="2032.5"/>
<line x1="1211.5" y1="2027.1" x2="1218.0" y2="2027.1"/>
<line x1="1211.5" y1="2022.3" x2="1218.0" y2="2022.3"/>
<line x1="1205.5" y1="2111.7" x2="1218.0" y2="2111.7"/>
<line x1="1211.5" y1="2177.2" x2="1218.0" y2="2177.2"/>
<line x1="1211.5" y1="2160.7" x2="1218.0" y2="2160.7"/>
<line x1="1211.5" y1="2149.0" x2="1218.0" y2="2149.0"/>
<line x1="1211.5" y1="2139.9" x2="1218.0" y2="2139.9"/>
<line x1="1211.5" y1="2132.5" x2="1218.0" y2="2132.5"/>
<line x1="1211.5" y1="2126.2" x2="1218.0" y2="2126.2"/>
<line x1="1211.5" y1="2120.8" x2="1218.0" y2="2120.8"/>
<line x1="1211.5" y1="2116.0" x2="1218.0" y2="2116.0"/>
<line x1="1205.5" y1="2205.4" x2="1218.0" y2="2205.4"/>
<line x1="1211.5" y1="2270.8" x2="1218.0" y2="2270.8"/>
<line x1="1211.5" y1="2254.3" x2="1218.0" y2="2254.3"/>
<line x1="1211.5" y1="2242.6" x2="1218.0" y2="2242.6"/>
<line x1="1211.5" y1="2233.6" x2="1218.0" y2="2233.6"/>
<line x1="1211.5" y1="2226.1" x2="1218.0" y2="2226.1"/>
<line x1="1211.5" y1="2219.9" x2="1218.0" y2="2219.9"/>
<line x1="1211.5" y1="2214.4" x2="1218.0" y2="2214.4"/>
<line x1="1211.5" y1="2209.6" x2="1218.0" y2="2209.6"/>
<line x1="1205.5" y1="2299.0" x2="1218.0" y2="2299.0"/>
<line x1="1211.5" y1="2364.5" x2="1218.0" y2="2364.5"/>
<line x1="1211.5" y1="2348.0" x2="1218.0" y2="2348.0"/>
<line x1="1211.5" y1="2336.3" x2="1218.0" y2="2336.3"/>
<line x1="1211.5" y1="2327.2" x2="1218.0" y2="2327.2"/>
<line x1="1211.5" y1="2319.8" x2="1218.0" y2="2319.8"/>
<line x1="1211.5" y1="2313.5" x2="1218.0" y2="2313.5"/>
<line x1="1211.5" y1="2308.1" x2="1218.0" y2="2308.1"/>
<line x1="1211.5" y1="2303.3" x2="1218.0" y2="2303.3"/>
<line x1="1205.5" y1="2392.7" x2="1218.0" y2="2392.7"/>
<line x1="1218.0" y1="2392.7" x2="1218.0" y2="2405.2"/>
<line x1="1286.0" y1="2392.7" x2="1286.0" y2="2399.2"/>
<line x1="1354.0" y1="2392.7" x2="1354.0" y2="2405.2"/>
<line x1="1422.0" y1="2392.7" x2="1422.0" y2="2399.2"/>
<line x1="1490.0" y1="2392.7" x2="1490.0" y2="2405.2"/>
<line x1="1558.0" y1="2392.7" x2="1558.0" y2="2399.2"/>
<line x1="1626.0" y1="2392.7" x2="1626.0" y2="2405.2"/>
<line x1="1694.0" y1="2392.7" x2="1694.0" y2="2399.2"/>
<line x1="1762.0" y1="2392.7" x2="1762.0" y2="2405.2"/>
<line x1="1830.0" y1="2392.7" x2="1830.0" y2="2399.2"/>
<line x1="1898.0" y1="2392.7" x2="1898.0" y2="2405.2"/>
<line x1="1966.0" y1="2392.7" x2="1966.0" y2="2399.2"/>
<line x1="2034.0" y1="2392.7" x2="2034.0" y2="2405.2"/>
</g>
<g font-family="'Liberation Sans', Arial, sans-serif" font-size="36.8" fill="#000" stroke="#000" stroke-width="0.8">
<text x="1196.8" y="1747.9" text-anchor="end">1E-6</text>
<text x="1196.8" y="1841.6" text-anchor="end">1E-7</text>
<text x="1196.8" y="1935.2" text-anchor="end">1E-8</text>
<text x="1196.8" y="2028.9" text-anchor="end">1E-9</text>
<text x="1196.8" y="2122.6" text-anchor="end">1E-10</text>
<text x="1196.8" y="2216.3" text-anchor="end">1E-11</text>
<text x="1196.8" y="2309.9" text-anchor="end">1E-12</text>
<text x="1196.8" y="2403.6" text-anchor="end">1E-13</text>
<text x="1218.0" y="2443.9" text-anchor="middle">-3.0</text>
<text x="1354.0" y="2443.9" text-anchor="middle">-2.0</text>
<text x="1490.0" y="2443.9" text-anchor="middle">-1.0</text>
<text x="1626.0" y="2443.9" text-anchor="middle">0.0</text>
<text x="1762.0" y="2443.9" text-anchor="middle">1.0</text>
<text x="1898.0" y="2443.9" text-anchor="middle">2.0</text>
<text x="2034.0" y="2443.9" text-anchor="middle">3.0</text>
</g>
<text font-family="'Liberation Sans', Arial, sans-serif" font-size="49.5" stroke="#000" stroke-width="0.9" x="1566.6" y="2502.1">V<tspan font-size="34.5" dy="13.8">Al</tspan><tspan dy="-13.8"> (V)</tspan></text>
<text font-family="'Liberation Sans', Arial, sans-serif" font-size="49.5" stroke="#000" stroke-width="0.9" transform="translate(1069.5,2134.4) rotate(-90)" x="0" y="0">I<tspan font-size="34.5" dy="13.8">DS</tspan><tspan dy="-13.8"> (A)</tspan></text>
<polyline points="1299.7,2205.0 1312.8,2198.1 1325.9,2192.7 1339.0,2188.6 1352.0,2184.6 1365.1,2180.5 1378.2,2177.4 1391.3,2175.0 1404.4,2172.8 1417.5,2170.3 1430.5,2168.3 1443.6,2167.1 1456.7,2166.2 1469.8,2165.5 1482.9,2164.8 1496.0,2164.0 1509.0,2163.1 1522.1,2162.1 1535.2,2161.2 1548.3,2160.5 1561.4,2160.0 1574.5,2159.7 1587.5,2159.5 1600.6,2159.4 1613.7,2159.2 1626.8,2159.0 1639.9,2158.8 1653.0,2158.6 1666.1,2158.3 1679.1,2158.1 1692.2,2157.9 1705.3,2157.6 1718.4,2157.4 1731.5,2157.1 1744.6,2156.9 1757.6,2156.6 1770.7,2156.3 1783.8,2156.0 1796.9,2155.8 1810.0,2155.5 1823.1,2155.2 1836.1,2154.9 1849.2,2154.6 1862.3,2154.2 1875.4,2153.9 1888.5,2153.6 1901.6,2153.2 1914.6,2152.9 1927.7,2152.5 1940.8,2152.2 1953.9,2151.8" fill="none" stroke="#520620" stroke-width="3.3"/><path d="M1299.7,2196.4l7.0,4.3v8.6l-7.0,4.3l-7.0,-4.3v-8.6zM1312.8,2189.5l7.0,4.3v8.6l-7.0,4.3l-7.0,-4.3v-8.6zM1325.9,2184.1l7.0,4.3v8.6l-7.0,4.3l-7.0,-4.3v-8.6zM1339.0,2180.0l7.0,4.3v8.6l-7.0,4.3l-7.0,-4.3v-8.6zM1352.0,2176.0l7.0,4.3v8.6l-7.0,4.3l-7.0,-4.3v-8.6zM1365.1,2171.9l7.0,4.3v8.6l-7.0,4.3l-7.0,-4.3v-8.6zM1378.2,2168.8l7.0,4.3v8.6l-7.0,4.3l-7.0,-4.3v-8.6zM1391.3,2166.4l7.0,4.3v8.6l-7.0,4.3l-7.0,-4.3v-8.6zM1404.4,2164.2l7.0,4.3v8.6l-7.0,4.3l-7.0,-4.3v-8.6zM1417.5,2161.7l7.0,4.3v8.6l-7.0,4.3l-7.0,-4.3v-8.6zM1430.5,2159.7l7.0,4.3v8.6l-7.0,4.3l-7.0,-4.3v-8.6zM1443.6,2158.5l7.0,4.3v8.6l-7.0,4.3l-7.0,-4.3v-8.6zM1456.7,2157.6l7.0,4.3v8.6l-7.0,4.3l-7.0,-4.3v-8.6zM1469.8,2156.9l7.0,4.3v8.6l-7.0,4.3l-7.0,-4.3v-8.6zM1482.9,2156.2l7.0,4.3v8.6l-7.0,4.3l-7.0,-4.3v-8.6zM1496.0,2155.4l7.0,4.3v8.6l-7.0,4.3l-7.0,-4.3v-8.6zM1509.0,2154.5l7.0,4.3v8.6l-7.0,4.3l-7.0,-4.3v-8.6zM1522.1,2153.5l7.0,4.3v8.6l-7.0,4.3l-7.0,-4.3v-8.6zM1535.2,2152.6l7.0,4.3v8.6l-7.0,4.3l-7.0,-4.3v-8.6zM1548.3,2151.9l7.0,4.3v8.6l-7.0,4.3l-7.0,-4.3v-8.6zM1561.4,2151.4l7.0,4.3v8.6l-7.0,4.3l-7.0,-4.3v-8.6zM1574.5,2151.1l7.0,4.3v8.6l-7.0,4.3l-7.0,-4.3v-8.6zM1587.5,2150.9l7.0,4.3v8.6l-7.0,4.3l-7.0,-4.3v-8.6zM1600.6,2150.8l7.0,4.3v8.6l-7.0,4.3l-7.0,-4.3v-8.6zM1613.7,2150.6l7.0,4.3v8.6l-7.0,4.3l-7.0,-4.3v-8.6zM1626.8,2150.4l7.0,4.3v8.6l-7.0,4.3l-7.0,-4.3v-8.6zM1639.9,2150.2l7.0,4.3v8.6l-7.0,4.3l-7.0,-4.3v-8.6zM1653.0,2150.0l7.0,4.3v8.6l-7.0,4.3l-7.0,-4.3v-8.6zM1666.1,2149.7l7.0,4.3v8.6l-7.0,4.3l-7.0,-4.3v-8.6zM1679.1,2149.5l7.0,4.3v8.6l-7.0,4.3l-7.0,-4.3v-8.6zM1692.2,2149.3l7.0,4.3v8.6l-7.0,4.3l-7.0,-4.3v-8.6zM1705.3,2149.0l7.0,4.3v8.6l-7.0,4.3l-7.0,-4.3v-8.6zM1718.4,2148.8l7.0,4.3v8.6l-7.0,4.3l-7.0,-4.3v-8.6zM1731.5,2148.5l7.0,4.3v8.6l-7.0,4.3l-7.0,-4.3v-8.6zM1744.6,2148.3l7.0,4.3v8.6l-7.0,4.3l-7.0,-4.3v-8.6zM1757.6,2148.0l7.0,4.3v8.6l-7.0,4.3l-7.0,-4.3v-8.6zM1770.7,2147.7l7.0,4.3v8.6l-7.0,4.3l-7.0,-4.3v-8.6zM1783.8,2147.4l7.0,4.3v8.6l-7.0,4.3l-7.0,-4.3v-8.6zM1796.9,2147.2l7.0,4.3v8.6l-7.0,4.3l-7.0,-4.3v-8.6zM1810.0,2146.9l7.0,4.3v8.6l-7.0,4.3l-7.0,-4.3v-8.6zM1823.1,2146.6l7.0,4.3v8.6l-7.0,4.3l-7.0,-4.3v-8.6zM1836.1,2146.3l7.0,4.3v8.6l-7.0,4.3l-7.0,-4.3v-8.6zM1849.2,2146.0l7.0,4.3v8.6l-7.0,4.3l-7.0,-4.3v-8.6zM1862.3,2145.6l7.0,4.3v8.6l-7.0,4.3l-7.0,-4.3v-8.6zM1875.4,2145.3l7.0,4.3v8.6l-7.0,4.3l-7.0,-4.3v-8.6zM1888.5,2145.0l7.0,4.3v8.6l-7.0,4.3l-7.0,-4.3v-8.6zM1901.6,2144.6l7.0,4.3v8.6l-7.0,4.3l-7.0,-4.3v-8.6zM1914.6,2144.3l7.0,4.3v8.6l-7.0,4.3l-7.0,-4.3v-8.6zM1927.7,2143.9l7.0,4.3v8.6l-7.0,4.3l-7.0,-4.3v-8.6zM1940.8,2143.6l7.0,4.3v8.6l-7.0,4.3l-7.0,-4.3v-8.6zM1953.9,2143.2l7.0,4.3v8.6l-7.0,4.3l-7.0,-4.3v-8.6z" fill="#520620" stroke="#3f0418" stroke-width="0.9"/>
<polyline points="1299.7,2140.1 1312.8,2134.8 1325.9,2129.3 1339.0,2125.0 1352.0,2121.3 1365.1,2117.3 1378.2,2113.8 1391.3,2110.6 1404.4,2107.1 1417.5,2102.2 1430.5,2097.5 1443.6,2094.2 1456.7,2091.4 1469.8,2089.3 1482.9,2087.5 1496.0,2086.0 1509.0,2084.6 1522.1,2083.2 1535.2,2082.0 1548.3,2080.9 1561.4,2080.0 1574.5,2079.2 1587.5,2078.5 1600.6,2077.9 1613.7,2077.4 1626.8,2077.0 1639.9,2076.7 1653.0,2076.5 1666.1,2076.2 1679.1,2076.0 1692.2,2075.8 1705.3,2075.6 1718.4,2075.4 1731.5,2075.3 1744.6,2075.2 1757.6,2075.1 1770.7,2075.0 1783.8,2075.0 1796.9,2075.0 1810.0,2075.0 1823.1,2075.1 1836.1,2075.1 1849.2,2075.2 1862.3,2075.3 1875.4,2075.4 1888.5,2075.5 1901.6,2075.7 1914.6,2075.8 1927.7,2076.0 1940.8,2076.3 1953.9,2076.5" fill="none" stroke="#9e0a43" stroke-width="3.3"/><path d="M1299.7,2131.5l7.0,4.3v8.6l-7.0,4.3l-7.0,-4.3v-8.6zM1312.8,2126.2l7.0,4.3v8.6l-7.0,4.3l-7.0,-4.3v-8.6zM1325.9,2120.7l7.0,4.3v8.6l-7.0,4.3l-7.0,-4.3v-8.6zM1339.0,2116.4l7.0,4.3v8.6l-7.0,4.3l-7.0,-4.3v-8.6zM1352.0,2112.7l7.0,4.3v8.6l-7.0,4.3l-7.0,-4.3v-8.6zM1365.1,2108.7l7.0,4.3v8.6l-7.0,4.3l-7.0,-4.3v-8.6zM1378.2,2105.2l7.0,4.3v8.6l-7.0,4.3l-7.0,-4.3v-8.6zM1391.3,2102.0l7.0,4.3v8.6l-7.0,4.3l-7.0,-4.3v-8.6zM1404.4,2098.5l7.0,4.3v8.6l-7.0,4.3l-7.0,-4.3v-8.6zM1417.5,2093.6l7.0,4.3v8.6l-7.0,4.3l-7.0,-4.3v-8.6zM1430.5,2088.9l7.0,4.3v8.6l-7.0,4.3l-7.0,-4.3v-8.6zM1443.6,2085.6l7.0,4.3v8.6l-7.0,4.3l-7.0,-4.3v-8.6zM1456.7,2082.8l7.0,4.3v8.6l-7.0,4.3l-7.0,-4.3v-8.6zM1469.8,2080.7l7.0,4.3v8.6l-7.0,4.3l-7.0,-4.3v-8.6zM1482.9,2078.9l7.0,4.3v8.6l-7.0,4.3l-7.0,-4.3v-8.6zM1496.0,2077.4l7.0,4.3v8.6l-7.0,4.3l-7.0,-4.3v-8.6zM1509.0,2076.0l7.0,4.3v8.6l-7.0,4.3l-7.0,-4.3v-8.6zM1522.1,2074.6l7.0,4.3v8.6l-7.0,4.3l-7.0,-4.3v-8.6zM1535.2,2073.4l7.0,4.3v8.6l-7.0,4.3l-7.0,-4.3v-8.6zM1548.3,2072.3l7.0,4.3v8.6l-7.0,4.3l-7.0,-4.3v-8.6zM1561.4,2071.4l7.0,4.3v8.6l-7.0,4.3l-7.0,-4.3v-8.6zM1574.5,2070.6l7.0,4.3v8.6l-7.0,4.3l-7.0,-4.3v-8.6zM1587.5,2069.9l7.0,4.3v8.6l-7.0,4.3l-7.0,-4.3v-8.6zM1600.6,2069.3l7.0,4.3v8.6l-7.0,4.3l-7.0,-4.3v-8.6zM1613.7,2068.8l7.0,4.3v8.6l-7.0,4.3l-7.0,-4.3v-8.6zM1626.8,2068.4l7.0,4.3v8.6l-7.0,4.3l-7.0,-4.3v-8.6zM1639.9,2068.1l7.0,4.3v8.6l-7.0,4.3l-7.0,-4.3v-8.6zM1653.0,2067.9l7.0,4.3v8.6l-7.0,4.3l-7.0,-4.3v-8.6zM1666.1,2067.6l7.0,4.3v8.6l-7.0,4.3l-7.0,-4.3v-8.6zM1679.1,2067.4l7.0,4.3v8.6l-7.0,4.3l-7.0,-4.3v-8.6zM1692.2,2067.2l7.0,4.3v8.6l-7.0,4.3l-7.0,-4.3v-8.6zM1705.3,2067.0l7.0,4.3v8.6l-7.0,4.3l-7.0,-4.3v-8.6zM1718.4,2066.8l7.0,4.3v8.6l-7.0,4.3l-7.0,-4.3v-8.6zM1731.5,2066.7l7.0,4.3v8.6l-7.0,4.3l-7.0,-4.3v-8.6zM1744.6,2066.6l7.0,4.3v8.6l-7.0,4.3l-7.0,-4.3v-8.6zM1757.6,2066.5l7.0,4.3v8.6l-7.0,4.3l-7.0,-4.3v-8.6zM1770.7,2066.4l7.0,4.3v8.6l-7.0,4.3l-7.0,-4.3v-8.6zM1783.8,2066.4l7.0,4.3v8.6l-7.0,4.3l-7.0,-4.3v-8.6zM1796.9,2066.4l7.0,4.3v8.6l-7.0,4.3l-7.0,-4.3v-8.6zM1810.0,2066.4l7.0,4.3v8.6l-7.0,4.3l-7.0,-4.3v-8.6zM1823.1,2066.5l7.0,4.3v8.6l-7.0,4.3l-7.0,-4.3v-8.6zM1836.1,2066.5l7.0,4.3v8.6l-7.0,4.3l-7.0,-4.3v-8.6zM1849.2,2066.6l7.0,4.3v8.6l-7.0,4.3l-7.0,-4.3v-8.6zM1862.3,2066.7l7.0,4.3v8.6l-7.0,4.3l-7.0,-4.3v-8.6zM1875.4,2066.8l7.0,4.3v8.6l-7.0,4.3l-7.0,-4.3v-8.6zM1888.5,2066.9l7.0,4.3v8.6l-7.0,4.3l-7.0,-4.3v-8.6zM1901.6,2067.1l7.0,4.3v8.6l-7.0,4.3l-7.0,-4.3v-8.6zM1914.6,2067.2l7.0,4.3v8.6l-7.0,4.3l-7.0,-4.3v-8.6zM1927.7,2067.4l7.0,4.3v8.6l-7.0,4.3l-7.0,-4.3v-8.6zM1940.8,2067.7l7.0,4.3v8.6l-7.0,4.3l-7.0,-4.3v-8.6zM1953.9,2067.9l7.0,4.3v8.6l-7.0,4.3l-7.0,-4.3v-8.6z" fill="#9e0a43" stroke="#7b0734" stroke-width="0.9"/>
<polyline points="1299.7,2115.5 1312.8,2107.1 1325.9,2101.2 1339.0,2096.5 1352.0,2091.5 1365.1,2086.6 1378.2,2082.2 1391.3,2078.1 1404.4,2073.9 1417.5,2069.9 1430.5,2066.0 1443.6,2062.3 1456.7,2058.8 1469.8,2056.1 1482.9,2053.9 1496.0,2052.0 1509.0,2050.1 1522.1,2048.4 1535.2,2046.7 1548.3,2045.2 1561.4,2044.0 1574.5,2043.0 1587.5,2042.1 1600.6,2041.4 1613.7,2040.7 1626.8,2040.0 1639.9,2039.4 1653.0,2038.8 1666.1,2038.3 1679.1,2037.7 1692.2,2037.2 1705.3,2036.8 1718.4,2036.3 1731.5,2035.8 1744.6,2035.3 1757.6,2034.8 1770.7,2034.3 1783.8,2033.7 1796.9,2033.1 1810.0,2032.5 1823.1,2031.8 1836.1,2031.1 1849.2,2030.4 1862.3,2029.7 1875.4,2029.0 1888.5,2028.3 1901.6,2027.5 1914.6,2026.7 1927.7,2025.9 1940.8,2025.1 1953.9,2024.3" fill="none" stroke="#d6334f" stroke-width="3.3"/><path d="M1299.7,2106.9l7.0,4.3v8.6l-7.0,4.3l-7.0,-4.3v-8.6zM1312.8,2098.5l7.0,4.3v8.6l-7.0,4.3l-7.0,-4.3v-8.6zM1325.9,2092.6l7.0,4.3v8.6l-7.0,4.3l-7.0,-4.3v-8.6zM1339.0,2087.9l7.0,4.3v8.6l-7.0,4.3l-7.0,-4.3v-8.6zM1352.0,2082.9l7.0,4.3v8.6l-7.0,4.3l-7.0,-4.3v-8.6zM1365.1,2078.0l7.0,4.3v8.6l-7.0,4.3l-7.0,-4.3v-8.6zM1378.2,2073.6l7.0,4.3v8.6l-7.0,4.3l-7.0,-4.3v-8.6zM1391.3,2069.5l7.0,4.3v8.6l-7.0,4.3l-7.0,-4.3v-8.6zM1404.4,2065.3l7.0,4.3v8.6l-7.0,4.3l-7.0,-4.3v-8.6zM1417.5,2061.3l7.0,4.3v8.6l-7.0,4.3l-7.0,-4.3v-8.6zM1430.5,2057.4l7.0,4.3v8.6l-7.0,4.3l-7.0,-4.3v-8.6zM1443.6,2053.7l7.0,4.3v8.6l-7.0,4.3l-7.0,-4.3v-8.6zM1456.7,2050.2l7.0,4.3v8.6l-7.0,4.3l-7.0,-4.3v-8.6zM1469.8,2047.5l7.0,4.3v8.6l-7.0,4.3l-7.0,-4.3v-8.6zM1482.9,2045.3l7.0,4.3v8.6l-7.0,4.3l-7.0,-4.3v-8.6zM1496.0,2043.4l7.0,4.3v8.6l-7.0,4.3l-7.0,-4.3v-8.6zM1509.0,2041.5l7.0,4.3v8.6l-7.0,4.3l-7.0,-4.3v-8.6zM1522.1,2039.8l7.0,4.3v8.6l-7.0,4.3l-7.0,-4.3v-8.6zM1535.2,2038.1l7.0,4.3v8.6l-7.0,4.3l-7.0,-4.3v-8.6zM1548.3,2036.6l7.0,4.3v8.6l-7.0,4.3l-7.0,-4.3v-8.6zM1561.4,2035.4l7.0,4.3v8.6l-7.0,4.3l-7.0,-4.3v-8.6zM1574.5,2034.4l7.0,4.3v8.6l-7.0,4.3l-7.0,-4.3v-8.6zM1587.5,2033.5l7.0,4.3v8.6l-7.0,4.3l-7.0,-4.3v-8.6zM1600.6,2032.8l7.0,4.3v8.6l-7.0,4.3l-7.0,-4.3v-8.6zM1613.7,2032.1l7.0,4.3v8.6l-7.0,4.3l-7.0,-4.3v-8.6zM1626.8,2031.4l7.0,4.3v8.6l-7.0,4.3l-7.0,-4.3v-8.6zM1639.9,2030.8l7.0,4.3v8.6l-7.0,4.3l-7.0,-4.3v-8.6zM1653.0,2030.2l7.0,4.3v8.6l-7.0,4.3l-7.0,-4.3v-8.6zM1666.1,2029.7l7.0,4.3v8.6l-7.0,4.3l-7.0,-4.3v-8.6zM1679.1,2029.1l7.0,4.3v8.6l-7.0,4.3l-7.0,-4.3v-8.6zM1692.2,2028.6l7.0,4.3v8.6l-7.0,4.3l-7.0,-4.3v-8.6zM1705.3,2028.2l7.0,4.3v8.6l-7.0,4.3l-7.0,-4.3v-8.6zM1718.4,2027.7l7.0,4.3v8.6l-7.0,4.3l-7.0,-4.3v-8.6zM1731.5,2027.2l7.0,4.3v8.6l-7.0,4.3l-7.0,-4.3v-8.6zM1744.6,2026.7l7.0,4.3v8.6l-7.0,4.3l-7.0,-4.3v-8.6zM1757.6,2026.2l7.0,4.3v8.6l-7.0,4.3l-7.0,-4.3v-8.6zM1770.7,2025.7l7.0,4.3v8.6l-7.0,4.3l-7.0,-4.3v-8.6zM1783.8,2025.1l7.0,4.3v8.6l-7.0,4.3l-7.0,-4.3v-8.6zM1796.9,2024.5l7.0,4.3v8.6l-7.0,4.3l-7.0,-4.3v-8.6zM1810.0,2023.9l7.0,4.3v8.6l-7.0,4.3l-7.0,-4.3v-8.6zM1823.1,2023.2l7.0,4.3v8.6l-7.0,4.3l-7.0,-4.3v-8.6zM1836.1,2022.5l7.0,4.3v8.6l-7.0,4.3l-7.0,-4.3v-8.6zM1849.2,2021.8l7.0,4.3v8.6l-7.0,4.3l-7.0,-4.3v-8.6zM1862.3,2021.1l7.0,4.3v8.6l-7.0,4.3l-7.0,-4.3v-8.6zM1875.4,2020.4l7.0,4.3v8.6l-7.0,4.3l-7.0,-4.3v-8.6zM1888.5,2019.7l7.0,4.3v8.6l-7.0,4.3l-7.0,-4.3v-8.6zM1901.6,2018.9l7.0,4.3v8.6l-7.0,4.3l-7.0,-4.3v-8.6zM1914.6,2018.1l7.0,4.3v8.6l-7.0,4.3l-7.0,-4.3v-8.6zM1927.7,2017.3l7.0,4.3v8.6l-7.0,4.3l-7.0,-4.3v-8.6zM1940.8,2016.5l7.0,4.3v8.6l-7.0,4.3l-7.0,-4.3v-8.6zM1953.9,2015.7l7.0,4.3v8.6l-7.0,4.3l-7.0,-4.3v-8.6z" fill="#d6334f" stroke="#a6273d" stroke-width="0.9"/>
<polyline points="1299.7,2086.0 1312.8,2076.9 1325.9,2069.0 1339.0,2060.5 1352.0,2053.5 1365.1,2047.2 1378.2,2040.3 1391.3,2034.0 1404.4,2027.1 1417.5,2020.3 1430.5,2014.5 1443.6,2010.0 1456.7,2005.1 1469.8,2000.3 1482.9,1995.7 1496.0,1991.5 1509.0,1987.4 1522.1,1983.9 1535.2,1980.6 1548.3,1977.3 1561.4,1974.4 1574.5,1972.0 1587.5,1969.5 1600.6,1966.3 1613.7,1962.1 1626.8,1958.3 1639.9,1955.5 1653.0,1953.1 1666.1,1950.8 1679.1,1948.5 1692.2,1946.3 1705.3,1944.2 1718.4,1942.2 1731.5,1940.3 1744.6,1938.5 1757.6,1936.7 1770.7,1935.2 1783.8,1933.7 1796.9,1932.4 1810.0,1931.1 1823.1,1929.8 1836.1,1928.6 1849.2,1927.4 1862.3,1926.3 1875.4,1925.2 1888.5,1924.2 1901.6,1923.3 1914.6,1922.5 1927.7,1921.7 1940.8,1921.1 1953.9,1920.5" fill="none" stroke="#f26841" stroke-width="3.3"/><path d="M1299.7,2077.4l7.0,4.3v8.6l-7.0,4.3l-7.0,-4.3v-8.6zM1312.8,2068.3l7.0,4.3v8.6l-7.0,4.3l-7.0,-4.3v-8.6zM1325.9,2060.4l7.0,4.3v8.6l-7.0,4.3l-7.0,-4.3v-8.6zM1339.0,2051.9l7.0,4.3v8.6l-7.0,4.3l-7.0,-4.3v-8.6zM1352.0,2044.9l7.0,4.3v8.6l-7.0,4.3l-7.0,-4.3v-8.6zM1365.1,2038.6l7.0,4.3v8.6l-7.0,4.3l-7.0,-4.3v-8.6zM1378.2,2031.7l7.0,4.3v8.6l-7.0,4.3l-7.0,-4.3v-8.6zM1391.3,2025.4l7.0,4.3v8.6l-7.0,4.3l-7.0,-4.3v-8.6zM1404.4,2018.5l7.0,4.3v8.6l-7.0,4.3l-7.0,-4.3v-8.6zM1417.5,2011.7l7.0,4.3v8.6l-7.0,4.3l-7.0,-4.3v-8.6zM1430.5,2005.9l7.0,4.3v8.6l-7.0,4.3l-7.0,-4.3v-8.6zM1443.6,2001.4l7.0,4.3v8.6l-7.0,4.3l-7.0,-4.3v-8.6zM1456.7,1996.5l7.0,4.3v8.6l-7.0,4.3l-7.0,-4.3v-8.6zM1469.8,1991.7l7.0,4.3v8.6l-7.0,4.3l-7.0,-4.3v-8.6zM1482.9,1987.1l7.0,4.3v8.6l-7.0,4.3l-7.0,-4.3v-8.6zM1496.0,1982.9l7.0,4.3v8.6l-7.0,4.3l-7.0,-4.3v-8.6zM1509.0,1978.8l7.0,4.3v8.6l-7.0,4.3l-7.0,-4.3v-8.6zM1522.1,1975.3l7.0,4.3v8.6l-7.0,4.3l-7.0,-4.3v-8.6zM1535.2,1972.0l7.0,4.3v8.6l-7.0,4.3l-7.0,-4.3v-8.6zM1548.3,1968.7l7.0,4.3v8.6l-7.0,4.3l-7.0,-4.3v-8.6zM1561.4,1965.8l7.0,4.3v8.6l-7.0,4.3l-7.0,-4.3v-8.6zM1574.5,1963.4l7.0,4.3v8.6l-7.0,4.3l-7.0,-4.3v-8.6zM1587.5,1960.9l7.0,4.3v8.6l-7.0,4.3l-7.0,-4.3v-8.6zM1600.6,1957.7l7.0,4.3v8.6l-7.0,4.3l-7.0,-4.3v-8.6zM1613.7,1953.5l7.0,4.3v8.6l-7.0,4.3l-7.0,-4.3v-8.6zM1626.8,1949.7l7.0,4.3v8.6l-7.0,4.3l-7.0,-4.3v-8.6zM1639.9,1946.9l7.0,4.3v8.6l-7.0,4.3l-7.0,-4.3v-8.6zM1653.0,1944.5l7.0,4.3v8.6l-7.0,4.3l-7.0,-4.3v-8.6zM1666.1,1942.2l7.0,4.3v8.6l-7.0,4.3l-7.0,-4.3v-8.6zM1679.1,1939.9l7.0,4.3v8.6l-7.0,4.3l-7.0,-4.3v-8.6zM1692.2,1937.7l7.0,4.3v8.6l-7.0,4.3l-7.0,-4.3v-8.6zM1705.3,1935.6l7.0,4.3v8.6l-7.0,4.3l-7.0,-4.3v-8.6zM1718.4,1933.6l7.0,4.3v8.6l-7.0,4.3l-7.0,-4.3v-8.6zM1731.5,1931.7l7.0,4.3v8.6l-7.0,4.3l-7.0,-4.3v-8.6zM1744.6,1929.9l7.0,4.3v8.6l-7.0,4.3l-7.0,-4.3v-8.6zM1757.6,1928.1l7.0,4.3v8.6l-7.0,4.3l-7.0,-4.3v-8.6zM1770.7,1926.6l7.0,4.3v8.6l-7.0,4.3l-7.0,-4.3v-8.6zM1783.8,1925.1l7.0,4.3v8.6l-7.0,4.3l-7.0,-4.3v-8.6zM1796.9,1923.8l7.0,4.3v8.6l-7.0,4.3l-7.0,-4.3v-8.6zM1810.0,1922.5l7.0,4.3v8.6l-7.0,4.3l-7.0,-4.3v-8.6zM1823.1,1921.2l7.0,4.3v8.6l-7.0,4.3l-7.0,-4.3v-8.6zM1836.1,1920.0l7.0,4.3v8.6l-7.0,4.3l-7.0,-4.3v-8.6zM1849.2,1918.8l7.0,4.3v8.6l-7.0,4.3l-7.0,-4.3v-8.6zM1862.3,1917.7l7.0,4.3v8.6l-7.0,4.3l-7.0,-4.3v-8.6zM1875.4,1916.6l7.0,4.3v8.6l-7.0,4.3l-7.0,-4.3v-8.6zM1888.5,1915.6l7.0,4.3v8.6l-7.0,4.3l-7.0,-4.3v-8.6zM1901.6,1914.7l7.0,4.3v8.6l-7.0,4.3l-7.0,-4.3v-8.6zM1914.6,1913.9l7.0,4.3v8.6l-7.0,4.3l-7.0,-4.3v-8.6zM1927.7,1913.1l7.0,4.3v8.6l-7.0,4.3l-7.0,-4.3v-8.6zM1940.8,1912.5l7.0,4.3v8.6l-7.0,4.3l-7.0,-4.3v-8.6zM1953.9,1911.9l7.0,4.3v8.6l-7.0,4.3l-7.0,-4.3v-8.6z" fill="#f26841" stroke="#bc5132" stroke-width="0.9"/>
<polyline points="1299.7,2083.0 1312.8,2073.4 1325.9,2064.8 1339.0,2056.0 1352.0,2048.4 1365.1,2041.4 1378.2,2034.1 1391.3,2027.1 1404.4,2019.7 1417.5,2012.7 1430.5,2006.7 1443.6,2002.0 1456.7,1996.9 1469.8,1991.8 1482.9,1986.6 1496.0,1981.8 1509.0,1977.3 1522.1,1973.6 1535.2,1969.8 1548.3,1965.6 1561.4,1961.8 1574.5,1958.5 1587.5,1955.2 1600.6,1951.5 1613.7,1947.2 1626.8,1943.3 1639.9,1940.7 1653.0,1938.0 1666.1,1935.0 1679.1,1932.0 1692.2,1928.9 1705.3,1926.0 1718.4,1923.1 1731.5,1920.2 1744.6,1917.3 1757.6,1914.6 1770.7,1912.1 1783.8,1909.8 1796.9,1907.4 1810.0,1905.0 1823.1,1902.6 1836.1,1900.3 1849.2,1898.2 1862.3,1896.4 1875.4,1894.7 1888.5,1893.2 1901.6,1891.7 1914.6,1890.3 1927.7,1889.1 1940.8,1888.0 1953.9,1887.2" fill="none" stroke="#fb9550" stroke-width="3.3"/><path d="M1299.7,2074.4l7.0,4.3v8.6l-7.0,4.3l-7.0,-4.3v-8.6zM1312.8,2064.8l7.0,4.3v8.6l-7.0,4.3l-7.0,-4.3v-8.6zM1325.9,2056.2l7.0,4.3v8.6l-7.0,4.3l-7.0,-4.3v-8.6zM1339.0,2047.4l7.0,4.3v8.6l-7.0,4.3l-7.0,-4.3v-8.6zM1352.0,2039.8l7.0,4.3v8.6l-7.0,4.3l-7.0,-4.3v-8.6zM1365.1,2032.8l7.0,4.3v8.6l-7.0,4.3l-7.0,-4.3v-8.6zM1378.2,2025.5l7.0,4.3v8.6l-7.0,4.3l-7.0,-4.3v-8.6zM1391.3,2018.5l7.0,4.3v8.6l-7.0,4.3l-7.0,-4.3v-8.6zM1404.4,2011.1l7.0,4.3v8.6l-7.0,4.3l-7.0,-4.3v-8.6zM1417.5,2004.1l7.0,4.3v8.6l-7.0,4.3l-7.0,-4.3v-8.6zM1430.5,1998.1l7.0,4.3v8.6l-7.0,4.3l-7.0,-4.3v-8.6zM1443.6,1993.4l7.0,4.3v8.6l-7.0,4.3l-7.0,-4.3v-8.6zM1456.7,1988.3l7.0,4.3v8.6l-7.0,4.3l-7.0,-4.3v-8.6zM1469.8,1983.2l7.0,4.3v8.6l-7.0,4.3l-7.0,-4.3v-8.6zM1482.9,1978.0l7.0,4.3v8.6l-7.0,4.3l-7.0,-4.3v-8.6zM1496.0,1973.2l7.0,4.3v8.6l-7.0,4.3l-7.0,-4.3v-8.6zM1509.0,1968.7l7.0,4.3v8.6l-7.0,4.3l-7.0,-4.3v-8.6zM1522.1,1965.0l7.0,4.3v8.6l-7.0,4.3l-7.0,-4.3v-8.6zM1535.2,1961.2l7.0,4.3v8.6l-7.0,4.3l-7.0,-4.3v-8.6zM1548.3,1957.0l7.0,4.3v8.6l-7.0,4.3l-7.0,-4.3v-8.6zM1561.4,1953.2l7.0,4.3v8.6l-7.0,4.3l-7.0,-4.3v-8.6zM1574.5,1949.9l7.0,4.3v8.6l-7.0,4.3l-7.0,-4.3v-8.6zM1587.5,1946.6l7.0,4.3v8.6l-7.0,4.3l-7.0,-4.3v-8.6zM1600.6,1942.9l7.0,4.3v8.6l-7.0,4.3l-7.0,-4.3v-8.6zM1613.7,1938.6l7.0,4.3v8.6l-7.0,4.3l-7.0,-4.3v-8.6zM1626.8,1934.7l7.0,4.3v8.6l-7.0,4.3l-7.0,-4.3v-8.6zM1639.9,1932.1l7.0,4.3v8.6l-7.0,4.3l-7.0,-4.3v-8.6zM1653.0,1929.4l7.0,4.3v8.6l-7.0,4.3l-7.0,-4.3v-8.6zM1666.1,1926.4l7.0,4.3v8.6l-7.0,4.3l-7.0,-4.3v-8.6zM1679.1,1923.4l7.0,4.3v8.6l-7.0,4.3l-7.0,-4.3v-8.6zM1692.2,1920.3l7.0,4.3v8.6l-7.0,4.3l-7.0,-4.3v-8.6zM1705.3,1917.4l7.0,4.3v8.6l-7.0,4.3l-7.0,-4.3v-8.6zM1718.4,1914.5l7.0,4.3v8.6l-7.0,4.3l-7.0,-4.3v-8.6zM1731.5,1911.6l7.0,4.3v8.6l-7.0,4.3l-7.0,-4.3v-8.6zM1744.6,1908.7l7.0,4.3v8.6l-7.0,4.3l-7.0,-4.3v-8.6zM1757.6,1906.0l7.0,4.3v8.6l-7.0,4.3l-7.0,-4.3v-8.6zM1770.7,1903.5l7.0,4.3v8.6l-7.0,4.3l-7.0,-4.3v-8.6zM1783.8,1901.2l7.0,4.3v8.6l-7.0,4.3l-7.0,-4.3v-8.6zM1796.9,1898.8l7.0,4.3v8.6l-7.0,4.3l-7.0,-4.3v-8.6zM1810.0,1896.4l7.0,4.3v8.6l-7.0,4.3l-7.0,-4.3v-8.6zM1823.1,1894.0l7.0,4.3v8.6l-7.0,4.3l-7.0,-4.3v-8.6zM1836.1,1891.7l7.0,4.3v8.6l-7.0,4.3l-7.0,-4.3v-8.6zM1849.2,1889.6l7.0,4.3v8.6l-7.0,4.3l-7.0,-4.3v-8.6zM1862.3,1887.8l7.0,4.3v8.6l-7.0,4.3l-7.0,-4.3v-8.6zM1875.4,1886.1l7.0,4.3v8.6l-7.0,4.3l-7.0,-4.3v-8.6zM1888.5,1884.6l7.0,4.3v8.6l-7.0,4.3l-7.0,-4.3v-8.6zM1901.6,1883.1l7.0,4.3v8.6l-7.0,4.3l-7.0,-4.3v-8.6zM1914.6,1881.7l7.0,4.3v8.6l-7.0,4.3l-7.0,-4.3v-8.6zM1927.7,1880.5l7.0,4.3v8.6l-7.0,4.3l-7.0,-4.3v-8.6zM1940.8,1879.4l7.0,4.3v8.6l-7.0,4.3l-7.0,-4.3v-8.6zM1953.9,1878.6l7.0,4.3v8.6l-7.0,4.3l-7.0,-4.3v-8.6z" fill="#fb9550" stroke="#c3743e" stroke-width="0.9"/>
<polyline points="1299.7,2076.9 1312.8,2067.1 1325.9,2058.4 1339.0,2049.8 1352.0,2042.1 1365.1,2034.9 1378.2,2027.6 1391.3,2020.5 1404.4,2013.0 1417.5,2006.0 1430.5,1999.9 1443.6,1995.2 1456.7,1990.0 1469.8,1984.7 1482.9,1979.2 1496.0,1974.0 1509.0,1969.4 1522.1,1965.7 1535.2,1961.7 1548.3,1957.2 1561.4,1952.8 1574.5,1948.8 1587.5,1944.9 1600.6,1940.8 1613.7,1936.3 1626.8,1932.4 1639.9,1929.8 1653.0,1927.0 1666.1,1923.7 1679.1,1920.1 1692.2,1916.6 1705.3,1913.2 1718.4,1909.8 1731.5,1906.4 1744.6,1902.9 1757.6,1899.7 1770.7,1896.6 1783.8,1893.9 1796.9,1891.3 1810.0,1888.7 1823.1,1886.3 1836.1,1884.0 1849.2,1881.9 1862.3,1880.1 1875.4,1878.7 1888.5,1877.4 1901.6,1876.2 1914.6,1875.1 1927.7,1874.1 1940.8,1873.4 1953.9,1872.8" fill="none" stroke="#d2eebb" stroke-width="3.3"/><path d="M1299.7,2068.3l7.0,4.3v8.6l-7.0,4.3l-7.0,-4.3v-8.6zM1312.8,2058.5l7.0,4.3v8.6l-7.0,4.3l-7.0,-4.3v-8.6zM1325.9,2049.8l7.0,4.3v8.6l-7.0,4.3l-7.0,-4.3v-8.6zM1339.0,2041.2l7.0,4.3v8.6l-7.0,4.3l-7.0,-4.3v-8.6zM1352.0,2033.5l7.0,4.3v8.6l-7.0,4.3l-7.0,-4.3v-8.6zM1365.1,2026.3l7.0,4.3v8.6l-7.0,4.3l-7.0,-4.3v-8.6zM1378.2,2019.0l7.0,4.3v8.6l-7.0,4.3l-7.0,-4.3v-8.6zM1391.3,2011.9l7.0,4.3v8.6l-7.0,4.3l-7.0,-4.3v-8.6zM1404.4,2004.4l7.0,4.3v8.6l-7.0,4.3l-7.0,-4.3v-8.6zM1417.5,1997.4l7.0,4.3v8.6l-7.0,4.3l-7.0,-4.3v-8.6zM1430.5,1991.3l7.0,4.3v8.6l-7.0,4.3l-7.0,-4.3v-8.6zM1443.6,1986.6l7.0,4.3v8.6l-7.0,4.3l-7.0,-4.3v-8.6zM1456.7,1981.4l7.0,4.3v8.6l-7.0,4.3l-7.0,-4.3v-8.6zM1469.8,1976.1l7.0,4.3v8.6l-7.0,4.3l-7.0,-4.3v-8.6zM1482.9,1970.6l7.0,4.3v8.6l-7.0,4.3l-7.0,-4.3v-8.6zM1496.0,1965.4l7.0,4.3v8.6l-7.0,4.3l-7.0,-4.3v-8.6zM1509.0,1960.8l7.0,4.3v8.6l-7.0,4.3l-7.0,-4.3v-8.6zM1522.1,1957.1l7.0,4.3v8.6l-7.0,4.3l-7.0,-4.3v-8.6zM1535.2,1953.1l7.0,4.3v8.6l-7.0,4.3l-7.0,-4.3v-8.6zM1548.3,1948.6l7.0,4.3v8.6l-7.0,4.3l-7.0,-4.3v-8.6zM1561.4,1944.2l7.0,4.3v8.6l-7.0,4.3l-7.0,-4.3v-8.6zM1574.5,1940.2l7.0,4.3v8.6l-7.0,4.3l-7.0,-4.3v-8.6zM1587.5,1936.3l7.0,4.3v8.6l-7.0,4.3l-7.0,-4.3v-8.6zM1600.6,1932.2l7.0,4.3v8.6l-7.0,4.3l-7.0,-4.3v-8.6zM1613.7,1927.7l7.0,4.3v8.6l-7.0,4.3l-7.0,-4.3v-8.6zM1626.8,1923.8l7.0,4.3v8.6l-7.0,4.3l-7.0,-4.3v-8.6zM1639.9,1921.2l7.0,4.3v8.6l-7.0,4.3l-7.0,-4.3v-8.6zM1653.0,1918.4l7.0,4.3v8.6l-7.0,4.3l-7.0,-4.3v-8.6zM1666.1,1915.1l7.0,4.3v8.6l-7.0,4.3l-7.0,-4.3v-8.6zM1679.1,1911.5l7.0,4.3v8.6l-7.0,4.3l-7.0,-4.3v-8.6zM1692.2,1908.0l7.0,4.3v8.6l-7.0,4.3l-7.0,-4.3v-8.6zM1705.3,1904.6l7.0,4.3v8.6l-7.0,4.3l-7.0,-4.3v-8.6zM1718.4,1901.2l7.0,4.3v8.6l-7.0,4.3l-7.0,-4.3v-8.6zM1731.5,1897.8l7.0,4.3v8.6l-7.0,4.3l-7.0,-4.3v-8.6zM1744.6,1894.3l7.0,4.3v8.6l-7.0,4.3l-7.0,-4.3v-8.6zM1757.6,1891.1l7.0,4.3v8.6l-7.0,4.3l-7.0,-4.3v-8.6zM1770.7,1888.0l7.0,4.3v8.6l-7.0,4.3l-7.0,-4.3v-8.6zM1783.8,1885.3l7.0,4.3v8.6l-7.0,4.3l-7.0,-4.3v-8.6zM1796.9,1882.7l7.0,4.3v8.6l-7.0,4.3l-7.0,-4.3v-8.6zM1810.0,1880.1l7.0,4.3v8.6l-7.0,4.3l-7.0,-4.3v-8.6zM1823.1,1877.7l7.0,4.3v8.6l-7.0,4.3l-7.0,-4.3v-8.6zM1836.1,1875.4l7.0,4.3v8.6l-7.0,4.3l-7.0,-4.3v-8.6zM1849.2,1873.3l7.0,4.3v8.6l-7.0,4.3l-7.0,-4.3v-8.6zM1862.3,1871.5l7.0,4.3v8.6l-7.0,4.3l-7.0,-4.3v-8.6zM1875.4,1870.1l7.0,4.3v8.6l-7.0,4.3l-7.0,-4.3v-8.6zM1888.5,1868.8l7.0,4.3v8.6l-7.0,4.3l-7.0,-4.3v-8.6zM1901.6,1867.6l7.0,4.3v8.6l-7.0,4.3l-7.0,-4.3v-8.6zM1914.6,1866.5l7.0,4.3v8.6l-7.0,4.3l-7.0,-4.3v-8.6zM1927.7,1865.5l7.0,4.3v8.6l-7.0,4.3l-7.0,-4.3v-8.6zM1940.8,1864.8l7.0,4.3v8.6l-7.0,4.3l-7.0,-4.3v-8.6zM1953.9,1864.2l7.0,4.3v8.6l-7.0,4.3l-7.0,-4.3v-8.6z" fill="#d2eebb" stroke="#a3b991" stroke-width="0.9"/>
<polyline points="1299.7,2070.8 1312.8,2061.2 1325.9,2052.5 1339.0,2044.3 1352.0,2036.8 1365.1,2029.7 1378.2,2022.5 1391.3,2015.5 1404.4,2008.0 1417.5,2001.2 1430.5,1995.3 1443.6,1990.6 1456.7,1985.6 1469.8,1980.3 1482.9,1974.8 1496.0,1969.5 1509.0,1964.9 1522.1,1961.2 1535.2,1957.2 1548.3,1952.5 1561.4,1947.8 1574.5,1943.5 1587.5,1939.4 1600.6,1935.1 1613.7,1930.6 1626.8,1926.8 1639.9,1924.3 1653.0,1921.3 1666.1,1917.8 1679.1,1913.9 1692.2,1910.1 1705.3,1906.4 1718.4,1902.7 1731.5,1898.8 1744.6,1895.0 1757.6,1891.4 1770.7,1888.0 1783.8,1885.0 1796.9,1882.2 1810.0,1879.4 1823.1,1876.8 1836.1,1874.4 1849.2,1872.3 1862.3,1870.5 1875.4,1869.2 1888.5,1867.9 1901.6,1866.8 1914.6,1865.7 1927.7,1864.9 1940.8,1864.2 1953.9,1863.8" fill="none" stroke="#8fd0b0" stroke-width="3.3"/><path d="M1299.7,2062.2l7.0,4.3v8.6l-7.0,4.3l-7.0,-4.3v-8.6zM1312.8,2052.6l7.0,4.3v8.6l-7.0,4.3l-7.0,-4.3v-8.6zM1325.9,2043.9l7.0,4.3v8.6l-7.0,4.3l-7.0,-4.3v-8.6zM1339.0,2035.7l7.0,4.3v8.6l-7.0,4.3l-7.0,-4.3v-8.6zM1352.0,2028.2l7.0,4.3v8.6l-7.0,4.3l-7.0,-4.3v-8.6zM1365.1,2021.1l7.0,4.3v8.6l-7.0,4.3l-7.0,-4.3v-8.6zM1378.2,2013.9l7.0,4.3v8.6l-7.0,4.3l-7.0,-4.3v-8.6zM1391.3,2006.9l7.0,4.3v8.6l-7.0,4.3l-7.0,-4.3v-8.6zM1404.4,1999.4l7.0,4.3v8.6l-7.0,4.3l-7.0,-4.3v-8.6zM1417.5,1992.6l7.0,4.3v8.6l-7.0,4.3l-7.0,-4.3v-8.6zM1430.5,1986.7l7.0,4.3v8.6l-7.0,4.3l-7.0,-4.3v-8.6zM1443.6,1982.0l7.0,4.3v8.6l-7.0,4.3l-7.0,-4.3v-8.6zM1456.7,1977.0l7.0,4.3v8.6l-7.0,4.3l-7.0,-4.3v-8.6zM1469.8,1971.7l7.0,4.3v8.6l-7.0,4.3l-7.0,-4.3v-8.6zM1482.9,1966.2l7.0,4.3v8.6l-7.0,4.3l-7.0,-4.3v-8.6zM1496.0,1960.9l7.0,4.3v8.6l-7.0,4.3l-7.0,-4.3v-8.6zM1509.0,1956.3l7.0,4.3v8.6l-7.0,4.3l-7.0,-4.3v-8.6zM1522.1,1952.6l7.0,4.3v8.6l-7.0,4.3l-7.0,-4.3v-8.6zM1535.2,1948.6l7.0,4.3v8.6l-7.0,4.3l-7.0,-4.3v-8.6zM1548.3,1943.9l7.0,4.3v8.6l-7.0,4.3l-7.0,-4.3v-8.6zM1561.4,1939.2l7.0,4.3v8.6l-7.0,4.3l-7.0,-4.3v-8.6zM1574.5,1934.9l7.0,4.3v8.6l-7.0,4.3l-7.0,-4.3v-8.6zM1587.5,1930.8l7.0,4.3v8.6l-7.0,4.3l-7.0,-4.3v-8.6zM1600.6,1926.5l7.0,4.3v8.6l-7.0,4.3l-7.0,-4.3v-8.6zM1613.7,1922.0l7.0,4.3v8.6l-7.0,4.3l-7.0,-4.3v-8.6zM1626.8,1918.2l7.0,4.3v8.6l-7.0,4.3l-7.0,-4.3v-8.6zM1639.9,1915.7l7.0,4.3v8.6l-7.0,4.3l-7.0,-4.3v-8.6zM1653.0,1912.7l7.0,4.3v8.6l-7.0,4.3l-7.0,-4.3v-8.6zM1666.1,1909.2l7.0,4.3v8.6l-7.0,4.3l-7.0,-4.3v-8.6zM1679.1,1905.3l7.0,4.3v8.6l-7.0,4.3l-7.0,-4.3v-8.6zM1692.2,1901.5l7.0,4.3v8.6l-7.0,4.3l-7.0,-4.3v-8.6zM1705.3,1897.8l7.0,4.3v8.6l-7.0,4.3l-7.0,-4.3v-8.6zM1718.4,1894.1l7.0,4.3v8.6l-7.0,4.3l-7.0,-4.3v-8.6zM1731.5,1890.2l7.0,4.3v8.6l-7.0,4.3l-7.0,-4.3v-8.6zM1744.6,1886.4l7.0,4.3v8.6l-7.0,4.3l-7.0,-4.3v-8.6zM1757.6,1882.8l7.0,4.3v8.6l-7.0,4.3l-7.0,-4.3v-8.6zM1770.7,1879.4l7.0,4.3v8.6l-7.0,4.3l-7.0,-4.3v-8.6zM1783.8,1876.4l7.0,4.3v8.6l-7.0,4.3l-7.0,-4.3v-8.6zM1796.9,1873.6l7.0,4.3v8.6l-7.0,4.3l-7.0,-4.3v-8.6zM1810.0,1870.8l7.0,4.3v8.6l-7.0,4.3l-7.0,-4.3v-8.6zM1823.1,1868.2l7.0,4.3v8.6l-7.0,4.3l-7.0,-4.3v-8.6zM1836.1,1865.8l7.0,4.3v8.6l-7.0,4.3l-7.0,-4.3v-8.6zM1849.2,1863.7l7.0,4.3v8.6l-7.0,4.3l-7.0,-4.3v-8.6zM1862.3,1861.9l7.0,4.3v8.6l-7.0,4.3l-7.0,-4.3v-8.6zM1875.4,1860.6l7.0,4.3v8.6l-7.0,4.3l-7.0,-4.3v-8.6zM1888.5,1859.3l7.0,4.3v8.6l-7.0,4.3l-7.0,-4.3v-8.6zM1901.6,1858.2l7.0,4.3v8.6l-7.0,4.3l-7.0,-4.3v-8.6zM1914.6,1857.1l7.0,4.3v8.6l-7.0,4.3l-7.0,-4.3v-8.6zM1927.7,1856.3l7.0,4.3v8.6l-7.0,4.3l-7.0,-4.3v-8.6zM1940.8,1855.6l7.0,4.3v8.6l-7.0,4.3l-7.0,-4.3v-8.6zM1953.9,1855.2l7.0,4.3v8.6l-7.0,4.3l-7.0,-4.3v-8.6z" fill="#8fd0b0" stroke="#6fa289" stroke-width="0.9"/>
<polyline points="1299.7,2065.5 1312.8,2056.2 1325.9,2047.6 1339.0,2039.9 1352.0,2032.6 1365.1,2025.6 1378.2,2018.7 1391.3,2011.9 1404.4,2004.6 1417.5,1998.0 1430.5,1992.2 1443.6,1987.8 1456.7,1982.9 1469.8,1977.7 1482.9,1972.2 1496.0,1967.0 1509.0,1962.5 1522.1,1959.0 1535.2,1955.2 1548.3,1950.5 1561.4,1945.8 1574.5,1941.5 1587.5,1937.5 1600.6,1933.3 1613.7,1929.0 1626.8,1925.3 1639.9,1923.0 1653.0,1920.0 1666.1,1916.4 1679.1,1912.5 1692.2,1908.6 1705.3,1904.8 1718.4,1901.0 1731.5,1897.1 1744.6,1893.3 1757.6,1889.5 1770.7,1886.0 1783.8,1883.0 1796.9,1880.1 1810.0,1877.4 1823.1,1874.7 1836.1,1872.3 1849.2,1870.1 1862.3,1868.4 1875.4,1867.0 1888.5,1865.8 1901.6,1864.7 1914.6,1863.7 1927.7,1862.8 1940.8,1862.2 1953.9,1861.8" fill="none" stroke="#55b0a8" stroke-width="3.3"/><path d="M1299.7,2056.9l7.0,4.3v8.6l-7.0,4.3l-7.0,-4.3v-8.6zM1312.8,2047.6l7.0,4.3v8.6l-7.0,4.3l-7.0,-4.3v-8.6zM1325.9,2039.0l7.0,4.3v8.6l-7.0,4.3l-7.0,-4.3v-8.6zM1339.0,2031.3l7.0,4.3v8.6l-7.0,4.3l-7.0,-4.3v-8.6zM1352.0,2024.0l7.0,4.3v8.6l-7.0,4.3l-7.0,-4.3v-8.6zM1365.1,2017.0l7.0,4.3v8.6l-7.0,4.3l-7.0,-4.3v-8.6zM1378.2,2010.1l7.0,4.3v8.6l-7.0,4.3l-7.0,-4.3v-8.6zM1391.3,2003.3l7.0,4.3v8.6l-7.0,4.3l-7.0,-4.3v-8.6zM1404.4,1996.0l7.0,4.3v8.6l-7.0,4.3l-7.0,-4.3v-8.6zM1417.5,1989.4l7.0,4.3v8.6l-7.0,4.3l-7.0,-4.3v-8.6zM1430.5,1983.6l7.0,4.3v8.6l-7.0,4.3l-7.0,-4.3v-8.6zM1443.6,1979.2l7.0,4.3v8.6l-7.0,4.3l-7.0,-4.3v-8.6zM1456.7,1974.3l7.0,4.3v8.6l-7.0,4.3l-7.0,-4.3v-8.6zM1469.8,1969.1l7.0,4.3v8.6l-7.0,4.3l-7.0,-4.3v-8.6zM1482.9,1963.6l7.0,4.3v8.6l-7.0,4.3l-7.0,-4.3v-8.6zM1496.0,1958.4l7.0,4.3v8.6l-7.0,4.3l-7.0,-4.3v-8.6zM1509.0,1953.9l7.0,4.3v8.6l-7.0,4.3l-7.0,-4.3v-8.6zM1522.1,1950.4l7.0,4.3v8.6l-7.0,4.3l-7.0,-4.3v-8.6zM1535.2,1946.6l7.0,4.3v8.6l-7.0,4.3l-7.0,-4.3v-8.6zM1548.3,1941.9l7.0,4.3v8.6l-7.0,4.3l-7.0,-4.3v-8.6zM1561.4,1937.2l7.0,4.3v8.6l-7.0,4.3l-7.0,-4.3v-8.6zM1574.5,1932.9l7.0,4.3v8.6l-7.0,4.3l-7.0,-4.3v-8.6zM1587.5,1928.9l7.0,4.3v8.6l-7.0,4.3l-7.0,-4.3v-8.6zM1600.6,1924.7l7.0,4.3v8.6l-7.0,4.3l-7.0,-4.3v-8.6zM1613.7,1920.4l7.0,4.3v8.6l-7.0,4.3l-7.0,-4.3v-8.6zM1626.8,1916.7l7.0,4.3v8.6l-7.0,4.3l-7.0,-4.3v-8.6zM1639.9,1914.4l7.0,4.3v8.6l-7.0,4.3l-7.0,-4.3v-8.6zM1653.0,1911.4l7.0,4.3v8.6l-7.0,4.3l-7.0,-4.3v-8.6zM1666.1,1907.8l7.0,4.3v8.6l-7.0,4.3l-7.0,-4.3v-8.6zM1679.1,1903.9l7.0,4.3v8.6l-7.0,4.3l-7.0,-4.3v-8.6zM1692.2,1900.0l7.0,4.3v8.6l-7.0,4.3l-7.0,-4.3v-8.6zM1705.3,1896.2l7.0,4.3v8.6l-7.0,4.3l-7.0,-4.3v-8.6zM1718.4,1892.4l7.0,4.3v8.6l-7.0,4.3l-7.0,-4.3v-8.6zM1731.5,1888.5l7.0,4.3v8.6l-7.0,4.3l-7.0,-4.3v-8.6zM1744.6,1884.7l7.0,4.3v8.6l-7.0,4.3l-7.0,-4.3v-8.6zM1757.6,1880.9l7.0,4.3v8.6l-7.0,4.3l-7.0,-4.3v-8.6zM1770.7,1877.4l7.0,4.3v8.6l-7.0,4.3l-7.0,-4.3v-8.6zM1783.8,1874.4l7.0,4.3v8.6l-7.0,4.3l-7.0,-4.3v-8.6zM1796.9,1871.5l7.0,4.3v8.6l-7.0,4.3l-7.0,-4.3v-8.6zM1810.0,1868.8l7.0,4.3v8.6l-7.0,4.3l-7.0,-4.3v-8.6zM1823.1,1866.1l7.0,4.3v8.6l-7.0,4.3l-7.0,-4.3v-8.6zM1836.1,1863.7l7.0,4.3v8.6l-7.0,4.3l-7.0,-4.3v-8.6zM1849.2,1861.5l7.0,4.3v8.6l-7.0,4.3l-7.0,-4.3v-8.6zM1862.3,1859.8l7.0,4.3v8.6l-7.0,4.3l-7.0,-4.3v-8.6zM1875.4,1858.4l7.0,4.3v8.6l-7.0,4.3l-7.0,-4.3v-8.6zM1888.5,1857.2l7.0,4.3v8.6l-7.0,4.3l-7.0,-4.3v-8.6zM1901.6,1856.1l7.0,4.3v8.6l-7.0,4.3l-7.0,-4.3v-8.6zM1914.6,1855.1l7.0,4.3v8.6l-7.0,4.3l-7.0,-4.3v-8.6zM1927.7,1854.2l7.0,4.3v8.6l-7.0,4.3l-7.0,-4.3v-8.6zM1940.8,1853.6l7.0,4.3v8.6l-7.0,4.3l-7.0,-4.3v-8.6zM1953.9,1853.2l7.0,4.3v8.6l-7.0,4.3l-7.0,-4.3v-8.6z" fill="#55b0a8" stroke="#428983" stroke-width="0.9"/>
<polyline points="1299.7,2056.4 1312.8,2047.4 1325.9,2039.1 1339.0,2032.0 1352.0,2025.0 1365.1,2018.1 1378.2,2011.6 1391.3,2004.9 1404.4,1997.8 1417.5,1991.5 1430.5,1986.0 1443.6,1981.7 1456.7,1977.1 1469.8,1972.0 1482.9,1966.5 1496.0,1961.2 1509.0,1956.8 1522.1,1953.4 1535.2,1949.6 1548.3,1944.7 1561.4,1939.7 1574.5,1935.1 1587.5,1930.8 1600.6,1926.5 1613.7,1922.3 1626.8,1918.7 1639.9,1916.5 1653.0,1913.4 1666.1,1909.7 1679.1,1905.5 1692.2,1901.3 1705.3,1897.3 1718.4,1893.3 1731.5,1889.1 1744.6,1884.9 1757.6,1880.8 1770.7,1877.1 1783.8,1873.8 1796.9,1870.9 1810.0,1868.0 1823.1,1865.3 1836.1,1862.9 1849.2,1860.8 1862.3,1859.1 1875.4,1858.0 1888.5,1856.9 1901.6,1855.9 1914.6,1855.1 1927.7,1854.4 1940.8,1854.0 1953.9,1853.8" fill="none" stroke="#3a7bbf" stroke-width="3.3"/><path d="M1299.7,2047.8l7.0,4.3v8.6l-7.0,4.3l-7.0,-4.3v-8.6zM1312.8,2038.8l7.0,4.3v8.6l-7.0,4.3l-7.0,-4.3v-8.6zM1325.9,2030.5l7.0,4.3v8.6l-7.0,4.3l-7.0,-4.3v-8.6zM1339.0,2023.4l7.0,4.3v8.6l-7.0,4.3l-7.0,-4.3v-8.6zM1352.0,2016.4l7.0,4.3v8.6l-7.0,4.3l-7.0,-4.3v-8.6zM1365.1,2009.5l7.0,4.3v8.6l-7.0,4.3l-7.0,-4.3v-8.6zM1378.2,2003.0l7.0,4.3v8.6l-7.0,4.3l-7.0,-4.3v-8.6zM1391.3,1996.3l7.0,4.3v8.6l-7.0,4.3l-7.0,-4.3v-8.6zM1404.4,1989.2l7.0,4.3v8.6l-7.0,4.3l-7.0,-4.3v-8.6zM1417.5,1982.9l7.0,4.3v8.6l-7.0,4.3l-7.0,-4.3v-8.6zM1430.5,1977.4l7.0,4.3v8.6l-7.0,4.3l-7.0,-4.3v-8.6zM1443.6,1973.1l7.0,4.3v8.6l-7.0,4.3l-7.0,-4.3v-8.6zM1456.7,1968.5l7.0,4.3v8.6l-7.0,4.3l-7.0,-4.3v-8.6zM1469.8,1963.4l7.0,4.3v8.6l-7.0,4.3l-7.0,-4.3v-8.6zM1482.9,1957.9l7.0,4.3v8.6l-7.0,4.3l-7.0,-4.3v-8.6zM1496.0,1952.6l7.0,4.3v8.6l-7.0,4.3l-7.0,-4.3v-8.6zM1509.0,1948.2l7.0,4.3v8.6l-7.0,4.3l-7.0,-4.3v-8.6zM1522.1,1944.8l7.0,4.3v8.6l-7.0,4.3l-7.0,-4.3v-8.6zM1535.2,1941.0l7.0,4.3v8.6l-7.0,4.3l-7.0,-4.3v-8.6zM1548.3,1936.1l7.0,4.3v8.6l-7.0,4.3l-7.0,-4.3v-8.6zM1561.4,1931.1l7.0,4.3v8.6l-7.0,4.3l-7.0,-4.3v-8.6zM1574.5,1926.5l7.0,4.3v8.6l-7.0,4.3l-7.0,-4.3v-8.6zM1587.5,1922.2l7.0,4.3v8.6l-7.0,4.3l-7.0,-4.3v-8.6zM1600.6,1917.9l7.0,4.3v8.6l-7.0,4.3l-7.0,-4.3v-8.6zM1613.7,1913.7l7.0,4.3v8.6l-7.0,4.3l-7.0,-4.3v-8.6zM1626.8,1910.1l7.0,4.3v8.6l-7.0,4.3l-7.0,-4.3v-8.6zM1639.9,1907.9l7.0,4.3v8.6l-7.0,4.3l-7.0,-4.3v-8.6zM1653.0,1904.8l7.0,4.3v8.6l-7.0,4.3l-7.0,-4.3v-8.6zM1666.1,1901.1l7.0,4.3v8.6l-7.0,4.3l-7.0,-4.3v-8.6zM1679.1,1896.9l7.0,4.3v8.6l-7.0,4.3l-7.0,-4.3v-8.6zM1692.2,1892.7l7.0,4.3v8.6l-7.0,4.3l-7.0,-4.3v-8.6zM1705.3,1888.7l7.0,4.3v8.6l-7.0,4.3l-7.0,-4.3v-8.6zM1718.4,1884.7l7.0,4.3v8.6l-7.0,4.3l-7.0,-4.3v-8.6zM1731.5,1880.5l7.0,4.3v8.6l-7.0,4.3l-7.0,-4.3v-8.6zM1744.6,1876.3l7.0,4.3v8.6l-7.0,4.3l-7.0,-4.3v-8.6zM1757.6,1872.2l7.0,4.3v8.6l-7.0,4.3l-7.0,-4.3v-8.6zM1770.7,1868.5l7.0,4.3v8.6l-7.0,4.3l-7.0,-4.3v-8.6zM1783.8,1865.2l7.0,4.3v8.6l-7.0,4.3l-7.0,-4.3v-8.6zM1796.9,1862.3l7.0,4.3v8.6l-7.0,4.3l-7.0,-4.3v-8.6zM1810.0,1859.4l7.0,4.3v8.6l-7.0,4.3l-7.0,-4.3v-8.6zM1823.1,1856.7l7.0,4.3v8.6l-7.0,4.3l-7.0,-4.3v-8.6zM1836.1,1854.3l7.0,4.3v8.6l-7.0,4.3l-7.0,-4.3v-8.6zM1849.2,1852.2l7.0,4.3v8.6l-7.0,4.3l-7.0,-4.3v-8.6zM1862.3,1850.5l7.0,4.3v8.6l-7.0,4.3l-7.0,-4.3v-8.6zM1875.4,1849.4l7.0,4.3v8.6l-7.0,4.3l-7.0,-4.3v-8.6zM1888.5,1848.3l7.0,4.3v8.6l-7.0,4.3l-7.0,-4.3v-8.6zM1901.6,1847.3l7.0,4.3v8.6l-7.0,4.3l-7.0,-4.3v-8.6zM1914.6,1846.5l7.0,4.3v8.6l-7.0,4.3l-7.0,-4.3v-8.6zM1927.7,1845.8l7.0,4.3v8.6l-7.0,4.3l-7.0,-4.3v-8.6zM1940.8,1845.4l7.0,4.3v8.6l-7.0,4.3l-7.0,-4.3v-8.6zM1953.9,1845.2l7.0,4.3v8.6l-7.0,4.3l-7.0,-4.3v-8.6z" fill="#3a7bbf" stroke="#2d5f94" stroke-width="0.9"/>
<g font-family="'Liberation Sans', Arial, sans-serif">
<text x="1013.6" y="52.8" font-size="72.5" fill="#000" stroke="#000" stroke-width="0.8">b</text>
<text x="1008.1" y="927.7" font-size="72.5" fill="#000" stroke="#000" stroke-width="0.8">d</text>
<text x="1012.4" y="1784.0" font-size="72.5" fill="#000" stroke="#000" stroke-width="0.8">f</text>
<text x="1477.6" y="83.9" font-size="37" fill="#000" stroke="#000" stroke-width="0.8">V<tspan font-size="27" dy="9.7">DS</tspan><tspan dy="-9.7">=0.5 V to 3.0 V</tspan></text>
<text x="1477.6" y="137.7" font-size="37" fill="#000" stroke="#000" stroke-width="0.8">Step 0.5 V</text>
<text x="1508.5" y="576.7" font-size="40.5" fill="#000" stroke="#000" stroke-width="0.8">Graphene as Gate</text>
<text x="1509.7" y="625.4" font-size="40.3" fill="#000" stroke="#000" stroke-width="0.8">V<tspan font-size="29" dy="11.4">Al</tspan><tspan dy="-11.4">=0 V, V</tspan><tspan font-size="29" dy="11.4">BS</tspan><tspan dy="-11.4">=0 V</tspan></text>
<text x="1839.5" y="299.6" font-size="34" fill="#a8344f" stroke="#a8344f" stroke-width="0.8">100 mV</text>
<text x="1850.5" y="402.0" font-size="34" fill="#8b1a45" stroke="#8b1a45" stroke-width="0.8">50 mV</text>
<text x="1845.5" y="480.6" font-size="34" fill="#4a0a1f" stroke="#4a0a1f" stroke-width="0.8">10 mV</text>
<text x="1477.6" y="945.9" font-size="37" fill="#000" stroke="#000" stroke-width="0.8">V<tspan font-size="27" dy="9.7">Al</tspan><tspan dy="-9.7">=-2.0 V to 2.0 V</tspan></text>
<text x="1477.6" y="999.7" font-size="37" fill="#000" stroke="#000" stroke-width="0.8">Step 1.0 V</text>
<text x="1508.5" y="1438.7" font-size="40.5" fill="#000" stroke="#000" stroke-width="0.8">Graphene as Gate</text>
<text x="1509.7" y="1487.4" font-size="40.3" fill="#000" stroke="#000" stroke-width="0.8">V<tspan font-size="29" dy="11.4">DS</tspan><tspan dy="-11.4">=1 V, V</tspan><tspan font-size="29" dy="11.4">BS</tspan><tspan dy="-11.4">=0 V</tspan></text>
<text x="1477.6" y="1793.9" font-size="37" fill="#000" stroke="#000" stroke-width="0.8">V<tspan font-size="27" dy="9.7">DS</tspan><tspan dy="-9.7">=0.5 V to 3.0 V</tspan></text>
<text x="1477.6" y="1847.7" font-size="37" fill="#000" stroke="#000" stroke-width="0.8">Step 0.5 V</text>
<text x="1506.8" y="2286.7" font-size="40.5" fill="#000" stroke="#000" stroke-width="0.8">Al layer as Gate</text>
<text x="1509.7" y="2335.4" font-size="40.3" fill="#000" stroke="#000" stroke-width="0.8">V<tspan font-size="29" dy="11.4">Gr</tspan><tspan dy="-11.4">=0 V, V</tspan><tspan font-size="29" dy="11.4">BS</tspan><tspan dy="-11.4">=0 V</tspan></text>
<text x="1838.3" y="2009.8" font-size="34" fill="#a8344f" stroke="#a8344f" stroke-width="0.8">100 mV</text>
<text x="1850.0" y="2112.4" font-size="34" fill="#8b1a45" stroke="#8b1a45" stroke-width="0.8">50 mV</text>
<text x="1843.8" y="2191.2" font-size="34" fill="#4a0a1f" stroke="#4a0a1f" stroke-width="0.8">10 mV</text>
</g>
<line x1="1844.0" y1="247.7" x2="1757.2" y2="116.5" stroke="#000" stroke-width="3.0"/><polygon points="1747.9,102.5 1764.1,117.0 1754.9,123.0" fill="#000"/>
<line x1="1837.0" y1="1162.0" x2="1754.8" y2="980.5" stroke="#000" stroke-width="3.0"/><polygon points="1747.9,965.2 1761.6,982.1 1751.6,986.6" fill="#000"/>
<line x1="1844.0" y1="1957.7" x2="1757.2" y2="1826.5" stroke="#000" stroke-width="3.0"/><polygon points="1747.9,1812.5 1764.1,1827.0 1754.9,1833.0" fill="#000"/></svg></body></html>
